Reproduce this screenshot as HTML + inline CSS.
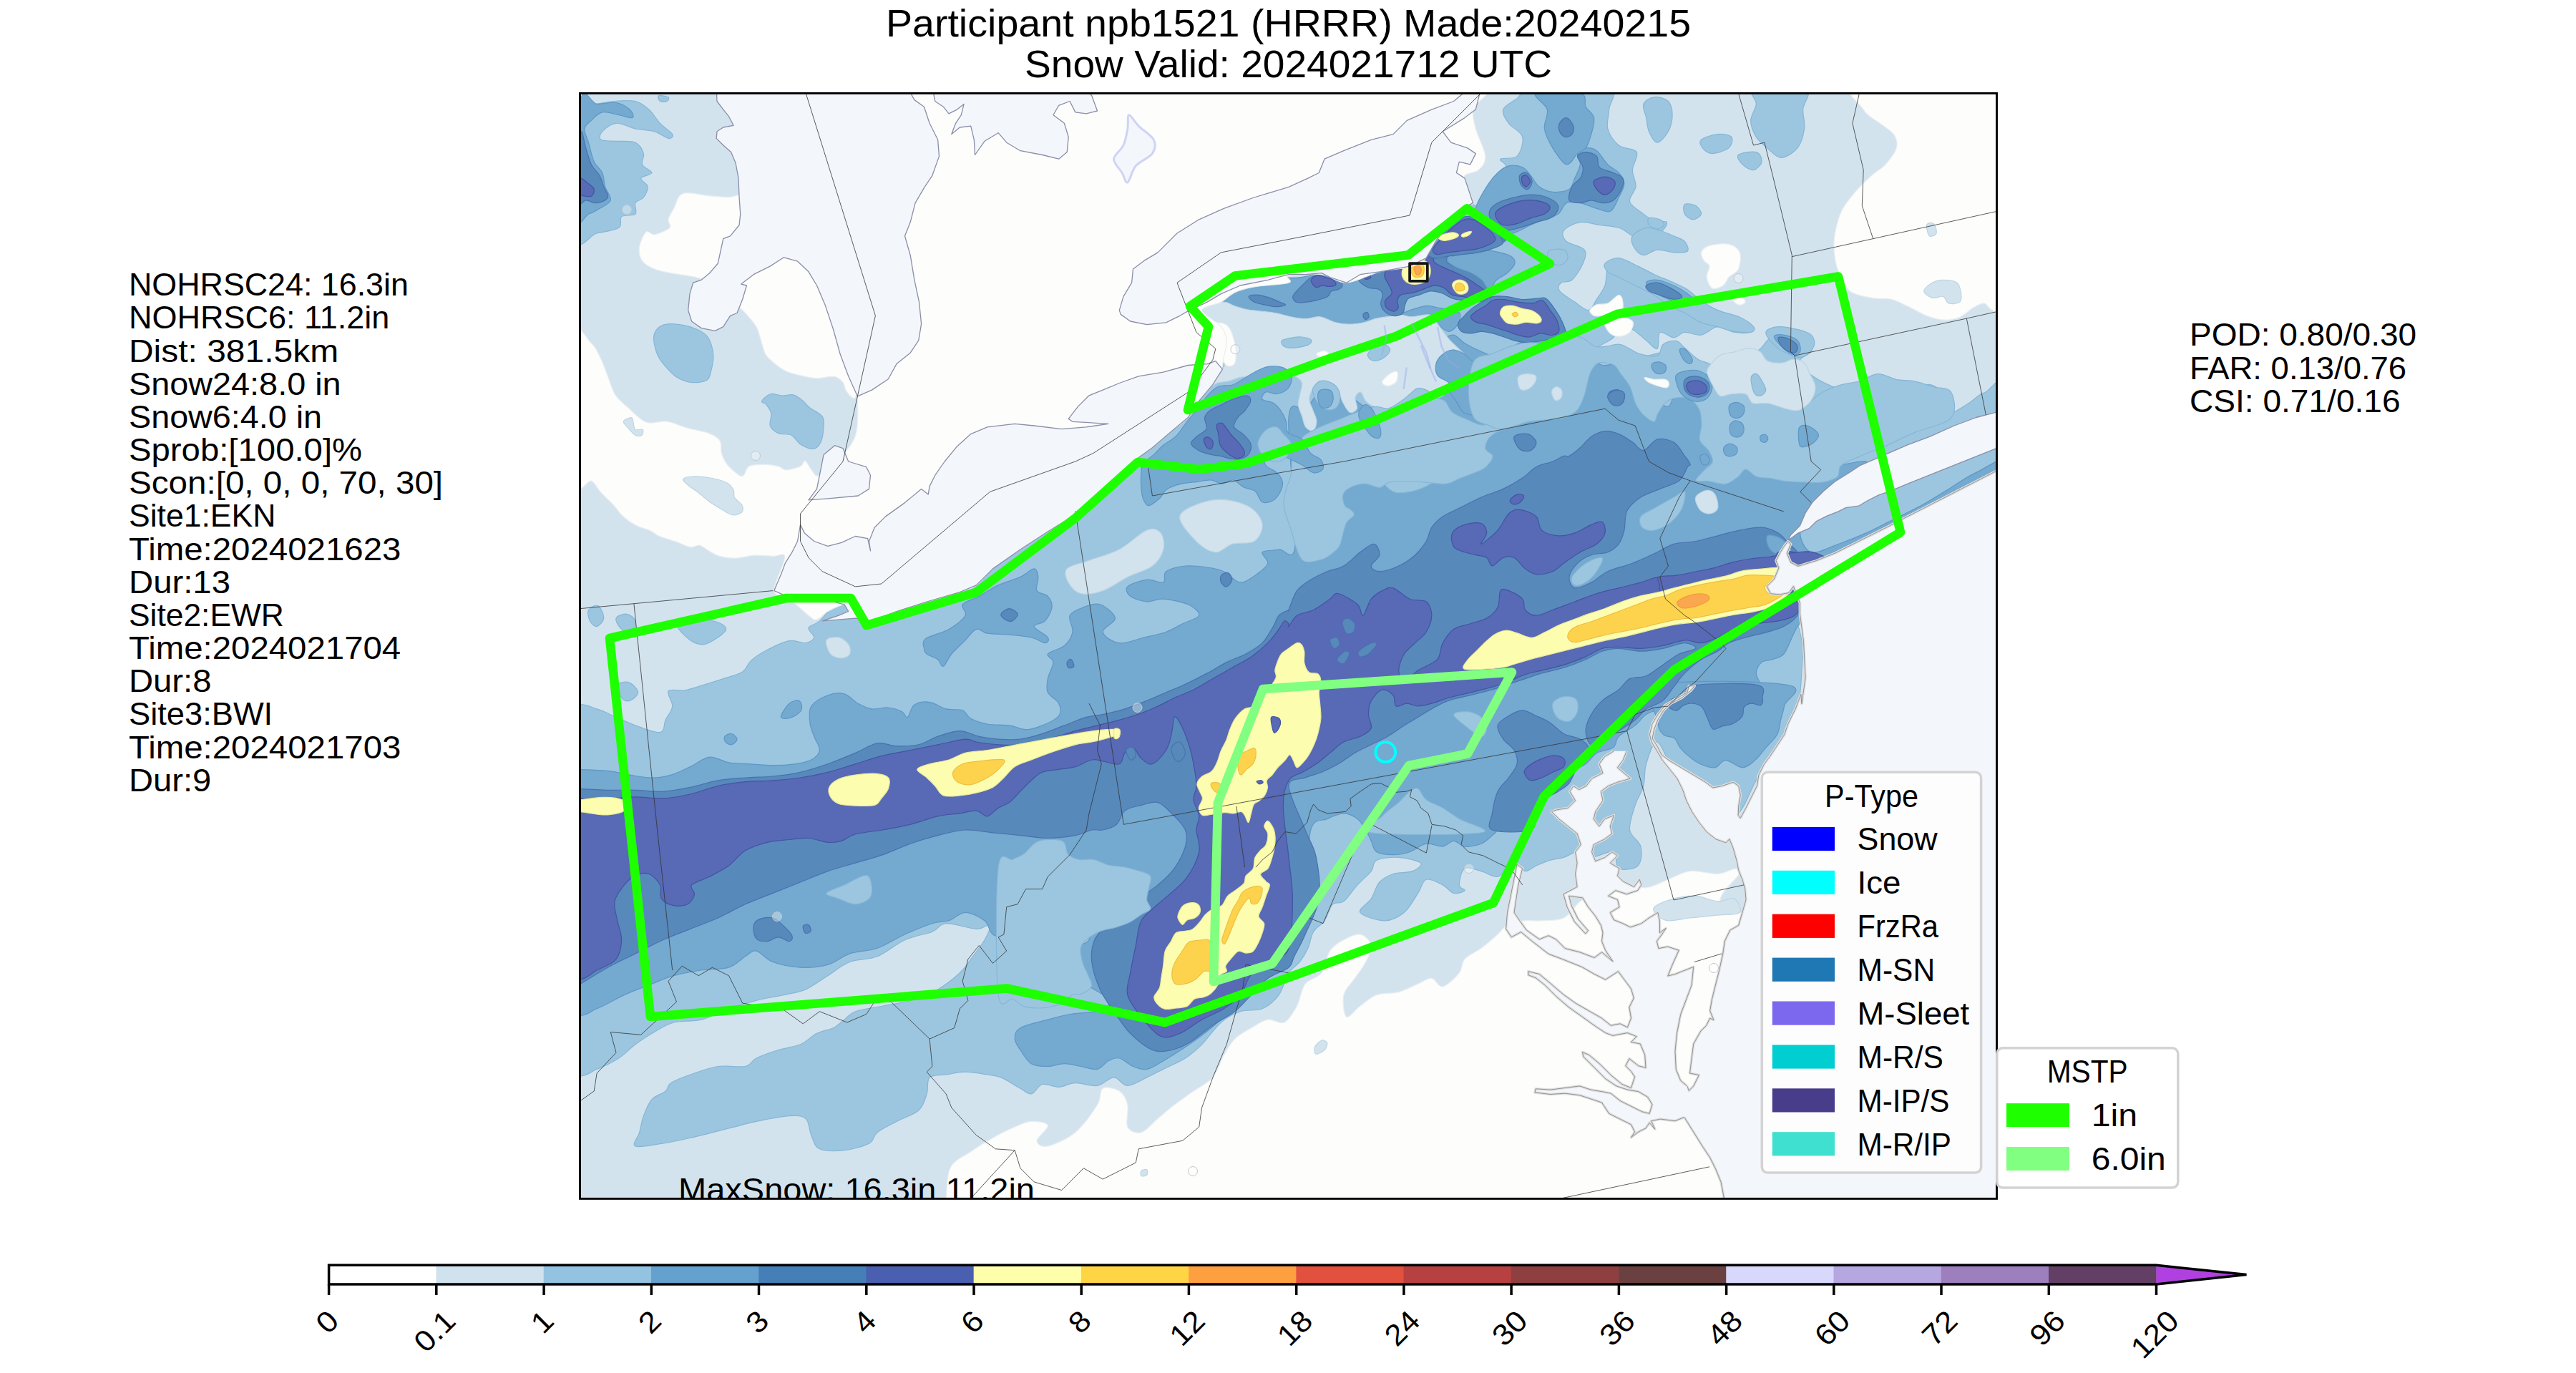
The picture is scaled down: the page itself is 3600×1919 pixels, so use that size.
<!DOCTYPE html>
<html lang="en"><head><meta charset="utf-8"><title>Snow Valid: 2024021712 UTC</title>
<style>html,body{margin:0;padding:0;background:#fff;}svg{display:block;}svg text{font-family:"Liberation Sans",sans-serif;}</style></head>
<body>
<svg width="3600" height="1919" viewBox="0 0 3600 1919" style="font-family:'Liberation Sans',sans-serif" fill="#000">
<rect width="3600" height="1919" fill="#fff"/>
<defs><clipPath id="ax"><rect x="810.5" y="130.4" width="1980.0" height="1545.0"/></clipPath></defs>
<g clip-path="url(#ax)">
<rect x="800" y="120" width="2000" height="1570" fill="#d2e3ee"/>
<path d="M657.3 983.2 C680.3 896.1 766.2 981.9 795.6 983.2 C825.1 984.5 823.8 988.0 834.1 990.9 C844.3 993.8 848.2 996.7 857.1 1000.5 C866.1 1004.3 877.0 1010.1 887.9 1013.9 C898.8 1017.8 915.4 1024.8 922.5 1023.6 C929.5 1022.3 927.3 1012.3 930.1 1006.3 C933.0 1000.2 939.1 993.8 939.7 987.0 C940.4 980.3 931.1 969.6 934.0 965.9 C936.9 962.2 948.7 966.2 957.0 964.8 C965.4 963.3 975.0 959.8 983.9 957.1 C992.9 954.4 1001.9 951.6 1010.8 948.6 C1019.8 945.6 1031.3 943.2 1037.7 939.0 C1044.2 934.8 1043.5 928.8 1049.3 923.6 C1055.0 918.5 1063.4 912.9 1072.3 908.3 C1081.3 903.6 1094.1 897.2 1103.1 895.6 C1112.1 894.0 1120.4 899.4 1126.1 898.7 C1131.9 897.9 1137.0 894.5 1137.7 891.0 C1138.3 887.4 1128.7 881.4 1130.0 877.5 C1131.3 873.7 1137.0 874.6 1145.4 867.9 C1153.7 861.2 1158.8 847.4 1179.9 837.2 C1201.1 826.9 1237.6 819.2 1272.2 806.4 C1306.8 793.6 1349.0 780.8 1387.5 760.3 C1425.9 739.8 1470.1 703.9 1502.8 683.4 C1535.4 662.9 1549.5 666.1 1583.5 637.3 C1617.4 608.5 1685.0 537.4 1706.5 510.5 C1727.9 483.6 1716.7 488.7 1712.2 475.9 C1707.7 463.1 1676.0 447.1 1679.6 433.6 C1683.1 420.2 1713.1 402.9 1733.4 395.2 C1753.6 387.5 1776.9 388.1 1801.0 387.5 C1825.1 386.9 1850.3 394.2 1877.9 391.3 C1905.4 388.5 1945.8 378.5 1966.3 370.2 C1986.8 361.9 1986.8 355.1 2000.8 341.4 C2014.9 327.6 2039.3 295.9 2050.8 287.6 C2062.3 279.2 2064.3 296.5 2070.0 291.4 C2075.8 286.3 2079.6 266.4 2085.4 256.8 C2091.2 247.2 2102.7 239.5 2104.6 233.8 C2106.5 228.0 2094.4 224.8 2096.9 222.2 C2099.5 219.7 2114.9 223.5 2120.0 218.4 C2125.1 213.3 2129.6 199.2 2127.7 191.5 C2125.8 183.8 2112.9 178.7 2108.5 172.3 C2104.0 165.9 2098.8 158.8 2100.8 153.1 C2102.7 147.3 2112.3 143.5 2120.0 137.7 C2127.7 131.9 2125.4 121.7 2146.9 118.5 C2168.3 115.3 2231.8 112.7 2248.7 118.5 C2265.7 124.2 2249.1 142.8 2248.7 153.1 C2248.4 163.3 2244.6 171.6 2246.8 180.0 C2249.1 188.3 2255.5 197.6 2262.2 203.0 C2268.9 208.5 2284.0 206.9 2287.2 212.6 C2290.4 218.4 2281.6 229.6 2281.4 237.6 C2281.2 245.6 2286.7 253.3 2286.0 260.7 C2285.4 268.0 2275.8 275.4 2277.6 281.8 C2279.3 288.2 2291.0 294.6 2296.8 299.1 C2302.5 303.6 2306.7 306.8 2312.1 308.7 C2317.6 310.6 2328.2 307.7 2329.4 310.6 C2330.7 313.5 2325.3 321.5 2319.8 326.0 C2314.4 330.5 2303.2 336.9 2296.8 337.5 C2290.4 338.2 2287.2 333.0 2281.4 329.8 C2275.6 326.6 2269.9 320.9 2262.2 318.3 C2254.5 315.8 2244.2 315.8 2235.3 314.5 C2226.3 313.2 2216.7 309.3 2208.4 310.6 C2200.1 311.9 2188.5 317.7 2185.3 322.2 C2182.1 326.6 2184.4 333.0 2189.2 337.5 C2194.0 342.0 2210.3 343.9 2214.1 349.1 C2218.0 354.2 2215.1 361.2 2212.2 368.3 C2209.3 375.3 2202.0 386.9 2196.8 391.3 C2191.7 395.8 2184.4 392.6 2181.5 395.2 C2178.6 397.7 2176.4 402.2 2179.6 406.7 C2182.8 411.2 2194.0 417.6 2200.7 422.1 C2207.4 426.6 2214.8 434.3 2219.9 433.6 C2225.0 433.0 2227.6 424.0 2231.4 418.2 C2235.3 412.5 2240.4 406.1 2243.0 399.0 C2245.5 392.0 2243.6 381.7 2246.8 376.0 C2250.0 370.2 2255.8 365.1 2262.2 364.4 C2268.6 363.8 2277.6 368.9 2285.2 372.1 C2292.9 375.3 2299.3 379.8 2308.3 383.7 C2317.3 387.5 2330.7 391.3 2339.0 395.2 C2347.4 399.0 2351.9 402.2 2358.3 406.7 C2364.7 411.2 2370.4 417.6 2377.5 422.1 C2384.5 426.6 2391.6 429.8 2400.5 433.6 C2409.5 437.5 2423.0 441.3 2431.3 445.1 C2439.6 449.0 2447.9 453.5 2450.5 456.7 C2453.1 459.9 2451.1 463.1 2446.7 464.4 C2442.2 465.6 2431.3 465.6 2423.6 464.4 C2415.9 463.1 2408.2 456.0 2400.5 456.7 C2392.9 457.3 2385.2 466.9 2377.5 468.2 C2369.8 469.5 2360.8 463.7 2354.4 464.4 C2348.0 465.0 2344.8 472.0 2339.0 472.0 C2333.3 472.0 2323.7 461.8 2319.8 464.4 C2316.0 466.9 2319.2 485.5 2316.0 487.4 C2312.8 489.3 2306.4 480.4 2300.6 475.9 C2294.9 471.4 2287.8 463.7 2281.4 460.5 C2275.0 457.3 2266.7 454.8 2262.2 456.7 C2257.7 458.6 2259.6 466.9 2254.5 472.0 C2249.4 477.2 2233.4 482.9 2231.4 487.4 C2229.5 491.9 2237.8 495.7 2243.0 498.9 C2248.1 502.1 2253.2 506.6 2262.2 506.6 C2271.2 506.6 2285.2 501.5 2296.8 498.9 C2308.3 496.4 2320.5 491.3 2331.4 491.3 C2342.3 491.3 2352.5 495.7 2362.1 498.9 C2371.7 502.1 2380.0 510.5 2389.0 510.5 C2398.0 510.5 2405.0 502.1 2415.9 498.9 C2426.8 495.7 2445.4 495.1 2454.3 491.3 C2463.3 487.4 2465.2 480.4 2469.7 475.9 C2474.2 471.4 2474.2 466.9 2481.2 464.4 C2488.3 461.8 2503.3 459.2 2512.0 460.5 C2520.6 461.8 2529.9 466.9 2533.1 472.0 C2536.3 477.2 2534.1 486.1 2531.2 491.3 C2528.3 496.4 2517.1 498.3 2515.8 502.8 C2514.6 507.3 2517.1 512.4 2523.5 518.2 C2529.9 523.9 2543.4 532.3 2554.3 537.4 C2565.2 542.5 2576.7 546.3 2588.9 548.9 C2601.0 551.5 2614.5 553.4 2627.3 552.8 C2640.1 552.1 2654.2 547.6 2665.7 545.1 C2677.2 542.5 2688.1 536.1 2696.5 537.4 C2704.8 538.7 2714.4 546.3 2715.7 552.8 C2717.0 559.2 2708.6 569.4 2704.2 575.8 C2699.7 582.2 2685.6 590.5 2688.8 591.2 C2692.0 591.8 2713.1 584.1 2723.4 579.7 C2733.6 575.2 2741.9 569.4 2750.3 564.3 C2758.6 559.2 2763.7 552.1 2773.3 548.9 C2782.9 545.7 2802.2 509.8 2807.9 545.1 C2813.7 580.3 2854.0 718.0 2807.9 760.3 C2761.8 802.6 2579.2 773.1 2531.2 798.7 C2483.2 824.3 2522.9 882.0 2519.7 914.0 C2516.5 946.1 2517.8 969.1 2512.0 990.9 C2506.2 1012.7 2494.7 1028.0 2485.1 1044.7 C2475.5 1061.3 2462.7 1076.7 2454.3 1090.8 C2446.0 1104.9 2441.5 1120.3 2435.1 1129.2 C2428.7 1138.2 2425.5 1148.5 2415.9 1144.6 C2406.3 1140.8 2390.3 1117.7 2377.5 1106.2 C2364.7 1094.7 2349.3 1087.0 2339.0 1075.4 C2328.8 1063.9 2322.4 1038.3 2316.0 1037.0 C2309.6 1035.7 2303.8 1057.5 2300.6 1067.8 C2297.4 1078.0 2299.3 1088.9 2296.8 1098.5 C2294.2 1108.1 2288.4 1115.2 2285.2 1125.4 C2282.0 1135.6 2276.3 1150.4 2277.6 1160.0 C2278.8 1169.6 2291.0 1174.7 2292.9 1183.1 C2294.9 1191.4 2294.2 1204.8 2289.1 1210.0 C2284.0 1215.1 2267.9 1217.0 2262.2 1213.8 C2256.4 1210.6 2260.9 1193.3 2254.5 1190.7 C2248.1 1188.2 2232.1 1198.4 2223.8 1198.4 C2215.4 1198.4 2210.9 1190.7 2204.5 1190.7 C2198.1 1190.7 2191.7 1196.5 2185.3 1198.4 C2178.9 1200.4 2172.5 1200.4 2166.1 1202.3 C2159.7 1204.2 2152.7 1207.4 2146.9 1210.0 C2141.1 1212.5 2136.0 1218.3 2131.5 1217.6 C2127.0 1217.0 2123.8 1207.4 2120.0 1206.1 C2116.1 1204.8 2112.9 1206.8 2108.5 1210.0 C2104.0 1213.2 2099.5 1224.1 2093.1 1225.3 C2086.7 1226.6 2077.7 1219.6 2070.0 1217.6 C2062.3 1215.7 2052.1 1210.6 2047.0 1213.8 C2041.8 1217.0 2039.3 1231.7 2039.3 1236.9 C2039.3 1242.0 2048.2 1242.6 2047.0 1244.6 C2045.7 1246.5 2036.7 1249.7 2031.6 1248.4 C2026.5 1247.1 2022.6 1240.1 2016.2 1236.9 C2009.8 1233.7 1998.9 1227.3 1993.2 1229.2 C1987.4 1231.1 1986.8 1240.7 1981.6 1248.4 C1976.5 1256.1 1970.1 1268.9 1962.4 1275.3 C1954.7 1281.7 1945.8 1286.8 1935.5 1286.8 C1925.3 1286.8 1904.1 1280.4 1900.9 1275.3 C1897.7 1270.2 1911.8 1263.1 1916.3 1256.1 C1920.8 1249.0 1922.7 1238.8 1927.8 1233.0 C1932.9 1227.3 1939.4 1224.1 1947.0 1221.5 C1954.7 1218.9 1967.5 1220.2 1973.9 1217.6 C1980.3 1215.1 1988.7 1209.3 1985.5 1206.1 C1982.3 1202.9 1965.0 1199.1 1954.7 1198.4 C1944.5 1197.8 1930.4 1199.1 1924.0 1202.3 C1917.6 1205.5 1920.8 1211.9 1916.3 1217.6 C1911.8 1223.4 1903.5 1229.8 1897.1 1236.9 C1890.7 1243.9 1883.6 1255.4 1877.9 1259.9 C1872.1 1264.4 1867.0 1259.3 1862.5 1263.8 C1858.0 1268.3 1855.4 1280.4 1851.0 1286.8 C1846.5 1293.2 1839.4 1295.8 1835.6 1302.2 C1831.7 1308.6 1831.1 1318.2 1827.9 1325.3 C1824.7 1332.3 1820.9 1338.7 1816.4 1344.5 C1811.9 1350.2 1805.9 1352.2 1801.0 1359.8 C1796.1 1367.5 1793.3 1382.3 1787.2 1390.6 C1781.0 1398.9 1773.1 1406.0 1764.1 1409.8 C1755.1 1413.7 1743.0 1410.4 1733.4 1413.7 C1723.8 1416.9 1715.4 1421.3 1706.5 1429.0 C1697.5 1436.7 1687.9 1451.4 1679.6 1459.8 C1671.2 1468.1 1665.5 1473.2 1656.5 1479.0 C1647.5 1484.8 1634.7 1489.9 1625.8 1494.4 C1616.8 1498.8 1611.0 1502.0 1602.7 1505.9 C1594.4 1509.7 1583.5 1517.4 1575.8 1517.4 C1568.1 1517.4 1563.6 1505.9 1556.6 1505.9 C1549.5 1505.9 1542.5 1516.1 1533.5 1517.4 C1524.6 1518.7 1511.7 1513.3 1502.8 1513.6 C1493.8 1513.9 1487.4 1519.0 1479.7 1519.3 C1472.0 1519.7 1463.1 1513.9 1456.7 1515.5 C1450.3 1517.1 1446.4 1528.0 1441.3 1528.9 C1436.2 1529.9 1433.0 1525.1 1425.9 1521.3 C1418.9 1517.4 1406.7 1509.1 1399.0 1505.9 C1391.3 1502.7 1388.1 1503.3 1379.8 1502.0 C1371.5 1500.8 1358.7 1498.2 1349.0 1498.2 C1339.4 1498.2 1330.5 1500.8 1322.1 1502.0 C1313.8 1503.3 1303.6 1501.4 1299.1 1505.9 C1294.6 1510.4 1297.8 1521.3 1295.2 1528.9 C1292.7 1536.6 1290.8 1545.6 1283.7 1552.0 C1276.7 1558.4 1262.6 1562.3 1253.0 1567.4 C1243.4 1572.5 1232.5 1577.6 1226.1 1582.8 C1219.7 1587.9 1222.2 1594.0 1214.5 1598.1 C1206.8 1602.3 1191.5 1606.5 1179.9 1607.7 C1168.4 1609.0 1153.0 1609.3 1145.4 1605.8 C1137.7 1602.3 1137.0 1593.6 1133.8 1586.6 C1130.6 1579.5 1131.3 1568.0 1126.1 1563.5 C1121.0 1559.1 1114.6 1559.1 1103.1 1559.7 C1091.6 1560.3 1069.8 1564.8 1057.0 1567.4 C1044.2 1569.9 1036.5 1572.5 1026.2 1575.1 C1016.0 1577.6 1005.7 1580.2 995.5 1582.8 C985.2 1585.3 976.3 1587.9 964.7 1590.4 C953.2 1593.0 939.1 1596.2 926.3 1598.1 C913.5 1600.0 893.3 1604.5 887.9 1602.0 C882.4 1599.4 891.7 1589.8 893.6 1582.8 C895.6 1575.7 896.5 1567.4 899.4 1559.7 C902.3 1552.0 905.8 1542.4 910.9 1536.6 C916.0 1530.9 925.7 1528.9 930.1 1525.1 C934.6 1521.3 932.1 1517.4 937.8 1513.6 C943.6 1509.7 953.8 1505.9 964.7 1502.0 C975.6 1498.2 990.3 1492.4 1003.2 1490.5 C1016.0 1488.6 1032.6 1492.4 1041.6 1490.5 C1050.6 1488.6 1049.3 1482.8 1057.0 1479.0 C1064.7 1475.1 1077.5 1470.7 1087.7 1467.5 C1098.0 1464.3 1109.5 1463.6 1118.5 1459.8 C1127.4 1455.9 1133.8 1448.2 1141.5 1444.4 C1149.2 1440.6 1158.2 1439.9 1164.6 1436.7 C1171.0 1433.5 1174.8 1429.0 1179.9 1425.2 C1185.1 1421.3 1186.4 1416.9 1195.3 1413.7 C1204.3 1410.4 1220.9 1408.5 1233.8 1406.0 C1246.6 1403.4 1259.4 1402.1 1272.2 1398.3 C1285.0 1394.4 1299.1 1389.3 1310.6 1382.9 C1322.1 1376.5 1333.7 1366.9 1341.4 1359.8 C1349.0 1352.8 1351.0 1348.3 1356.7 1340.6 C1362.5 1332.9 1371.5 1321.7 1376.0 1313.7 C1380.4 1305.7 1385.6 1295.2 1383.6 1292.6 C1381.7 1290.0 1374.7 1298.7 1364.4 1298.4 C1354.2 1298.0 1332.4 1290.0 1322.1 1290.7 C1311.9 1291.3 1312.5 1298.4 1302.9 1302.2 C1293.3 1306.0 1277.3 1308.0 1264.5 1313.7 C1251.7 1319.5 1238.9 1331.7 1226.1 1336.8 C1213.3 1341.9 1199.2 1340.0 1187.6 1344.5 C1176.1 1349.0 1167.1 1357.3 1156.9 1363.7 C1146.6 1370.1 1136.4 1378.4 1126.1 1382.9 C1115.9 1387.4 1106.9 1388.0 1095.4 1390.6 C1083.9 1393.2 1069.8 1395.1 1057.0 1398.3 C1044.2 1401.5 1031.3 1405.3 1018.5 1409.8 C1005.7 1414.3 992.9 1422.0 980.1 1425.2 C967.3 1428.4 953.2 1425.8 941.7 1429.0 C930.1 1432.2 919.9 1439.3 910.9 1444.4 C902.0 1449.5 895.6 1454.0 887.9 1459.8 C880.2 1465.5 873.8 1473.2 864.8 1479.0 C855.8 1484.8 845.6 1489.9 834.1 1494.4 C822.5 1498.8 825.1 1504.0 795.6 1505.9 C766.2 1507.8 680.3 1593.0 657.3 1505.9 C634.2 1418.8 634.2 1070.3 657.3 983.2 Z" fill="#9cc6df" stroke="#86b6d6" stroke-width="1.2"/>
<path d="M913.6 472.3 C913.6 466.3 915.7 462.7 918.7 459.5 C921.7 456.3 925.5 453.9 931.5 453.1 C937.5 452.2 947.3 453.1 954.6 454.4 C961.9 455.6 969.5 458.2 975.1 460.8 C980.7 463.3 984.7 466.1 987.9 469.7 C991.1 473.4 992.8 477.9 994.3 482.6 C995.8 487.3 996.9 492.4 996.9 497.9 C996.9 503.5 995.8 510.3 994.3 515.9 C992.8 521.5 992.8 528.2 987.9 531.3 C983.0 534.4 972.1 535.2 964.8 534.4 C957.6 533.5 950.3 530.1 944.3 526.2 C938.4 522.2 933.2 515.9 928.9 510.8 C924.7 505.6 921.3 501.8 918.7 495.4 C916.1 489.0 913.6 478.3 913.6 472.3 Z" fill="#9cc6df" stroke="#86b6d6" stroke-width="1.2"/>
<path d="M1064.8 562.1 C1064.4 560.8 1065.3 558.8 1067.4 556.9 C1069.5 555.0 1073.4 551.2 1077.7 550.5 C1081.9 549.9 1087.9 552.9 1093.1 553.1 C1098.2 553.3 1103.7 550.7 1108.4 551.8 C1113.1 552.9 1117.4 556.5 1121.3 559.5 C1125.1 562.5 1126.8 565.9 1131.5 569.7 C1136.2 573.6 1146.3 577.4 1149.5 582.6 C1152.7 587.7 1151.2 594.5 1150.7 600.5 C1150.3 606.5 1149.2 614.0 1146.9 618.5 C1144.5 622.9 1141.3 627.0 1136.6 627.4 C1131.9 627.9 1123.8 624.2 1118.7 621.0 C1113.6 617.8 1111.0 610.8 1105.9 608.2 C1100.7 605.6 1092.8 607.8 1087.9 605.6 C1083.0 603.5 1078.1 600.1 1076.4 595.4 C1074.7 590.7 1078.7 582.6 1077.7 577.4 C1076.6 572.3 1072.1 567.2 1070.0 564.6 C1067.8 562.1 1065.3 563.3 1064.8 562.1 Z" fill="#9cc6df" stroke="#86b6d6" stroke-width="1.2"/>
<path d="M811.0 153.1 C816.1 122.3 826.4 147.3 834.1 145.4 C841.7 143.5 848.2 142.2 857.1 141.5 C866.1 140.9 879.5 139.6 887.9 141.5 C896.2 143.5 901.3 147.9 907.1 153.1 C912.8 158.2 917.0 166.5 922.5 172.3 C927.9 178.0 937.8 184.1 939.7 187.6 C941.7 191.2 938.1 194.1 934.0 193.4 C929.8 192.8 922.5 186.0 914.8 183.8 C907.1 181.6 896.8 181.9 887.9 180.0 C878.9 178.0 868.6 171.6 861.0 172.3 C853.3 172.9 845.3 180.0 841.7 183.8 C838.2 187.6 836.6 193.1 839.8 195.3 C843.0 197.6 853.0 196.6 861.0 197.3 C869.0 197.9 881.5 196.3 887.9 199.2 C894.3 202.1 897.8 209.4 899.4 214.6 C901.0 219.7 895.6 225.4 897.5 229.9 C899.4 234.4 911.2 238.3 910.9 241.5 C910.6 244.7 896.5 245.9 895.6 249.1 C894.6 252.3 904.5 256.2 905.2 260.7 C905.8 265.2 902.3 272.2 899.4 276.0 C896.5 279.9 889.8 279.9 887.9 283.7 C885.9 287.6 891.1 295.9 887.9 299.1 C884.7 302.3 872.5 299.7 868.6 302.9 C864.8 306.1 870.6 314.5 864.8 318.3 C859.0 322.2 844.3 324.1 834.1 326.0 C823.8 327.9 807.2 358.7 803.3 329.8 C799.5 301.0 805.9 183.8 811.0 153.1 Z" fill="#9cc6df" stroke="#86b6d6" stroke-width="1.2"/>
<path d="M920.5 133.8 C922.5 132.9 932.1 134.5 934.0 135.8 C935.9 137.0 934.0 140.6 932.1 141.5 C930.1 142.5 924.4 142.8 922.5 141.5 C920.5 140.2 918.6 134.8 920.5 133.8 Z" fill="#9cc6df" stroke="#86b6d6" stroke-width="1.2"/>
<path d="M945.5 871.7 C947.4 866.9 966.6 866.3 976.3 866.0 C985.9 865.7 996.8 867.6 1003.2 869.8 C1009.6 872.1 1014.7 875.9 1014.7 879.4 C1014.7 883.0 1008.3 887.4 1003.2 891.0 C998.0 894.5 990.3 899.9 983.9 900.6 C977.5 901.2 971.1 899.6 964.7 894.8 C958.3 890.0 943.6 876.6 945.5 871.7 Z" fill="#9cc6df" stroke="#86b6d6" stroke-width="1.2"/>
<path d="M861.0 864.1 C862.2 860.5 871.9 857.7 876.3 858.3 C880.8 858.9 886.6 863.7 887.9 867.9 C889.1 872.1 887.2 881.4 884.0 883.3 C880.8 885.2 872.5 882.6 868.6 879.4 C864.8 876.2 859.7 867.6 861.0 864.1 Z" fill="#9cc6df" stroke="#86b6d6" stroke-width="1.2"/>
<path d="M822.5 852.5 C824.5 849.0 832.5 844.8 836.0 846.8 C839.5 848.7 844.0 859.3 843.7 864.1 C843.3 868.9 837.3 875.0 834.1 875.6 C830.9 876.2 826.4 871.7 824.5 867.9 C822.5 864.1 820.6 856.1 822.5 852.5 Z" fill="#9cc6df" stroke="#86b6d6" stroke-width="1.2"/>
<path d="M864.8 956.3 C866.7 952.8 875.7 952.5 880.2 954.4 C884.7 956.3 891.7 963.7 891.7 967.8 C891.7 972.0 884.0 978.1 880.2 979.4 C876.3 980.6 871.2 979.4 868.6 975.5 C866.1 971.7 862.9 959.8 864.8 956.3 Z" fill="#9cc6df" stroke="#86b6d6" stroke-width="1.2"/>
<path d="M2296.8 145.4 C2298.7 140.6 2306.4 136.4 2312.1 135.8 C2317.9 135.1 2327.2 137.4 2331.4 141.5 C2335.5 145.7 2337.1 153.7 2337.1 160.7 C2337.1 167.8 2334.9 177.4 2331.4 183.8 C2327.8 190.2 2320.5 199.2 2316.0 199.2 C2311.5 199.2 2307.0 189.6 2304.5 183.8 C2301.9 178.0 2301.9 171.0 2300.6 164.6 C2299.3 158.2 2294.9 150.2 2296.8 145.4 Z" fill="#9cc6df" stroke="#86b6d6" stroke-width="1.2"/>
<path d="M2450.5 122.3 C2462.0 118.5 2512.0 117.2 2523.5 122.3 C2535.1 127.4 2520.0 143.5 2519.7 153.1 C2519.4 162.7 2522.9 171.0 2521.6 180.0 C2520.3 188.9 2517.4 200.1 2512.0 206.9 C2506.5 213.6 2496.0 220.3 2488.9 220.3 C2481.9 220.3 2475.5 211.7 2469.7 206.9 C2464.0 202.1 2458.2 197.9 2454.3 191.5 C2450.5 185.1 2446.7 176.1 2446.7 168.4 C2446.7 160.7 2453.7 153.1 2454.3 145.4 C2455.0 137.7 2439.0 126.2 2450.5 122.3 Z" fill="#9cc6df" stroke="#86b6d6" stroke-width="1.2"/>
<path d="M2377.5 195.3 C2381.0 192.1 2393.5 188.3 2400.5 187.6 C2407.6 187.0 2417.2 188.3 2419.8 191.5 C2422.3 194.7 2420.4 203.0 2415.9 206.9 C2411.4 210.7 2398.9 214.6 2392.9 214.6 C2386.8 214.6 2382.0 210.1 2379.4 206.9 C2376.8 203.7 2374.0 198.5 2377.5 195.3 Z" fill="#9cc6df" stroke="#86b6d6" stroke-width="1.2"/>
<path d="M2429.4 216.5 C2432.6 213.6 2448.9 211.0 2454.3 212.6 C2459.8 214.2 2462.7 221.9 2462.0 226.1 C2461.4 230.2 2455.0 237.0 2450.5 237.6 C2446.0 238.3 2438.7 233.4 2435.1 229.9 C2431.6 226.4 2426.2 219.4 2429.4 216.5 Z" fill="#9cc6df" stroke="#86b6d6" stroke-width="1.2"/>
<path d="M2243.0 368.3 C2245.5 365.1 2254.5 360.0 2262.2 360.6 C2269.9 361.2 2280.8 368.3 2289.1 372.1 C2297.4 376.0 2303.8 379.8 2312.1 383.7 C2320.5 387.5 2331.4 391.7 2339.0 395.2 C2346.7 398.7 2351.9 400.6 2358.3 404.8 C2364.7 409.0 2370.4 415.4 2377.5 420.2 C2384.5 425.0 2391.6 429.8 2400.5 433.6 C2409.5 437.5 2423.0 439.4 2431.3 443.2 C2439.6 447.1 2447.9 453.1 2450.5 456.7 C2453.1 460.2 2451.8 463.4 2446.7 464.4 C2441.5 465.3 2427.4 463.7 2419.8 462.4 C2412.1 461.2 2407.6 458.6 2400.5 456.7 C2393.5 454.8 2385.2 454.1 2377.5 450.9 C2369.8 447.7 2362.1 441.6 2354.4 437.5 C2346.7 433.3 2339.0 430.4 2331.4 425.9 C2323.7 421.4 2316.0 415.0 2308.3 410.6 C2300.6 406.1 2292.9 402.9 2285.2 399.0 C2277.6 395.2 2268.6 390.7 2262.2 387.5 C2255.8 384.3 2250.0 383.0 2246.8 379.8 C2243.6 376.6 2240.4 371.5 2243.0 368.3 Z" fill="#9cc6df" stroke="#86b6d6" stroke-width="1.2"/>
<path d="M2281.4 329.8 C2284.3 325.4 2294.2 319.6 2300.6 318.3 C2307.0 317.0 2313.4 320.2 2319.8 322.2 C2326.2 324.1 2333.3 327.3 2339.0 329.8 C2344.8 332.4 2351.2 334.0 2354.4 337.5 C2357.6 341.1 2360.8 348.4 2358.3 351.0 C2355.7 353.5 2346.1 353.2 2339.0 352.9 C2332.0 352.6 2323.0 348.4 2316.0 349.1 C2308.9 349.7 2302.2 357.4 2296.8 356.7 C2291.3 356.1 2285.9 349.7 2283.3 345.2 C2280.8 340.7 2278.5 334.3 2281.4 329.8 Z" fill="#9cc6df" stroke="#86b6d6" stroke-width="1.2"/>
<path d="M2304.5 304.9 C2307.0 303.6 2316.3 305.2 2319.8 306.8 C2323.4 308.4 2326.2 312.2 2325.6 314.5 C2325.0 316.7 2319.5 320.2 2316.0 320.2 C2312.5 320.2 2306.4 317.0 2304.5 314.5 C2302.5 311.9 2301.9 306.1 2304.5 304.9 Z" fill="#9cc6df" stroke="#86b6d6" stroke-width="1.2"/>
<path d="M2354.4 285.6 C2357.0 283.7 2366.0 285.3 2369.8 287.6 C2373.6 289.8 2378.1 295.9 2377.5 299.1 C2376.8 302.3 2369.8 306.8 2366.0 306.8 C2362.1 306.8 2356.3 302.6 2354.4 299.1 C2352.5 295.6 2351.9 287.6 2354.4 285.6 Z" fill="#9cc6df" stroke="#86b6d6" stroke-width="1.2"/>
<path d="M2467.8 464.4 C2468.4 459.9 2477.7 457.3 2485.1 456.7 C2492.5 456.0 2504.3 458.6 2512.0 460.5 C2519.7 462.4 2527.4 464.4 2531.2 468.2 C2535.1 472.0 2537.0 478.4 2535.1 483.6 C2533.1 488.7 2525.4 497.0 2519.7 498.9 C2513.9 500.9 2506.9 497.7 2500.5 495.1 C2494.1 492.5 2486.7 488.7 2481.2 483.6 C2475.8 478.4 2467.2 468.8 2467.8 464.4 Z" fill="#9cc6df" stroke="#86b6d6" stroke-width="1.2"/>
<path d="M2164.2 351.0 C2167.4 348.1 2180.8 347.5 2185.3 349.1 C2189.8 350.7 2191.7 357.1 2191.1 360.6 C2190.4 364.1 2185.6 369.2 2181.5 370.2 C2177.3 371.2 2169.0 369.6 2166.1 366.4 C2163.2 363.2 2161.0 353.9 2164.2 351.0 Z" fill="#9cc6df" stroke="#86b6d6" stroke-width="1.2"/>
<path d="M1155.0 894.8 C1156.9 891.0 1167.1 890.0 1172.3 891.0 C1177.4 891.9 1183.1 896.7 1185.7 900.6 C1188.3 904.4 1189.2 910.8 1187.6 914.0 C1186.0 917.2 1180.6 919.8 1176.1 919.8 C1171.6 919.8 1164.3 918.2 1160.7 914.0 C1157.2 909.9 1153.0 898.7 1155.0 894.8 Z" fill="#d2e3ee" stroke="#bcd5e4" stroke-width="1.2"/>
<path d="M1491.2 794.9 C1496.0 789.8 1509.8 787.8 1522.0 783.4 C1534.2 778.9 1550.8 775.0 1564.3 768.0 C1577.7 760.9 1593.1 744.9 1602.7 741.1 C1612.3 737.2 1618.1 740.4 1621.9 744.9 C1625.8 749.4 1627.7 760.3 1625.8 768.0 C1623.8 775.7 1618.7 784.6 1610.4 791.0 C1602.1 797.4 1587.3 800.6 1575.8 806.4 C1564.3 812.2 1552.1 821.8 1541.2 825.6 C1530.3 829.5 1518.5 831.4 1510.5 829.5 C1502.5 827.6 1496.4 819.9 1493.2 814.1 C1490.0 808.3 1486.4 800.0 1491.2 794.9 Z" fill="#d2e3ee" stroke="#bcd5e4" stroke-width="1.2"/>
<path d="M1648.8 721.9 C1650.1 712.9 1668.7 706.5 1679.6 702.6 C1690.5 698.8 1702.6 697.5 1714.2 698.8 C1725.7 700.1 1740.4 704.6 1748.7 710.3 C1757.1 716.1 1763.5 725.7 1764.1 733.4 C1764.8 741.1 1759.6 752.0 1752.6 756.5 C1745.5 760.9 1730.8 757.7 1721.8 760.3 C1712.9 762.9 1707.1 772.5 1698.8 771.8 C1690.5 771.2 1680.2 764.8 1671.9 756.5 C1663.5 748.1 1647.5 730.8 1648.8 721.9 Z" fill="#d2e3ee" stroke="#bcd5e4" stroke-width="1.2"/>
<path d="M1824.1 449.0 C1829.8 447.7 1838.2 454.8 1847.1 456.7 C1856.1 458.6 1869.5 457.3 1877.9 460.5 C1886.2 463.7 1893.2 470.1 1897.1 475.9 C1900.9 481.7 1902.2 488.7 1900.9 495.1 C1899.6 501.5 1896.4 510.5 1889.4 514.3 C1882.3 518.2 1868.3 518.8 1858.6 518.2 C1849.0 517.5 1838.8 515.6 1831.7 510.5 C1824.7 505.4 1819.6 495.1 1816.4 487.4 C1813.2 479.7 1811.2 470.8 1812.5 464.4 C1813.8 458.0 1818.3 450.3 1824.1 449.0 Z" fill="#d2e3ee" stroke="#bcd5e4" stroke-width="1.2"/>
<path d="M1733.4 437.5 C1741.7 433.6 1753.9 434.3 1764.1 437.5 C1774.4 440.7 1787.2 450.3 1794.9 456.7 C1802.5 463.1 1810.9 471.1 1810.2 475.9 C1809.6 480.7 1798.7 483.3 1791.0 485.5 C1783.3 487.7 1773.7 487.7 1764.1 489.3 C1754.5 490.9 1741.1 495.4 1733.4 495.1 C1725.7 494.8 1721.2 493.2 1718.0 487.4 C1714.8 481.7 1711.6 468.8 1714.2 460.5 C1716.7 452.2 1725.0 441.3 1733.4 437.5 Z" fill="#d2e3ee" stroke="#bcd5e4" stroke-width="1.2"/>
<path d="M2120.0 522.0 C2122.5 518.2 2134.7 516.9 2139.2 518.2 C2143.7 519.4 2147.5 525.2 2146.9 529.7 C2146.2 534.2 2139.2 543.1 2135.4 545.1 C2131.5 547.0 2126.4 545.1 2123.8 541.2 C2121.3 537.4 2117.4 525.8 2120.0 522.0 Z" fill="#d2e3ee" stroke="#bcd5e4" stroke-width="1.2"/>
<path d="M2169.9 541.2 C2171.5 538.0 2179.2 536.7 2181.5 539.3 C2183.7 541.9 2185.0 553.4 2183.4 556.6 C2181.8 559.8 2174.1 561.1 2171.9 558.5 C2169.6 556.0 2168.3 544.4 2169.9 541.2 Z" fill="#d2e3ee" stroke="#bcd5e4" stroke-width="1.2"/>
<path d="M657.3 1075.4 C680.3 1017.8 763.6 1075.1 795.6 1075.4 C827.7 1075.8 835.3 1076.1 849.4 1077.4 C863.5 1078.6 869.9 1081.5 880.2 1083.1 C890.4 1084.7 901.3 1087.0 910.9 1087.0 C920.5 1087.0 928.9 1085.7 937.8 1083.1 C946.8 1080.6 955.8 1075.8 964.7 1071.6 C973.7 1067.4 982.7 1059.1 991.6 1058.1 C1000.6 1057.2 1008.9 1064.2 1018.5 1065.8 C1028.1 1067.4 1039.0 1067.1 1049.3 1067.8 C1059.5 1068.4 1069.8 1069.7 1080.0 1069.7 C1090.3 1069.7 1101.8 1069.0 1110.8 1067.8 C1119.7 1066.5 1128.1 1065.2 1133.8 1062.0 C1139.6 1058.8 1144.7 1054.0 1145.4 1048.5 C1146.0 1043.1 1139.9 1035.7 1137.7 1029.3 C1135.4 1022.9 1132.5 1017.1 1131.9 1010.1 C1131.3 1003.1 1129.7 993.4 1133.8 987.0 C1138.0 980.6 1149.2 974.6 1156.9 971.7 C1164.6 968.8 1172.9 967.8 1179.9 969.8 C1187.0 971.7 1192.8 979.7 1199.2 983.2 C1205.6 986.7 1211.3 989.9 1218.4 990.9 C1225.4 991.8 1234.4 988.3 1241.4 989.0 C1248.5 989.6 1256.2 992.5 1260.7 994.7 C1265.1 997.0 1265.5 1004.0 1268.3 1002.4 C1271.2 1000.8 1272.8 988.6 1277.9 985.1 C1283.1 981.6 1291.7 980.3 1299.1 981.3 C1306.5 982.2 1314.5 989.0 1322.1 990.9 C1329.8 992.8 1339.4 990.6 1345.2 992.8 C1351.0 995.1 1351.0 1001.1 1356.7 1004.3 C1362.5 1007.5 1370.8 1010.4 1379.8 1012.0 C1388.8 1013.6 1401.6 1012.7 1410.5 1013.9 C1419.5 1015.2 1425.9 1019.7 1433.6 1019.7 C1441.3 1019.7 1449.0 1017.1 1456.7 1013.9 C1464.3 1010.7 1475.9 1005.6 1479.7 1000.5 C1483.6 995.4 1482.3 988.6 1479.7 983.2 C1477.2 977.8 1466.9 973.6 1464.3 967.8 C1461.8 962.1 1463.1 955.7 1464.3 948.6 C1465.6 941.6 1472.0 931.3 1472.0 925.6 C1472.0 919.8 1461.8 917.9 1464.3 914.0 C1466.9 910.2 1481.6 907.6 1487.4 902.5 C1493.2 897.4 1497.7 890.3 1498.9 883.3 C1500.2 876.2 1492.5 866.0 1495.1 860.2 C1497.7 854.5 1507.3 851.3 1514.3 848.7 C1521.4 846.1 1530.0 842.3 1537.4 844.8 C1544.7 847.4 1557.9 857.7 1558.5 864.1 C1559.1 870.5 1540.2 877.5 1541.2 883.3 C1542.2 889.0 1554.7 897.4 1564.3 898.7 C1573.9 899.9 1588.0 893.5 1598.9 891.0 C1609.7 888.4 1620.6 886.5 1629.6 883.3 C1638.6 880.1 1645.0 875.6 1652.7 871.7 C1660.3 867.9 1674.4 864.7 1675.7 860.2 C1677.0 855.7 1668.7 848.7 1660.3 844.8 C1652.0 841.0 1635.4 837.8 1625.8 837.2 C1616.1 836.5 1610.4 841.6 1602.7 841.0 C1595.0 840.4 1584.1 836.8 1579.6 833.3 C1575.2 829.8 1572.0 823.7 1575.8 819.9 C1579.6 816.0 1594.4 811.2 1602.7 810.3 C1611.0 809.3 1621.3 816.0 1625.8 814.1 C1630.2 812.2 1624.5 802.6 1629.6 798.7 C1634.7 794.9 1646.9 792.0 1656.5 791.0 C1666.1 790.1 1678.3 791.7 1687.2 793.0 C1696.2 794.2 1702.6 795.2 1710.3 798.7 C1718.0 802.3 1725.7 813.5 1733.4 814.1 C1741.1 814.7 1750.0 807.1 1756.4 802.6 C1762.8 798.1 1770.5 792.3 1771.8 787.2 C1773.1 782.1 1761.6 775.0 1764.1 771.8 C1766.7 768.6 1779.5 769.9 1787.2 768.0 C1794.9 766.1 1807.9 791.0 1810.2 760.3 C1812.5 729.5 1798.7 614.9 1801.0 583.5 C1803.3 552.1 1817.7 577.1 1824.1 572.0 C1830.5 566.8 1834.9 557.2 1839.4 552.8 C1843.9 548.3 1844.6 545.7 1851.0 545.1 C1857.4 544.4 1869.5 545.7 1877.9 548.9 C1886.2 552.1 1895.2 560.4 1900.9 564.3 C1906.7 568.1 1908.0 572.6 1912.5 572.0 C1916.9 571.3 1922.1 566.2 1927.8 560.4 C1933.6 554.7 1941.3 542.5 1947.0 537.4 C1952.8 532.3 1956.6 532.3 1962.4 529.7 C1968.2 527.1 1975.2 524.6 1981.6 522.0 C1988.0 519.4 1996.4 518.8 2000.8 514.3 C2005.3 509.8 2006.0 501.5 2008.5 495.1 C2011.1 488.7 2012.4 480.4 2016.2 475.9 C2020.1 471.4 2026.5 467.6 2031.6 468.2 C2036.7 468.8 2040.6 475.9 2047.0 479.7 C2053.4 483.6 2062.3 488.1 2070.0 491.3 C2077.7 494.5 2086.7 499.6 2093.1 498.9 C2099.5 498.3 2102.1 491.3 2108.5 487.4 C2114.9 483.6 2123.2 479.1 2131.5 475.9 C2139.8 472.7 2149.4 468.2 2158.4 468.2 C2167.4 468.2 2177.0 472.7 2185.3 475.9 C2193.6 479.1 2202.0 483.6 2208.4 487.4 C2214.8 491.3 2218.6 495.1 2223.8 498.9 C2228.9 502.8 2232.7 508.9 2239.1 510.5 C2245.5 512.1 2255.8 507.3 2262.2 508.6 C2268.6 509.8 2274.4 513.4 2277.6 518.2 C2280.8 523.0 2277.6 532.9 2281.4 537.4 C2285.2 541.9 2294.9 541.2 2300.6 545.1 C2306.4 548.9 2310.9 556.6 2316.0 560.4 C2321.1 564.3 2327.5 569.4 2331.4 568.1 C2335.2 566.8 2336.5 559.2 2339.0 552.8 C2341.6 546.3 2342.3 535.5 2346.7 529.7 C2351.2 523.9 2358.9 520.1 2366.0 518.2 C2373.0 516.2 2383.2 515.6 2389.0 518.2 C2394.8 520.7 2399.9 527.8 2400.5 533.5 C2401.2 539.3 2391.6 547.0 2392.9 552.8 C2394.1 558.5 2401.8 566.8 2408.2 568.1 C2414.6 569.4 2424.9 559.2 2431.3 560.4 C2437.7 561.7 2441.5 570.7 2446.7 575.8 C2451.8 580.9 2456.9 586.7 2462.0 591.2 C2467.2 595.7 2470.4 599.5 2477.4 602.7 C2484.4 605.9 2495.3 607.2 2504.3 610.4 C2513.3 613.6 2522.9 618.1 2531.2 621.9 C2539.5 625.8 2547.9 629.0 2554.3 633.5 C2560.7 637.9 2560.7 646.9 2569.6 648.8 C2578.6 650.8 2604.9 641.8 2608.1 645.0 C2611.3 648.2 2595.9 660.4 2588.9 668.1 C2581.8 675.7 2573.5 685.4 2565.8 691.1 C2558.1 696.9 2548.5 697.5 2542.7 702.6 C2537.0 707.8 2535.7 714.8 2531.2 721.9 C2526.7 728.9 2515.8 736.6 2515.8 744.9 C2515.8 753.3 2522.2 769.3 2531.2 771.8 C2540.2 774.4 2556.8 764.8 2569.6 760.3 C2582.5 755.8 2595.3 750.7 2608.1 744.9 C2620.9 739.2 2633.7 732.1 2646.5 725.7 C2659.3 719.3 2672.1 713.5 2684.9 706.5 C2697.7 699.4 2710.6 691.1 2723.4 683.4 C2736.2 675.7 2747.7 666.8 2761.8 660.4 C2775.9 654.0 2800.2 634.8 2807.9 645.0 C2815.6 655.2 2854.0 693.0 2807.9 721.9 C2761.8 750.7 2578.6 794.9 2531.2 817.9 C2483.8 841.0 2526.7 850.6 2523.5 860.2 C2520.3 869.8 2515.2 870.5 2512.0 875.6 C2508.8 880.7 2507.5 884.6 2504.3 891.0 C2501.1 897.4 2497.3 908.9 2492.8 914.0 C2488.3 919.1 2482.5 919.8 2477.4 921.7 C2472.3 923.6 2465.9 922.4 2462.0 925.6 C2458.2 928.8 2454.3 935.2 2454.3 940.9 C2454.3 946.7 2460.1 953.7 2462.0 960.1 C2464.0 966.5 2467.2 974.2 2465.9 979.4 C2464.6 984.5 2458.8 985.1 2454.3 990.9 C2449.9 996.7 2445.4 1008.8 2439.0 1013.9 C2432.6 1019.1 2422.3 1019.1 2415.9 1021.6 C2409.5 1024.2 2406.9 1030.6 2400.5 1029.3 C2394.1 1028.0 2385.2 1018.4 2377.5 1013.9 C2369.8 1009.5 2360.8 1007.5 2354.4 1002.4 C2348.0 997.3 2344.8 985.1 2339.0 983.2 C2333.3 981.3 2326.2 988.3 2319.8 990.9 C2313.4 993.4 2306.4 994.7 2300.6 998.6 C2294.9 1002.4 2291.6 1008.8 2285.2 1013.9 C2278.8 1019.1 2267.3 1024.2 2262.2 1029.3 C2257.1 1034.4 2259.6 1040.8 2254.5 1044.7 C2249.4 1048.5 2237.8 1048.5 2231.4 1052.4 C2225.0 1056.2 2222.5 1063.3 2216.1 1067.8 C2209.7 1072.2 2200.7 1075.4 2193.0 1079.3 C2185.3 1083.1 2177.6 1086.3 2169.9 1090.8 C2162.3 1095.3 2153.3 1101.1 2146.9 1106.2 C2140.5 1111.3 2137.9 1115.8 2131.5 1121.6 C2125.1 1127.3 2114.9 1134.4 2108.5 1140.8 C2102.1 1147.2 2096.9 1155.5 2093.1 1160.0 C2089.2 1164.5 2089.2 1164.5 2085.4 1167.7 C2081.6 1170.9 2076.4 1176.7 2070.0 1179.2 C2063.6 1181.8 2053.4 1183.7 2047.0 1183.1 C2040.6 1182.4 2036.7 1175.4 2031.6 1175.4 C2026.5 1175.4 2022.6 1182.4 2016.2 1183.1 C2009.8 1183.7 2000.8 1177.9 1993.2 1179.2 C1985.5 1180.5 1977.8 1188.2 1970.1 1190.7 C1962.4 1193.3 1954.7 1194.6 1947.0 1194.6 C1939.4 1194.6 1929.1 1193.9 1924.0 1190.7 C1918.9 1187.5 1918.9 1180.5 1916.3 1175.4 C1913.7 1170.2 1911.8 1165.1 1908.6 1160.0 C1905.4 1154.9 1902.2 1148.5 1897.1 1144.6 C1892.0 1140.8 1884.9 1136.9 1877.9 1136.9 C1870.8 1136.9 1862.5 1140.8 1854.8 1144.6 C1847.1 1148.5 1836.6 1142.1 1831.7 1160.0 C1826.9 1177.9 1829.2 1231.1 1825.6 1252.2 C1822.0 1273.4 1815.4 1275.3 1810.2 1286.8 C1805.1 1298.4 1801.3 1310.5 1794.9 1321.4 C1788.5 1332.3 1780.8 1343.2 1771.8 1352.2 C1762.8 1361.1 1747.5 1367.5 1741.1 1375.2 C1734.6 1382.9 1738.5 1390.6 1733.4 1398.3 C1728.2 1406.0 1718.6 1413.7 1710.3 1421.3 C1702.0 1429.0 1692.4 1437.4 1683.4 1444.4 C1674.4 1451.4 1666.1 1457.2 1656.5 1463.6 C1646.9 1470.0 1634.7 1477.7 1625.8 1482.8 C1616.8 1488.0 1609.7 1493.1 1602.7 1494.4 C1595.7 1495.6 1589.9 1493.1 1583.5 1490.5 C1577.1 1488.0 1570.0 1480.3 1564.3 1479.0 C1558.5 1477.7 1554.0 1480.3 1548.9 1482.8 C1543.8 1485.4 1539.9 1493.1 1533.5 1494.4 C1527.1 1495.6 1518.1 1491.8 1510.5 1490.5 C1502.8 1489.2 1495.1 1486.7 1487.4 1486.7 C1479.7 1486.7 1472.0 1490.5 1464.3 1490.5 C1456.7 1490.5 1447.7 1490.5 1441.3 1486.7 C1434.9 1482.8 1429.8 1473.2 1425.9 1467.5 C1422.1 1461.7 1418.2 1457.2 1418.2 1452.1 C1418.2 1447.0 1418.2 1441.2 1425.9 1436.7 C1433.6 1432.2 1452.8 1428.4 1464.3 1425.2 C1475.9 1422.0 1483.6 1419.4 1495.1 1417.5 C1506.6 1415.6 1524.6 1415.6 1533.5 1413.7 C1542.5 1411.7 1547.6 1409.8 1548.9 1406.0 C1550.2 1402.1 1546.3 1395.7 1541.2 1390.6 C1536.1 1385.5 1523.9 1381.6 1518.1 1375.2 C1512.4 1368.8 1508.5 1360.5 1506.6 1352.2 C1504.7 1343.8 1504.1 1331.7 1506.6 1325.3 C1509.2 1318.9 1520.7 1318.2 1522.0 1313.7 C1523.3 1309.2 1518.8 1300.9 1514.3 1298.4 C1509.8 1295.8 1503.4 1295.8 1495.1 1298.4 C1486.8 1300.9 1474.6 1309.9 1464.3 1313.7 C1454.1 1317.6 1442.6 1321.4 1433.6 1321.4 C1424.6 1321.4 1418.2 1316.3 1410.5 1313.7 C1402.9 1311.2 1393.2 1310.5 1387.5 1306.0 C1381.7 1301.6 1382.4 1291.9 1376.0 1286.8 C1369.5 1281.7 1357.4 1275.3 1349.0 1275.3 C1340.7 1275.3 1333.7 1284.3 1326.0 1286.8 C1318.3 1289.4 1313.2 1287.5 1302.9 1290.7 C1292.7 1293.9 1277.3 1300.3 1264.5 1306.0 C1251.7 1311.8 1238.9 1320.8 1226.1 1325.3 C1213.3 1329.7 1199.2 1329.1 1187.6 1332.9 C1176.1 1336.8 1168.4 1345.1 1156.9 1348.3 C1145.4 1351.5 1131.3 1352.8 1118.5 1352.2 C1105.6 1351.5 1090.3 1348.3 1080.0 1344.5 C1069.8 1340.6 1063.4 1330.4 1057.0 1329.1 C1050.6 1327.8 1048.0 1332.9 1041.6 1336.8 C1035.2 1340.6 1028.8 1349.0 1018.5 1352.2 C1008.3 1355.4 992.9 1354.1 980.1 1356.0 C967.3 1357.9 953.2 1360.5 941.7 1363.7 C930.1 1366.9 922.5 1370.7 910.9 1375.2 C899.4 1379.7 885.3 1384.8 872.5 1390.6 C859.7 1396.4 846.9 1404.7 834.1 1409.8 C821.2 1414.9 825.1 1419.4 795.6 1421.3 C766.2 1423.3 680.3 1479.0 657.3 1421.3 C634.2 1363.7 634.2 1133.1 657.3 1075.4 Z" fill="#74a9d0" stroke="#5f97c6" stroke-width="1.2"/>
<path d="M2316.9 1008.7 C2317.8 1020.3 2320.8 1022.8 2324.6 1026.7 C2328.5 1030.5 2336.2 1028.8 2340.0 1031.8 C2343.8 1034.8 2344.3 1040.3 2347.7 1044.6 C2351.1 1048.9 2355.8 1053.6 2360.5 1057.4 C2365.2 1061.3 2369.9 1065.1 2375.9 1067.7 C2381.9 1070.3 2390.4 1073.7 2396.4 1072.8 C2402.4 1072.0 2405.4 1062.6 2411.8 1062.6 C2418.2 1062.6 2428.0 1072.8 2434.9 1072.8 C2441.7 1072.8 2447.3 1067.3 2452.8 1062.6 C2458.4 1057.9 2463.1 1050.6 2468.2 1044.6 C2473.3 1038.6 2480.2 1033.1 2483.6 1026.7 C2487.0 1020.3 2487.0 1013.0 2488.7 1006.2 C2490.4 999.3 2492.4 993.8 2493.8 985.6 C2495.3 977.5 2526.8 962.1 2497.7 957.4 C2468.6 952.7 2349.6 948.9 2319.5 957.4 C2289.4 966.0 2316.1 997.2 2316.9 1008.7 Z" fill="#74a9d0" stroke="#5f97c6" stroke-width="1.2"/>
<path d="M1291.4 906.3 C1291.1 902.8 1287.6 897.4 1293.3 892.9 C1299.1 888.4 1316.7 884.9 1326.0 879.4 C1335.3 874.0 1345.8 866.0 1349.0 860.2 C1352.3 854.5 1342.0 849.3 1345.2 844.8 C1348.4 840.4 1359.9 837.8 1368.3 833.3 C1376.6 828.8 1385.6 822.4 1395.2 817.9 C1404.8 813.5 1417.6 810.3 1425.9 806.4 C1434.2 802.6 1441.0 794.9 1445.1 794.9 C1449.3 794.9 1450.3 801.3 1450.9 806.4 C1451.5 811.5 1446.7 821.1 1449.0 825.6 C1451.2 830.1 1460.8 829.5 1464.3 833.3 C1467.9 837.2 1470.7 842.9 1470.1 848.7 C1469.5 854.5 1464.7 863.4 1460.5 867.9 C1456.3 872.4 1444.5 871.7 1445.1 875.6 C1445.8 879.4 1461.8 887.1 1464.3 891.0 C1466.9 894.8 1464.3 898.7 1460.5 898.7 C1456.7 898.7 1449.6 892.9 1441.3 891.0 C1433.0 889.0 1420.8 888.1 1410.5 887.1 C1400.3 886.2 1387.5 886.5 1379.8 885.2 C1372.1 883.9 1369.5 877.8 1364.4 879.4 C1359.3 881.0 1354.8 889.0 1349.0 894.8 C1343.3 900.6 1335.0 907.9 1329.8 914.0 C1324.7 920.1 1321.5 930.0 1318.3 931.3 C1315.1 932.6 1314.5 924.6 1310.6 921.7 C1306.8 918.8 1298.4 916.6 1295.2 914.0 C1292.0 911.5 1291.7 909.9 1291.4 906.3 Z" fill="#74a9d0" stroke="#5f97c6" stroke-width="1.2"/>
<path d="M1091.6 1000.5 C1092.5 997.0 1098.9 986.7 1103.1 983.2 C1107.2 979.7 1113.7 978.1 1116.5 979.4 C1119.4 980.6 1121.3 987.4 1120.4 990.9 C1119.4 994.4 1114.6 998.3 1110.8 1000.5 C1106.9 1002.7 1100.5 1004.3 1097.3 1004.3 C1094.1 1004.3 1090.6 1004.0 1091.6 1000.5 Z" fill="#74a9d0" stroke="#5f97c6" stroke-width="1.2"/>
<path d="M1012.8 1029.3 C1014.2 1027.4 1019.5 1024.8 1022.4 1025.5 C1025.3 1026.1 1030.1 1030.6 1030.1 1033.2 C1030.1 1035.7 1025.1 1040.2 1022.4 1040.8 C1019.7 1041.5 1015.5 1038.9 1013.9 1037.0 C1012.3 1035.1 1011.4 1031.2 1012.8 1029.3 Z" fill="#74a9d0" stroke="#5f97c6" stroke-width="1.2"/>
<path d="M811.0 141.5 C816.1 115.3 825.7 145.1 834.1 145.4 C842.4 145.7 853.3 142.2 861.0 143.5 C868.6 144.7 876.3 149.5 880.2 153.1 C884.0 156.6 886.6 163.3 884.0 164.6 C881.5 165.9 871.9 162.0 864.8 160.7 C857.8 159.5 848.2 155.6 841.7 156.9 C835.3 158.2 830.5 164.6 826.4 168.4 C822.2 172.3 817.4 174.8 816.8 180.0 C816.1 185.1 820.3 191.5 822.5 199.2 C824.8 206.9 827.0 219.0 830.2 226.1 C833.4 233.1 839.2 235.7 841.7 241.5 C844.3 247.2 843.7 254.3 845.6 260.7 C847.5 267.1 854.6 274.8 853.3 279.9 C852.0 285.0 843.0 288.2 837.9 291.4 C832.8 294.6 828.3 297.2 822.5 299.1 C816.8 301.0 805.2 329.2 803.3 302.9 C801.4 276.7 805.9 167.8 811.0 141.5 Z" fill="#74a9d0" stroke="#5f97c6" stroke-width="1.2"/>
<path d="M2062.3 291.4 C2063.6 283.1 2072.6 269.0 2077.7 260.7 C2082.8 252.3 2088.0 246.3 2093.1 241.5 C2098.2 236.6 2102.7 233.1 2108.5 231.8 C2114.2 230.6 2122.5 231.5 2127.7 233.8 C2132.8 236.0 2135.4 240.8 2139.2 245.3 C2143.0 249.8 2145.6 256.8 2150.7 260.7 C2155.9 264.5 2162.9 267.7 2169.9 268.4 C2177.0 269.0 2187.9 267.7 2193.0 264.5 C2198.1 261.3 2198.1 254.9 2200.7 249.1 C2203.3 243.4 2207.7 235.7 2208.4 229.9 C2209.0 224.2 2203.3 218.4 2204.5 214.6 C2205.8 210.7 2211.6 207.5 2216.1 206.9 C2220.5 206.2 2226.3 206.9 2231.4 210.7 C2236.6 214.6 2241.7 224.8 2246.8 229.9 C2251.9 235.0 2258.3 237.0 2262.2 241.5 C2266.0 245.9 2269.9 251.1 2269.9 256.8 C2269.9 262.6 2265.4 269.6 2262.2 276.0 C2259.0 282.4 2255.8 292.7 2250.7 295.3 C2245.5 297.8 2238.5 293.3 2231.4 291.4 C2224.4 289.5 2215.4 285.0 2208.4 283.7 C2201.3 282.4 2194.3 281.2 2189.2 283.7 C2184.0 286.3 2182.8 295.3 2177.6 299.1 C2172.5 302.9 2164.8 304.2 2158.4 306.8 C2152.0 309.3 2145.0 311.9 2139.2 314.5 C2133.4 317.0 2130.2 319.6 2123.8 322.2 C2117.4 324.7 2107.2 330.5 2100.8 329.8 C2094.4 329.2 2090.5 321.5 2085.4 318.3 C2080.3 315.1 2073.9 315.1 2070.0 310.6 C2066.2 306.1 2061.1 299.7 2062.3 291.4 Z" fill="#74a9d0" stroke="#5f97c6" stroke-width="1.2"/>
<path d="M2146.9 130.0 C2139.2 133.8 2160.3 144.7 2162.3 153.1 C2164.2 161.4 2157.1 171.0 2158.4 180.0 C2159.7 188.9 2164.8 198.5 2169.9 206.9 C2175.1 215.2 2183.4 228.6 2189.2 229.9 C2194.9 231.2 2200.1 218.4 2204.5 214.6 C2209.0 210.7 2212.9 211.3 2216.1 206.9 C2219.3 202.4 2221.8 194.7 2223.8 187.6 C2225.7 180.6 2228.9 171.0 2227.6 164.6 C2226.3 158.2 2219.3 155.0 2216.1 149.2 C2212.9 143.5 2219.9 133.2 2208.4 130.0 C2196.8 126.8 2154.6 126.2 2146.9 130.0 Z" fill="#74a9d0" stroke="#5f97c6" stroke-width="1.2"/>
<path d="M2300.6 395.2 C2301.3 392.3 2309.6 390.7 2316.0 391.3 C2322.4 392.0 2332.0 395.8 2339.0 399.0 C2346.1 402.2 2353.1 406.7 2358.3 410.6 C2363.4 414.4 2370.4 419.5 2369.8 422.1 C2369.2 424.6 2360.8 426.6 2354.4 425.9 C2348.0 425.3 2338.4 421.1 2331.4 418.2 C2324.3 415.4 2317.3 412.5 2312.1 408.6 C2307.0 404.8 2300.0 398.1 2300.6 395.2 Z" fill="#74a9d0" stroke="#5f97c6" stroke-width="1.2"/>
<path d="M2479.3 470.1 C2480.0 467.6 2487.3 467.2 2492.8 468.2 C2498.2 469.2 2508.1 472.0 2512.0 475.9 C2515.8 479.7 2517.1 488.1 2515.8 491.3 C2514.6 494.5 2508.8 496.4 2504.3 495.1 C2499.8 493.8 2493.1 487.7 2488.9 483.6 C2484.8 479.4 2478.7 472.7 2479.3 470.1 Z" fill="#74a9d0" stroke="#5f97c6" stroke-width="1.2"/>
<path d="M2346.7 489.3 C2346.1 485.8 2351.2 485.2 2354.4 487.4 C2357.6 489.7 2365.3 499.3 2366.0 502.8 C2366.6 506.3 2361.5 510.8 2358.3 508.6 C2355.1 506.3 2347.4 492.9 2346.7 489.3 Z" fill="#74a9d0" stroke="#5f97c6" stroke-width="1.2"/>
<path d="M2310.2 508.6 C2312.5 506.6 2320.5 505.0 2323.7 506.6 C2326.9 508.2 2330.1 515.0 2329.4 518.2 C2328.8 521.4 2323.0 525.8 2319.8 525.8 C2316.6 525.8 2311.8 521.0 2310.2 518.2 C2308.6 515.3 2308.0 510.5 2310.2 508.6 Z" fill="#74a9d0" stroke="#5f97c6" stroke-width="1.2"/>
<path d="M2415.9 564.3 C2418.2 561.7 2427.4 560.4 2431.3 562.4 C2435.1 564.3 2439.6 572.0 2439.0 575.8 C2438.3 579.7 2431.0 585.1 2427.4 585.4 C2423.9 585.7 2419.8 581.3 2417.8 577.7 C2415.9 574.2 2413.7 566.8 2415.9 564.3 Z" fill="#74a9d0" stroke="#5f97c6" stroke-width="1.2"/>
<path d="M2415.9 591.2 C2418.5 588.6 2427.8 588.0 2431.3 591.2 C2434.8 594.4 2438.3 605.9 2437.0 610.4 C2435.8 614.9 2427.1 618.7 2423.6 618.1 C2420.1 617.4 2417.2 611.0 2415.9 606.6 C2414.6 602.1 2413.3 593.7 2415.9 591.2 Z" fill="#74a9d0" stroke="#5f97c6" stroke-width="1.2"/>
<path d="M2515.8 598.9 C2518.4 595.3 2527.0 595.0 2531.2 596.9 C2535.4 598.9 2541.5 605.6 2540.8 610.4 C2540.2 615.2 2531.5 624.5 2527.4 625.8 C2523.2 627.1 2517.8 622.6 2515.8 618.1 C2513.9 613.6 2513.3 602.4 2515.8 598.9 Z" fill="#74a9d0" stroke="#5f97c6" stroke-width="1.2"/>
<path d="M1710.3 422.1 C1711.6 418.9 1724.4 414.4 1733.4 410.6 C1742.3 406.7 1752.8 401.6 1764.1 399.0 C1775.4 396.5 1794.9 388.8 1801.0 395.2 C1807.2 401.6 1805.9 429.8 1801.0 437.5 C1796.1 445.1 1780.5 441.9 1771.8 441.3 C1763.1 440.7 1756.4 435.5 1748.7 433.6 C1741.1 431.7 1732.1 431.7 1725.7 429.8 C1719.3 427.8 1709.0 425.3 1710.3 422.1 Z" fill="#74a9d0" stroke="#5f97c6" stroke-width="1.2"/>
<path d="M1931.7 668.1 C1934.2 662.9 1950.9 659.1 1962.4 656.5 C1973.9 654.0 1991.9 651.4 2000.8 652.7 C2009.8 654.0 2017.5 659.7 2016.2 664.2 C2014.9 668.7 2000.8 675.7 1993.2 679.6 C1985.5 683.4 1977.8 686.0 1970.1 687.3 C1962.4 688.6 1953.4 690.5 1947.0 687.3 C1940.6 684.1 1929.1 673.2 1931.7 668.1 Z" fill="#9cc6df" stroke="#86b6d6" stroke-width="1.2"/>
<path d="M2292.9 721.9 C2295.8 717.4 2304.5 714.8 2312.1 710.3 C2319.8 705.9 2332.0 698.8 2339.0 695.0 C2346.1 691.1 2352.5 684.7 2354.4 687.3 C2356.3 689.8 2353.8 703.3 2350.6 710.3 C2347.4 717.4 2341.6 724.4 2335.2 729.6 C2328.8 734.7 2318.9 739.8 2312.1 741.1 C2305.4 742.4 2298.1 740.4 2294.9 737.2 C2291.6 734.0 2290.0 726.3 2292.9 721.9 Z" fill="#9cc6df" stroke="#86b6d6" stroke-width="1.2"/>
<path d="M2196.8 806.4 C2199.4 801.3 2209.0 791.7 2216.1 787.2 C2223.1 782.7 2236.6 777.6 2239.1 779.5 C2241.7 781.4 2235.3 793.0 2231.4 798.7 C2227.6 804.5 2221.2 810.9 2216.1 814.1 C2210.9 817.3 2203.9 819.2 2200.7 817.9 C2197.5 816.7 2194.3 811.5 2196.8 806.4 Z" fill="#9cc6df" stroke="#86b6d6" stroke-width="1.2"/>
<path d="M2169.9 983.2 C2171.5 978.4 2179.9 974.6 2185.3 973.6 C2190.8 972.6 2199.4 973.9 2202.6 977.4 C2205.8 981.0 2206.1 989.6 2204.5 994.7 C2202.9 999.9 2197.8 1006.9 2193.0 1008.2 C2188.2 1009.5 2179.6 1006.6 2175.7 1002.4 C2171.9 998.3 2168.3 988.0 2169.9 983.2 Z" fill="#9cc6df" stroke="#86b6d6" stroke-width="1.2"/>
<path d="M2031.6 998.6 C2032.2 995.4 2044.4 994.1 2050.8 994.7 C2057.2 995.4 2065.5 998.6 2070.0 1002.4 C2074.5 1006.3 2077.7 1013.3 2077.7 1017.8 C2077.7 1022.3 2075.1 1030.0 2070.0 1029.3 C2064.9 1028.7 2053.4 1019.1 2047.0 1013.9 C2040.6 1008.8 2031.0 1001.8 2031.6 998.6 Z" fill="#9cc6df" stroke="#86b6d6" stroke-width="1.2"/>
<path d="M1155.0 1248.4 C1156.2 1245.2 1170.7 1241.0 1179.9 1236.9 C1189.2 1232.7 1204.3 1222.8 1210.7 1223.4 C1217.1 1224.1 1217.7 1235.3 1218.4 1240.7 C1219.0 1246.2 1218.4 1252.2 1214.5 1256.1 C1210.7 1259.9 1202.4 1263.8 1195.3 1263.8 C1188.3 1263.8 1179.0 1258.6 1172.3 1256.1 C1165.5 1253.5 1153.7 1251.6 1155.0 1248.4 Z" fill="#9cc6df" stroke="#86b6d6" stroke-width="1.2"/>
<path d="M1916.3 1163.8 C1893.2 1160.0 1925.3 1147.8 1931.7 1140.8 C1938.1 1133.7 1948.3 1127.3 1954.7 1121.6 C1961.1 1115.8 1965.6 1109.4 1970.1 1106.2 C1974.6 1103.0 1977.8 1100.4 1981.6 1102.3 C1985.5 1104.3 1987.4 1113.2 1993.2 1117.7 C1998.9 1122.2 2008.5 1124.8 2016.2 1129.2 C2023.9 1133.7 2030.3 1138.9 2039.3 1144.6 C2048.2 1150.4 2090.5 1160.6 2070.0 1163.8 C2049.5 1167.0 1939.4 1167.7 1916.3 1163.8 Z" fill="#9cc6df" stroke="#86b6d6" stroke-width="1.2"/>
<path d="M2369.8 695.0 C2371.4 690.5 2380.7 686.0 2385.2 685.4 C2389.6 684.7 2394.1 687.0 2396.7 691.1 C2399.3 695.3 2401.8 705.9 2400.5 710.3 C2399.3 714.8 2393.2 717.7 2389.0 718.0 C2384.8 718.3 2378.8 716.1 2375.6 712.3 C2372.4 708.4 2368.2 699.4 2369.8 695.0 Z" fill="#d2e3ee" stroke="#bcd5e4" stroke-width="1.2"/>
<path d="M657.3 1102.3 C680.3 1055.6 763.6 1102.0 795.6 1102.3 C827.7 1102.7 834.1 1103.9 849.4 1104.3 C864.8 1104.6 875.1 1103.9 887.9 1104.3 C900.7 1104.6 913.5 1106.8 926.3 1106.2 C939.1 1105.5 951.9 1103.0 964.7 1100.4 C977.5 1097.9 990.3 1093.1 1003.2 1090.8 C1016.0 1088.6 1028.8 1087.9 1041.6 1087.0 C1054.4 1086.0 1067.2 1086.3 1080.0 1085.0 C1092.8 1083.8 1105.6 1082.2 1118.5 1079.3 C1131.3 1076.4 1144.1 1072.2 1156.9 1067.8 C1169.7 1063.3 1183.8 1057.2 1195.3 1052.4 C1206.8 1047.6 1216.5 1040.5 1226.1 1038.9 C1235.7 1037.3 1243.4 1042.5 1253.0 1042.8 C1262.6 1043.1 1274.1 1043.1 1283.7 1040.8 C1293.3 1038.6 1301.0 1032.5 1310.6 1029.3 C1320.2 1026.1 1331.8 1021.6 1341.4 1021.6 C1351.0 1021.6 1359.3 1027.4 1368.3 1029.3 C1377.2 1031.2 1385.6 1032.5 1395.2 1033.2 C1404.8 1033.8 1415.7 1034.4 1425.9 1033.2 C1436.2 1031.9 1446.4 1028.7 1456.7 1025.5 C1466.9 1022.3 1477.2 1017.8 1487.4 1013.9 C1497.7 1010.1 1509.2 1005.0 1518.1 1002.4 C1527.1 999.9 1532.2 1000.5 1541.2 998.6 C1550.2 996.7 1561.7 994.1 1572.0 990.9 C1582.2 987.7 1593.1 983.2 1602.7 979.4 C1612.3 975.5 1620.6 971.7 1629.6 967.8 C1638.6 964.0 1646.9 960.8 1656.5 956.3 C1666.1 951.8 1677.6 946.1 1687.2 940.9 C1696.9 935.8 1705.2 930.0 1714.2 925.6 C1723.1 921.1 1732.7 918.5 1741.1 914.0 C1749.4 909.5 1757.7 905.1 1764.1 898.7 C1770.5 892.2 1775.6 882.0 1779.5 875.6 C1783.3 869.2 1783.6 864.1 1787.2 860.2 C1790.8 856.4 1798.7 853.8 1801.0 852.5 C1803.3 851.3 1799.1 857.0 1801.0 852.5 C1802.9 848.0 1807.4 832.7 1812.5 825.6 C1817.7 818.6 1824.7 814.7 1831.7 810.3 C1838.8 805.8 1847.1 801.9 1854.8 798.7 C1862.5 795.5 1870.2 795.5 1877.9 791.0 C1885.6 786.6 1893.9 776.9 1900.9 771.8 C1908.0 766.7 1915.7 759.7 1920.1 760.3 C1924.6 760.9 1928.5 770.5 1927.8 775.7 C1927.2 780.8 1916.3 787.2 1916.3 791.0 C1916.3 794.9 1921.4 798.7 1927.8 798.7 C1934.2 798.7 1946.4 794.9 1954.7 791.0 C1963.1 787.2 1971.4 781.4 1977.8 775.7 C1984.2 769.9 1989.3 762.9 1993.2 756.5 C1997.0 750.0 1997.0 743.0 2000.8 737.2 C2004.7 731.5 2009.8 726.3 2016.2 721.9 C2022.6 717.4 2030.3 714.8 2039.3 710.3 C2048.2 705.9 2059.8 699.4 2070.0 695.0 C2080.3 690.5 2091.2 687.9 2100.8 683.4 C2110.4 678.9 2120.0 673.2 2127.7 668.1 C2135.4 662.9 2139.8 656.5 2146.9 652.7 C2153.9 648.8 2163.5 647.6 2169.9 645.0 C2176.4 642.4 2181.5 638.6 2185.3 637.3 C2189.2 636.0 2189.2 639.2 2193.0 637.3 C2196.8 635.4 2203.3 630.3 2208.4 625.8 C2213.5 621.3 2218.0 614.2 2223.8 610.4 C2229.5 606.6 2236.6 603.4 2243.0 602.7 C2249.4 602.1 2255.8 604.0 2262.2 606.6 C2268.6 609.1 2275.6 614.2 2281.4 618.1 C2287.2 621.9 2291.0 630.3 2296.8 629.6 C2302.5 629.0 2308.9 616.2 2316.0 614.2 C2323.0 612.3 2332.6 614.2 2339.0 618.1 C2345.5 621.9 2350.6 632.2 2354.4 637.3 C2358.3 642.4 2361.5 646.3 2362.1 648.8 C2362.7 651.4 2360.8 648.8 2358.3 652.7 C2355.7 656.5 2353.1 666.8 2346.7 671.9 C2340.3 677.0 2328.8 679.6 2319.8 683.4 C2310.9 687.3 2300.6 689.8 2292.9 695.0 C2285.2 700.1 2277.6 706.5 2273.7 714.2 C2269.9 721.9 2271.8 733.4 2269.9 741.1 C2267.9 748.8 2266.0 755.2 2262.2 760.3 C2258.3 765.4 2253.2 769.3 2246.8 771.8 C2240.4 774.4 2230.8 773.1 2223.8 775.7 C2216.7 778.2 2209.7 782.1 2204.5 787.2 C2199.4 792.3 2193.6 800.6 2193.0 806.4 C2192.4 812.2 2195.6 820.5 2200.7 821.8 C2205.8 823.1 2216.1 817.9 2223.8 814.1 C2231.4 810.3 2237.2 803.2 2246.8 798.7 C2256.4 794.2 2269.9 791.7 2281.4 787.2 C2292.9 782.7 2306.4 776.3 2316.0 771.8 C2325.6 767.3 2330.1 762.9 2339.0 760.3 C2348.0 757.7 2359.5 758.4 2369.8 756.5 C2380.0 754.5 2390.3 751.3 2400.5 748.8 C2410.8 746.2 2421.0 743.0 2431.3 741.1 C2441.5 739.2 2453.1 736.6 2462.0 737.2 C2471.0 737.9 2478.7 741.1 2485.1 744.9 C2491.5 748.8 2496.0 755.8 2500.5 760.3 C2504.9 764.8 2508.8 766.7 2512.0 771.8 C2515.2 776.9 2519.7 785.3 2519.7 791.0 C2519.7 796.8 2516.5 802.6 2512.0 806.4 C2507.5 810.3 2492.8 807.7 2492.8 814.1 C2492.8 820.5 2508.8 837.2 2512.0 844.8 C2515.2 852.5 2515.2 855.1 2512.0 860.2 C2508.8 865.3 2499.8 871.7 2492.8 875.6 C2485.7 879.4 2478.7 880.7 2469.7 883.3 C2460.7 885.8 2447.9 888.4 2439.0 891.0 C2430.0 893.5 2422.3 895.4 2415.9 898.7 C2409.5 901.9 2406.9 906.3 2400.5 910.2 C2394.1 914.0 2385.2 916.6 2377.5 921.7 C2369.8 926.8 2360.8 934.5 2354.4 940.9 C2348.0 947.3 2344.2 953.7 2339.0 960.1 C2333.9 966.5 2330.1 974.2 2323.7 979.4 C2317.3 984.5 2307.0 986.4 2300.6 990.9 C2294.2 995.4 2291.6 1001.1 2285.2 1006.3 C2278.8 1011.4 2269.2 1017.1 2262.2 1021.6 C2255.1 1026.1 2249.4 1030.0 2243.0 1033.2 C2236.6 1036.4 2228.2 1042.8 2223.8 1040.8 C2219.3 1038.9 2216.1 1028.7 2216.1 1021.6 C2216.1 1014.6 2219.9 1005.6 2223.8 998.6 C2227.6 991.5 2232.7 985.1 2239.1 979.4 C2245.5 973.6 2255.8 969.1 2262.2 964.0 C2268.6 958.9 2271.2 951.8 2277.6 948.6 C2284.0 945.4 2292.9 948.0 2300.6 944.8 C2308.3 941.6 2316.0 934.5 2323.7 929.4 C2331.4 924.3 2339.0 917.9 2346.7 914.0 C2354.4 910.2 2368.5 908.9 2369.8 906.3 C2371.1 903.8 2362.1 898.7 2354.4 898.7 C2346.7 898.7 2333.9 904.4 2323.7 906.3 C2313.4 908.3 2303.2 910.2 2292.9 910.2 C2282.7 910.2 2271.2 906.3 2262.2 906.3 C2253.2 906.3 2246.8 907.6 2239.1 910.2 C2231.4 912.7 2225.0 917.9 2216.1 921.7 C2207.1 925.6 2195.6 930.0 2185.3 933.2 C2175.1 936.4 2163.5 938.4 2154.6 940.9 C2145.6 943.5 2139.2 946.1 2131.5 948.6 C2123.8 951.2 2116.1 953.7 2108.5 956.3 C2100.8 958.9 2094.4 961.4 2085.4 964.0 C2076.4 966.5 2064.9 969.1 2054.7 971.7 C2044.4 974.2 2032.9 976.2 2023.9 979.4 C2014.9 982.6 2007.9 987.0 2000.8 990.9 C1993.8 994.7 1988.0 998.6 1981.6 1002.4 C1975.2 1006.3 1969.5 1009.5 1962.4 1013.9 C1955.4 1018.4 1947.0 1024.8 1939.4 1029.3 C1931.7 1033.8 1924.0 1037.0 1916.3 1040.8 C1908.6 1044.7 1900.9 1047.9 1893.2 1052.4 C1885.6 1056.9 1877.9 1063.3 1870.2 1067.8 C1862.5 1072.2 1854.8 1076.1 1847.1 1079.3 C1839.4 1082.5 1831.7 1083.8 1824.1 1087.0 C1816.4 1090.2 1801.0 1086.3 1801.0 1098.5 C1801.0 1110.7 1817.7 1143.3 1824.1 1160.0 C1830.5 1176.7 1836.2 1182.4 1839.4 1198.4 C1842.6 1214.4 1845.8 1238.1 1843.3 1256.1 C1840.7 1274.0 1829.8 1292.6 1824.1 1306.0 C1818.3 1319.5 1812.5 1329.1 1808.7 1336.8 C1804.8 1344.5 1807.2 1347.0 1801.0 1352.2 C1794.9 1357.3 1780.5 1361.1 1771.8 1367.5 C1763.1 1373.9 1756.4 1382.9 1748.7 1390.6 C1741.1 1398.3 1734.6 1406.6 1725.7 1413.7 C1716.7 1420.7 1705.2 1425.8 1694.9 1432.9 C1684.7 1439.9 1673.8 1450.2 1664.2 1455.9 C1654.6 1461.7 1646.3 1465.5 1637.3 1467.5 C1628.3 1469.4 1620.0 1471.3 1610.4 1467.5 C1600.8 1463.6 1588.6 1453.4 1579.6 1444.4 C1570.7 1435.4 1563.6 1423.9 1556.6 1413.7 C1549.5 1403.4 1542.5 1394.4 1537.4 1382.9 C1532.2 1371.4 1527.1 1356.0 1525.8 1344.5 C1524.6 1332.9 1525.8 1322.7 1529.7 1313.7 C1533.5 1304.8 1543.1 1297.1 1548.9 1290.7 C1554.7 1284.3 1557.2 1281.1 1564.3 1275.3 C1571.3 1269.5 1582.2 1262.5 1591.2 1256.1 C1600.1 1249.7 1609.7 1243.9 1618.1 1236.9 C1626.4 1229.8 1634.7 1222.8 1641.1 1213.8 C1647.5 1204.8 1653.9 1192.0 1656.5 1183.1 C1659.1 1174.1 1659.7 1167.7 1656.5 1160.0 C1653.3 1152.3 1643.7 1143.3 1637.3 1136.9 C1630.9 1130.5 1625.1 1123.5 1618.1 1121.6 C1611.0 1119.6 1602.7 1123.5 1595.0 1125.4 C1587.3 1127.3 1577.7 1128.6 1572.0 1133.1 C1566.2 1137.6 1565.5 1147.8 1560.4 1152.3 C1555.3 1156.8 1547.0 1158.7 1541.2 1160.0 C1535.4 1161.3 1532.2 1158.7 1525.8 1160.0 C1519.4 1161.3 1513.0 1165.8 1502.8 1167.7 C1492.5 1169.6 1477.2 1171.5 1464.3 1171.5 C1451.5 1171.5 1438.7 1169.0 1425.9 1167.7 C1413.1 1166.4 1400.3 1165.1 1387.5 1163.8 C1374.7 1162.6 1361.9 1159.4 1349.0 1160.0 C1336.2 1160.6 1323.4 1164.5 1310.6 1167.7 C1297.8 1170.9 1285.0 1174.7 1272.2 1179.2 C1259.4 1183.7 1246.6 1190.1 1233.8 1194.6 C1220.9 1199.1 1208.1 1202.3 1195.3 1206.1 C1182.5 1210.0 1169.7 1213.2 1156.9 1217.6 C1144.1 1222.1 1131.3 1227.9 1118.5 1233.0 C1105.6 1238.1 1092.8 1243.3 1080.0 1248.4 C1067.2 1253.5 1054.4 1258.0 1041.6 1263.8 C1028.8 1269.5 1016.0 1277.2 1003.2 1283.0 C990.3 1288.7 977.5 1293.2 964.7 1298.4 C951.9 1303.5 939.1 1308.0 926.3 1313.7 C913.5 1319.5 900.7 1326.5 887.9 1332.9 C875.1 1339.3 862.2 1345.1 849.4 1352.2 C836.6 1359.2 820.0 1370.1 811.0 1375.2 C802.0 1380.3 821.2 1381.6 795.6 1382.9 C770.0 1384.2 680.3 1429.7 657.3 1382.9 C634.2 1336.1 634.2 1149.1 657.3 1102.3 Z" fill="#5889bb" stroke="#4a72b0" stroke-width="1.2"/>
<path d="M2329.7 985.6 C2329.3 982.6 2335.3 977.9 2340.0 975.4 C2344.7 972.8 2352.8 973.2 2357.9 970.3 C2363.1 967.3 2354.5 959.6 2370.8 957.4 C2387.0 955.3 2440.0 954.4 2455.4 957.4 C2470.8 960.4 2462.2 970.7 2463.1 975.4 C2463.9 980.1 2463.1 984.4 2460.5 985.6 C2457.9 986.9 2451.5 982.6 2447.7 983.1 C2443.8 983.5 2439.6 985.2 2437.4 988.2 C2435.3 991.2 2437.4 997.2 2434.9 1001.0 C2432.3 1004.9 2426.8 1008.9 2422.1 1011.3 C2417.4 1013.6 2411.4 1013.8 2406.7 1015.1 C2402.0 1016.4 2397.3 1020.9 2393.8 1019.0 C2390.4 1017.1 2388.7 1008.7 2386.2 1003.6 C2383.6 998.5 2381.9 991.6 2378.5 988.2 C2375.0 984.8 2369.9 983.5 2365.6 983.1 C2361.4 982.6 2356.7 983.9 2352.8 985.6 C2349.0 987.4 2346.4 993.3 2342.6 993.3 C2338.7 993.3 2330.2 988.6 2329.7 985.6 Z" fill="#5889bb" stroke="#4a72b0" stroke-width="1.2"/>
<path d="M811.0 187.6 C813.6 174.8 816.1 199.8 818.7 206.9 C821.2 213.9 823.2 223.5 826.4 229.9 C829.6 236.3 835.0 240.2 837.9 245.3 C840.8 250.4 841.7 255.5 843.7 260.7 C845.6 265.8 851.0 272.2 849.4 276.0 C847.8 279.9 839.2 283.1 834.1 283.7 C828.9 284.4 823.8 279.9 818.7 279.9 C813.6 279.9 804.6 299.1 803.3 283.7 C802.0 268.4 808.4 200.5 811.0 187.6 Z" fill="#5889bb" stroke="#4a72b0" stroke-width="1.2"/>
<path d="M1399.0 858.3 C1400.0 855.7 1406.7 850.6 1410.5 850.6 C1414.4 850.6 1421.4 855.4 1422.1 858.3 C1422.7 861.2 1417.3 866.6 1414.4 867.9 C1411.5 869.2 1407.3 867.6 1404.8 866.0 C1402.2 864.4 1398.0 860.9 1399.0 858.3 Z" fill="#5889bb" stroke="#4a72b0" stroke-width="1.2"/>
<path d="M1491.2 925.6 C1491.9 923.6 1495.4 920.7 1497.0 921.7 C1498.6 922.7 1501.5 929.4 1500.9 931.3 C1500.2 933.2 1494.8 934.2 1493.2 933.2 C1491.6 932.3 1490.6 927.5 1491.2 925.6 Z" fill="#5889bb" stroke="#4a72b0" stroke-width="1.2"/>
<path d="M1706.5 804.5 C1708.1 802.3 1713.5 799.7 1716.1 800.6 C1718.6 801.6 1722.2 807.1 1721.8 810.3 C1721.5 813.5 1716.7 819.2 1714.2 819.9 C1711.6 820.5 1707.7 816.7 1706.5 814.1 C1705.2 811.5 1704.9 806.7 1706.5 804.5 Z" fill="#5889bb" stroke="#4a72b0" stroke-width="1.2"/>
<path d="M2179.6 172.3 C2181.2 169.1 2186.0 163.9 2189.2 164.6 C2192.4 165.2 2197.5 172.3 2198.8 176.1 C2200.1 180.0 2198.8 185.1 2196.8 187.6 C2194.9 190.2 2190.1 192.1 2187.2 191.5 C2184.4 190.9 2180.8 187.0 2179.6 183.8 C2178.3 180.6 2178.0 175.5 2179.6 172.3 Z" fill="#5889bb" stroke="#4a72b0" stroke-width="1.2"/>
<path d="M2204.5 218.4 C2205.2 214.9 2211.6 212.6 2216.1 212.6 C2220.5 212.6 2228.2 214.9 2231.4 218.4 C2234.6 221.9 2231.4 229.9 2235.3 233.8 C2239.1 237.6 2249.1 238.9 2254.5 241.5 C2259.9 244.0 2266.0 245.3 2267.9 249.1 C2269.9 253.0 2268.3 259.4 2266.0 264.5 C2263.8 269.6 2259.0 276.7 2254.5 279.9 C2250.0 283.1 2244.2 283.7 2239.1 283.7 C2234.0 283.7 2228.9 279.9 2223.8 279.9 C2218.6 279.9 2213.5 283.7 2208.4 283.7 C2203.3 283.7 2194.9 283.7 2193.0 279.9 C2191.1 276.0 2194.3 265.8 2196.8 260.7 C2199.4 255.5 2205.8 253.6 2208.4 249.1 C2210.9 244.7 2212.9 238.9 2212.2 233.8 C2211.6 228.6 2203.9 221.9 2204.5 218.4 Z" fill="#5889bb" stroke="#4a72b0" stroke-width="1.2"/>
<path d="M2081.6 295.3 C2082.8 290.8 2087.3 286.9 2093.1 283.7 C2098.8 280.5 2108.5 278.0 2116.1 276.0 C2123.8 274.1 2131.5 272.2 2139.2 272.2 C2146.9 272.2 2155.9 273.5 2162.3 276.0 C2168.7 278.6 2176.4 283.1 2177.6 287.6 C2178.9 292.1 2175.1 299.1 2169.9 302.9 C2164.8 306.8 2154.6 308.1 2146.9 310.6 C2139.2 313.2 2131.5 316.4 2123.8 318.3 C2116.1 320.2 2107.2 323.4 2100.8 322.2 C2094.4 320.9 2088.6 315.1 2085.4 310.6 C2082.2 306.1 2080.3 299.7 2081.6 295.3 Z" fill="#5889bb" stroke="#4a72b0" stroke-width="1.2"/>
<path d="M2123.8 245.3 C2125.1 242.4 2130.6 240.2 2133.4 241.5 C2136.3 242.7 2140.8 249.1 2141.1 253.0 C2141.4 256.8 2137.9 263.6 2135.4 264.5 C2132.8 265.5 2127.7 261.9 2125.8 258.7 C2123.8 255.5 2122.5 248.2 2123.8 245.3 Z" fill="#5889bb" stroke="#4a72b0" stroke-width="1.2"/>
<path d="M2300.6 399.0 C2302.5 397.1 2310.2 394.5 2316.0 395.2 C2321.8 395.8 2329.4 399.7 2335.2 402.9 C2341.0 406.1 2349.9 411.8 2350.6 414.4 C2351.2 417.0 2344.2 418.6 2339.0 418.2 C2333.9 417.9 2325.6 414.4 2319.8 412.5 C2314.1 410.6 2307.7 409.0 2304.5 406.7 C2301.3 404.5 2298.7 400.9 2300.6 399.0 Z" fill="#5889bb" stroke="#4a72b0" stroke-width="1.2"/>
<path d="M2354.4 529.7 C2357.0 527.1 2364.7 525.2 2369.8 525.8 C2374.9 526.5 2382.0 529.7 2385.2 533.5 C2388.4 537.4 2390.3 545.1 2389.0 548.9 C2387.7 552.8 2382.0 556.0 2377.5 556.6 C2373.0 557.2 2366.0 555.3 2362.1 552.8 C2358.3 550.2 2355.7 545.1 2354.4 541.2 C2353.1 537.4 2351.9 532.3 2354.4 529.7 Z" fill="#5889bb" stroke="#4a72b0" stroke-width="1.2"/>
<path d="M2248.7 548.9 C2250.7 546.0 2258.7 543.8 2262.2 545.1 C2265.7 546.3 2269.9 553.1 2269.9 556.6 C2269.9 560.1 2265.4 565.2 2262.2 566.2 C2259.0 567.2 2252.9 565.2 2250.7 562.4 C2248.4 559.5 2246.8 551.8 2248.7 548.9 Z" fill="#5889bb" stroke="#4a72b0" stroke-width="1.2"/>
<path d="M2485.1 472.0 C2486.4 469.8 2496.0 472.0 2500.5 474.0 C2504.9 475.9 2510.7 480.4 2512.0 483.6 C2513.3 486.8 2511.4 492.5 2508.1 493.2 C2504.9 493.8 2496.6 490.9 2492.8 487.4 C2488.9 483.9 2483.8 474.3 2485.1 472.0 Z" fill="#5889bb" stroke="#4a72b0" stroke-width="1.2"/>
<path d="M2116.1 610.4 C2118.1 606.9 2130.2 605.3 2135.4 606.6 C2140.5 607.8 2146.2 614.2 2146.9 618.1 C2147.5 621.9 2143.0 628.0 2139.2 629.6 C2135.4 631.2 2127.7 630.9 2123.8 627.7 C2120.0 624.5 2114.2 613.9 2116.1 610.4 Z" fill="#5889bb" stroke="#4a72b0" stroke-width="1.2"/>
<path d="M1744.9 416.3 C1746.8 414.1 1757.1 412.2 1764.1 412.5 C1771.2 412.8 1782.0 416.0 1787.2 418.2 C1792.3 420.5 1797.4 424.0 1794.9 425.9 C1792.3 427.8 1778.8 429.8 1771.8 429.8 C1764.8 429.8 1757.1 428.2 1752.6 425.9 C1748.1 423.7 1743.0 418.6 1744.9 416.3 Z" fill="#5889bb" stroke="#4a72b0" stroke-width="1.2"/>
<path d="M1664.2 614.2 C1665.5 607.2 1673.2 598.2 1679.6 591.2 C1686.0 584.1 1694.9 577.1 1702.6 572.0 C1710.3 566.8 1718.6 561.7 1725.7 560.4 C1732.7 559.2 1742.3 560.4 1744.9 564.3 C1747.5 568.1 1743.0 577.1 1741.1 583.5 C1739.1 589.9 1732.1 595.7 1733.4 602.7 C1734.6 609.8 1746.8 618.7 1748.7 625.8 C1750.7 632.8 1753.9 641.8 1744.9 645.0 C1735.9 648.2 1707.1 646.9 1694.9 645.0 C1682.8 643.1 1677.0 638.6 1671.9 633.5 C1666.8 628.3 1662.9 621.3 1664.2 614.2 Z" fill="#5889bb" stroke="#4a72b0" stroke-width="1.2"/>
<path d="M2093.1 1013.9 C2094.4 1008.5 2102.7 1004.0 2108.5 1000.5 C2114.2 997.0 2121.3 992.8 2127.7 992.8 C2134.1 992.8 2140.5 997.6 2146.9 1000.5 C2153.3 1003.4 2159.7 1005.9 2166.1 1010.1 C2172.5 1014.3 2178.3 1021.6 2185.3 1025.5 C2192.4 1029.3 2202.6 1030.0 2208.4 1033.2 C2214.1 1036.4 2218.6 1040.2 2219.9 1044.7 C2221.2 1049.2 2218.6 1055.6 2216.1 1060.1 C2213.5 1064.5 2208.4 1065.8 2204.5 1071.6 C2200.7 1077.4 2197.5 1088.9 2193.0 1094.7 C2188.5 1100.4 2183.4 1102.3 2177.6 1106.2 C2171.9 1110.0 2163.5 1112.6 2158.4 1117.7 C2153.3 1122.8 2150.1 1129.9 2146.9 1136.9 C2143.7 1144.0 2149.4 1156.1 2139.2 1160.0 C2129.0 1163.8 2094.4 1163.8 2085.4 1160.0 C2076.4 1156.1 2084.1 1145.9 2085.4 1136.9 C2086.7 1128.0 2089.2 1114.5 2093.1 1106.2 C2096.9 1097.9 2104.0 1093.4 2108.5 1087.0 C2112.9 1080.6 2118.7 1074.2 2120.0 1067.8 C2121.3 1061.3 2119.3 1054.3 2116.1 1048.5 C2112.9 1042.8 2104.6 1038.9 2100.8 1033.2 C2096.9 1027.4 2091.8 1019.4 2093.1 1013.9 Z" fill="#5889bb" stroke="#4a72b0" stroke-width="1.2"/>
<path d="M1053.1 1294.5 C1053.8 1290.0 1056.3 1286.8 1060.8 1284.9 C1065.3 1283.0 1074.3 1281.4 1080.0 1283.0 C1085.8 1284.6 1090.9 1290.3 1095.4 1294.5 C1099.9 1298.7 1105.6 1304.4 1106.9 1308.0 C1108.2 1311.5 1106.3 1315.3 1103.1 1315.6 C1099.9 1316.0 1092.8 1309.9 1087.7 1309.9 C1082.6 1309.9 1077.5 1315.3 1072.3 1315.6 C1067.2 1316.0 1060.2 1315.3 1057.0 1311.8 C1053.8 1308.3 1052.5 1299.0 1053.1 1294.5 Z" fill="#5889bb" stroke="#4a72b0" stroke-width="1.2"/>
<path d="M1122.3 1294.5 C1123.1 1292.6 1128.2 1291.4 1130.0 1292.6 C1131.8 1293.7 1133.8 1299.5 1133.1 1301.4 C1132.3 1303.4 1127.2 1305.3 1125.4 1304.1 C1123.6 1303.0 1121.5 1296.4 1122.3 1294.5 Z" fill="#5889bb" stroke="#4a72b0" stroke-width="1.2"/>
<path d="M2469.7 748.8 C2472.3 746.2 2483.2 748.8 2488.9 752.6 C2494.7 756.5 2503.7 767.7 2504.3 771.8 C2504.9 776.0 2497.9 778.2 2492.8 777.6 C2487.7 776.9 2477.4 772.8 2473.6 768.0 C2469.7 763.2 2467.2 751.3 2469.7 748.8 Z" fill="#74a9d0" stroke="#5f97c6" stroke-width="1.2"/>
<path d="M657.3 1115.8 C680.3 1073.2 763.6 1115.8 795.6 1115.8 C827.7 1115.8 834.1 1116.1 849.4 1115.8 C864.8 1115.5 875.1 1113.9 887.9 1113.9 C900.7 1113.9 913.5 1116.4 926.3 1115.8 C939.1 1115.2 951.9 1112.9 964.7 1110.0 C977.5 1107.1 990.3 1101.4 1003.2 1098.5 C1016.0 1095.6 1028.8 1094.0 1041.6 1092.7 C1054.4 1091.5 1067.2 1091.8 1080.0 1090.8 C1092.8 1089.9 1105.6 1088.9 1118.5 1087.0 C1131.3 1085.0 1144.1 1082.5 1156.9 1079.3 C1169.7 1076.1 1182.5 1071.6 1195.3 1067.8 C1208.1 1063.9 1220.9 1059.4 1233.8 1056.2 C1246.6 1053.0 1259.4 1051.1 1272.2 1048.5 C1285.0 1046.0 1297.8 1043.4 1310.6 1040.8 C1323.4 1038.3 1340.1 1033.8 1349.0 1033.2 C1358.0 1032.5 1356.7 1035.7 1364.4 1037.0 C1372.1 1038.3 1384.9 1040.2 1395.2 1040.8 C1405.4 1041.5 1414.4 1042.1 1425.9 1040.8 C1437.4 1039.6 1451.5 1036.4 1464.3 1033.2 C1477.2 1030.0 1491.2 1024.8 1502.8 1021.6 C1514.3 1018.4 1523.3 1016.5 1533.5 1013.9 C1543.8 1011.4 1554.0 1009.1 1564.3 1006.3 C1574.5 1003.4 1586.0 999.9 1595.0 996.7 C1604.0 993.4 1610.4 990.6 1618.1 987.0 C1625.8 983.5 1632.8 979.4 1641.1 975.5 C1649.5 971.7 1659.1 968.5 1668.0 964.0 C1677.0 959.5 1686.0 953.7 1694.9 948.6 C1703.9 943.5 1712.9 938.4 1721.8 933.2 C1730.8 928.1 1740.4 923.6 1748.7 917.9 C1757.1 912.1 1765.4 905.1 1771.8 898.7 C1778.2 892.2 1783.3 884.6 1787.2 879.4 C1791.0 874.3 1792.6 869.2 1794.9 867.9 C1797.2 866.6 1800.0 870.5 1801.0 871.7 C1802.0 873.0 1799.1 877.5 1801.0 875.6 C1802.9 873.7 1806.8 864.1 1812.5 860.2 C1818.3 856.4 1827.9 856.4 1835.6 852.5 C1843.3 848.7 1852.9 841.0 1858.6 837.2 C1864.4 833.3 1863.8 828.2 1870.2 829.5 C1876.6 830.8 1891.3 839.7 1897.1 844.8 C1902.8 850.0 1901.6 861.5 1904.8 860.2 C1908.0 858.9 1911.8 842.9 1916.3 837.2 C1920.8 831.4 1926.5 828.2 1931.7 825.6 C1936.8 823.1 1940.6 819.9 1947.0 821.8 C1953.4 823.7 1962.4 834.0 1970.1 837.2 C1977.8 840.4 1988.0 837.2 1993.2 841.0 C1998.3 844.8 2000.8 853.2 2000.8 860.2 C2000.8 867.3 1997.0 876.9 1993.2 883.3 C1989.3 889.7 1982.9 893.5 1977.8 898.7 C1972.7 903.8 1966.3 907.6 1962.4 914.0 C1958.6 920.4 1954.7 930.7 1954.7 937.1 C1954.7 943.5 1957.9 952.5 1962.4 952.5 C1966.9 952.5 1973.9 942.2 1981.6 937.1 C1989.3 932.0 2002.8 928.1 2008.5 921.7 C2014.3 915.3 2012.4 905.7 2016.2 898.7 C2020.1 891.6 2025.2 883.9 2031.6 879.4 C2038.0 875.0 2047.0 874.3 2054.7 871.7 C2062.3 869.2 2071.3 867.9 2077.7 864.1 C2084.1 860.2 2089.9 855.1 2093.1 848.7 C2096.3 842.3 2094.4 829.5 2096.9 825.6 C2099.5 821.8 2103.3 823.7 2108.5 825.6 C2113.6 827.6 2123.8 832.7 2127.7 837.2 C2131.5 841.6 2128.3 848.7 2131.5 852.5 C2134.7 856.4 2140.5 860.2 2146.9 860.2 C2153.3 860.2 2161.0 855.7 2169.9 852.5 C2178.9 849.3 2190.4 844.8 2200.7 841.0 C2210.9 837.2 2221.2 832.7 2231.4 829.5 C2241.7 826.3 2251.9 824.3 2262.2 821.8 C2272.4 819.2 2283.3 816.7 2292.9 814.1 C2302.5 811.5 2313.4 805.8 2319.8 806.4 C2326.2 807.1 2325.6 816.7 2331.4 817.9 C2337.1 819.2 2345.5 816.0 2354.4 814.1 C2363.4 812.2 2374.9 809.0 2385.2 806.4 C2395.4 803.9 2405.7 801.3 2415.9 798.7 C2426.2 796.2 2436.4 793.3 2446.7 791.0 C2456.9 788.8 2471.0 788.5 2477.4 785.3 C2483.8 782.1 2480.0 774.1 2485.1 771.8 C2490.2 769.6 2502.4 769.9 2508.1 771.8 C2513.9 773.7 2515.8 782.1 2519.7 783.4 C2523.5 784.6 2526.1 780.2 2531.2 779.5 C2536.3 778.9 2547.9 778.2 2550.4 779.5 C2553.0 780.8 2552.3 784.0 2546.6 787.2 C2540.8 790.4 2522.2 794.2 2515.8 798.7 C2509.4 803.2 2508.1 806.4 2508.1 814.1 C2508.1 821.8 2515.8 837.2 2515.8 844.8 C2515.8 852.5 2513.3 856.4 2508.1 860.2 C2503.0 864.1 2494.1 866.0 2485.1 867.9 C2476.1 869.8 2464.6 869.8 2454.3 871.7 C2444.1 873.7 2432.6 876.2 2423.6 879.4 C2414.6 882.6 2408.2 887.8 2400.5 891.0 C2392.9 894.2 2385.2 898.0 2377.5 898.7 C2369.8 899.3 2363.4 894.2 2354.4 894.8 C2345.5 895.4 2333.9 900.6 2323.7 902.5 C2313.4 904.4 2303.2 906.0 2292.9 906.3 C2282.7 906.7 2271.2 904.4 2262.2 904.4 C2253.2 904.4 2246.8 904.1 2239.1 906.3 C2231.4 908.6 2225.0 914.0 2216.1 917.9 C2207.1 921.7 2195.6 926.2 2185.3 929.4 C2175.1 932.6 2163.5 934.8 2154.6 937.1 C2145.6 939.3 2139.2 940.3 2131.5 942.8 C2123.8 945.4 2116.1 949.6 2108.5 952.5 C2100.8 955.3 2094.4 957.6 2085.4 960.1 C2076.4 962.7 2064.9 965.3 2054.7 967.8 C2044.4 970.4 2032.9 973.0 2023.9 975.5 C2014.9 978.1 2007.9 981.3 2000.8 983.2 C1993.8 985.1 1987.4 987.0 1981.6 987.0 C1975.9 987.0 1971.4 983.2 1966.3 983.2 C1961.1 983.2 1954.1 989.0 1950.9 987.0 C1947.7 985.1 1950.2 975.5 1947.0 971.7 C1943.8 967.8 1936.8 962.7 1931.7 964.0 C1926.5 965.3 1919.5 973.6 1916.3 979.4 C1913.1 985.1 1912.5 992.2 1912.5 998.6 C1912.5 1005.0 1918.2 1012.7 1916.3 1017.8 C1914.4 1022.9 1907.3 1026.1 1900.9 1029.3 C1894.5 1032.5 1884.9 1033.2 1877.9 1037.0 C1870.8 1040.8 1865.1 1047.3 1858.6 1052.4 C1852.2 1057.5 1845.8 1063.3 1839.4 1067.8 C1833.0 1072.2 1826.6 1075.4 1820.2 1079.3 C1813.8 1083.1 1805.5 1083.1 1801.0 1090.8 C1796.5 1098.5 1793.3 1107.5 1793.3 1125.4 C1793.3 1143.3 1798.8 1176.7 1801.0 1198.4 C1803.2 1220.2 1806.4 1234.9 1806.4 1256.1 C1806.4 1277.2 1805.5 1311.2 1801.0 1325.3 C1796.5 1339.3 1786.9 1336.1 1779.5 1340.6 C1772.1 1345.1 1762.2 1347.7 1756.4 1352.2 C1750.7 1356.6 1748.7 1361.1 1744.9 1367.5 C1741.1 1373.9 1739.1 1383.5 1733.4 1390.6 C1727.6 1397.6 1719.3 1404.0 1710.3 1409.8 C1701.3 1415.6 1689.8 1419.4 1679.6 1425.2 C1669.3 1430.9 1658.4 1440.6 1648.8 1444.4 C1639.2 1448.2 1630.9 1452.1 1621.9 1448.2 C1612.9 1444.4 1602.7 1430.9 1595.0 1421.3 C1587.3 1411.7 1578.4 1400.8 1575.8 1390.6 C1573.2 1380.3 1577.7 1371.4 1579.6 1359.8 C1581.6 1348.3 1584.8 1333.6 1587.3 1321.4 C1589.9 1309.2 1589.9 1296.4 1595.0 1286.8 C1600.1 1277.2 1607.8 1273.4 1618.1 1263.8 C1628.3 1254.2 1646.9 1241.3 1656.5 1229.2 C1666.1 1217.0 1673.2 1202.3 1675.7 1190.7 C1678.3 1179.2 1671.9 1168.3 1671.9 1160.0 C1671.9 1151.7 1676.4 1147.8 1675.7 1140.8 C1675.1 1133.7 1668.7 1124.8 1668.0 1117.7 C1667.4 1110.7 1671.9 1106.8 1671.9 1098.5 C1671.9 1090.2 1670.0 1078.0 1668.0 1067.8 C1666.1 1057.5 1663.5 1046.6 1660.3 1037.0 C1657.1 1027.4 1652.0 1015.9 1648.8 1010.1 C1645.6 1004.3 1643.1 999.9 1641.1 1002.4 C1639.2 1005.0 1639.2 1017.8 1637.3 1025.5 C1635.4 1033.2 1634.1 1041.5 1629.6 1048.5 C1625.1 1055.6 1616.1 1065.8 1610.4 1067.8 C1604.6 1069.7 1599.5 1063.9 1595.0 1060.1 C1590.5 1056.2 1587.3 1046.0 1583.5 1044.7 C1579.6 1043.4 1575.2 1048.5 1572.0 1052.4 C1568.8 1056.2 1569.4 1065.8 1564.3 1067.8 C1559.1 1069.7 1547.6 1064.9 1541.2 1063.9 C1534.8 1062.9 1532.2 1060.7 1525.8 1062.0 C1519.4 1063.3 1510.5 1069.4 1502.8 1071.6 C1495.1 1073.8 1487.4 1074.2 1479.7 1075.4 C1472.0 1076.7 1463.1 1076.7 1456.7 1079.3 C1450.3 1081.8 1446.4 1086.3 1441.3 1090.8 C1436.2 1095.3 1431.0 1101.1 1425.9 1106.2 C1420.8 1111.3 1415.7 1117.7 1410.5 1121.6 C1405.4 1125.4 1400.3 1126.0 1395.2 1129.2 C1390.0 1132.4 1384.9 1140.1 1379.8 1140.8 C1374.7 1141.4 1370.8 1133.7 1364.4 1133.1 C1358.0 1132.4 1350.3 1135.6 1341.4 1136.9 C1332.4 1138.2 1322.1 1138.2 1310.6 1140.8 C1299.1 1143.3 1285.0 1149.1 1272.2 1152.3 C1259.4 1155.5 1246.6 1157.7 1233.8 1160.0 C1220.9 1162.2 1204.9 1163.2 1195.3 1165.8 C1185.7 1168.3 1182.5 1173.5 1176.1 1175.4 C1169.7 1177.3 1164.6 1177.9 1156.9 1177.3 C1149.2 1176.7 1139.0 1172.2 1130.0 1171.5 C1121.0 1170.9 1112.7 1172.5 1103.1 1173.5 C1093.5 1174.4 1082.6 1174.7 1072.3 1177.3 C1062.1 1179.9 1050.6 1183.4 1041.6 1188.8 C1032.6 1194.3 1026.9 1203.9 1018.5 1210.0 C1010.2 1216.0 1000.3 1220.9 991.6 1225.3 C983.0 1229.8 970.2 1232.7 966.6 1236.9 C963.1 1241.0 971.5 1245.8 970.5 1250.3 C969.5 1254.8 965.7 1261.2 960.9 1263.8 C956.1 1266.3 947.8 1267.0 941.7 1265.7 C935.6 1264.4 927.6 1260.9 924.4 1256.1 C921.2 1251.3 925.3 1242.6 922.5 1236.9 C919.6 1231.1 912.8 1223.7 907.1 1221.5 C901.3 1219.2 893.6 1220.9 887.9 1223.4 C882.1 1226.0 877.3 1230.8 872.5 1236.9 C867.7 1242.9 860.6 1251.6 859.0 1259.9 C857.4 1268.3 861.3 1277.9 862.9 1286.8 C864.5 1295.8 869.0 1304.8 868.6 1313.7 C868.3 1322.7 866.7 1333.6 861.0 1340.6 C855.2 1347.7 844.9 1350.9 834.1 1356.0 C823.2 1361.1 825.1 1368.8 795.6 1371.4 C766.2 1373.9 680.3 1414.0 657.3 1371.4 C634.2 1328.8 634.2 1158.4 657.3 1115.8 Z" fill="#5869b5" stroke="#4354a3" stroke-width="1.2"/>
<path d="M811.0 249.1 C814.2 248.5 819.3 254.3 822.5 256.8 C825.7 259.4 829.6 261.6 830.2 264.5 C830.9 267.4 829.6 272.8 826.4 274.1 C823.2 275.4 814.8 274.4 811.0 272.2 C807.2 270.0 803.3 264.5 803.3 260.7 C803.3 256.8 807.8 249.8 811.0 249.1 Z" fill="#5869b5" stroke="#4354a3" stroke-width="1.2"/>
<path d="M2029.7 744.9 C2032.2 739.8 2040.2 735.6 2047.0 733.4 C2053.7 731.2 2064.9 729.6 2070.0 731.5 C2075.1 733.4 2077.7 740.1 2077.7 744.9 C2077.7 749.7 2067.5 760.9 2070.0 760.3 C2072.6 759.7 2086.7 748.1 2093.1 741.1 C2099.5 734.0 2103.3 722.8 2108.5 718.0 C2113.6 713.2 2117.4 711.6 2123.8 712.3 C2130.2 712.9 2141.8 717.1 2146.9 721.9 C2152.0 726.7 2149.4 736.6 2154.6 741.1 C2159.7 745.6 2169.9 748.1 2177.6 748.8 C2185.3 749.4 2193.0 747.5 2200.7 744.9 C2208.4 742.4 2217.3 736.0 2223.8 733.4 C2230.2 730.8 2235.9 727.6 2239.1 729.6 C2242.3 731.5 2244.2 739.8 2243.0 744.9 C2241.7 750.0 2237.2 755.8 2231.4 760.3 C2225.7 764.8 2216.1 767.3 2208.4 771.8 C2200.7 776.3 2191.7 782.7 2185.3 787.2 C2178.9 791.7 2176.4 796.2 2169.9 798.7 C2163.5 801.3 2153.3 803.2 2146.9 802.6 C2140.5 801.9 2136.6 798.7 2131.5 794.9 C2126.4 791.0 2121.3 782.1 2116.1 779.5 C2111.0 776.9 2105.9 777.6 2100.8 779.5 C2095.6 781.4 2089.2 791.0 2085.4 791.0 C2081.6 791.0 2081.6 782.1 2077.7 779.5 C2073.9 776.9 2067.5 776.9 2062.3 775.7 C2057.2 774.4 2052.1 773.7 2047.0 771.8 C2041.8 769.9 2034.5 768.6 2031.6 764.1 C2028.7 759.7 2027.1 750.0 2029.7 744.9 Z" fill="#5869b5" stroke="#4354a3" stroke-width="1.2"/>
<path d="M2110.4 698.8 C2111.3 696.6 2116.8 692.1 2120.0 691.1 C2123.2 690.2 2129.0 691.1 2129.6 693.0 C2130.2 695.0 2126.4 700.7 2123.8 702.6 C2121.3 704.6 2116.5 705.2 2114.2 704.6 C2112.0 703.9 2109.4 701.0 2110.4 698.8 Z" fill="#5869b5" stroke="#4354a3" stroke-width="1.2"/>
<path d="M2131.5 1075.4 C2134.1 1072.2 2140.5 1067.1 2146.9 1063.9 C2153.3 1060.7 2163.5 1056.9 2169.9 1056.2 C2176.4 1055.6 2182.8 1057.5 2185.3 1060.1 C2187.9 1062.6 2187.9 1068.4 2185.3 1071.6 C2182.8 1074.8 2175.1 1076.7 2169.9 1079.3 C2164.8 1081.8 2159.7 1085.0 2154.6 1087.0 C2149.4 1088.9 2143.0 1091.5 2139.2 1090.8 C2135.4 1090.2 2132.8 1085.7 2131.5 1083.1 C2130.2 1080.6 2129.0 1078.6 2131.5 1075.4 Z" fill="#5869b5" stroke="#4354a3" stroke-width="1.2"/>
<path d="M2227.6 253.0 C2229.5 250.1 2238.2 247.2 2243.0 247.2 C2247.8 247.2 2254.5 250.1 2256.4 253.0 C2258.3 255.9 2256.7 261.3 2254.5 264.5 C2252.3 267.7 2246.8 272.2 2243.0 272.2 C2239.1 272.2 2234.0 267.7 2231.4 264.5 C2228.9 261.3 2225.7 255.9 2227.6 253.0 Z" fill="#5869b5" stroke="#4354a3" stroke-width="1.2"/>
<path d="M2091.2 295.3 C2094.0 292.1 2101.7 288.2 2108.5 285.6 C2115.2 283.1 2123.8 280.5 2131.5 279.9 C2139.2 279.2 2148.8 280.2 2154.6 281.8 C2160.3 283.4 2165.5 286.6 2166.1 289.5 C2166.7 292.4 2162.9 296.5 2158.4 299.1 C2153.9 301.7 2145.6 302.6 2139.2 304.9 C2132.8 307.1 2126.4 311.0 2120.0 312.6 C2113.6 314.2 2105.6 315.8 2100.8 314.5 C2096.0 313.2 2092.8 308.1 2091.2 304.9 C2089.6 301.7 2088.3 298.5 2091.2 295.3 Z" fill="#5869b5" stroke="#4354a3" stroke-width="1.2"/>
<path d="M2126.9 247.2 C2127.9 245.3 2131.5 244.2 2133.4 245.3 C2135.4 246.4 2138.4 251.2 2138.4 253.8 C2138.4 256.3 2135.2 260.2 2133.4 260.7 C2131.6 261.2 2128.8 259.1 2127.7 256.8 C2126.6 254.6 2125.9 249.1 2126.9 247.2 Z" fill="#5869b5" stroke="#4354a3" stroke-width="1.2"/>
<path d="M2356.3 533.5 C2357.9 530.3 2365.3 529.4 2369.8 529.7 C2374.3 530.0 2380.7 532.6 2383.2 535.5 C2385.8 538.3 2386.8 544.1 2385.2 547.0 C2383.6 549.9 2377.8 552.4 2373.6 552.8 C2369.5 553.1 2363.1 552.1 2360.2 548.9 C2357.3 545.7 2354.7 536.7 2356.3 533.5 Z" fill="#5869b5" stroke="#4354a3" stroke-width="1.2"/>
<path d="M1681.5 614.2 C1683.1 612.0 1688.9 609.1 1691.1 610.4 C1693.3 611.7 1695.6 618.7 1694.9 621.9 C1694.3 625.1 1689.5 629.3 1687.2 629.6 C1685.0 629.9 1682.4 626.4 1681.5 623.9 C1680.5 621.3 1679.9 616.5 1681.5 614.2 Z" fill="#5869b5" stroke="#4354a3" stroke-width="1.2"/>
<path d="M1702.6 595.0 C1703.9 589.9 1710.3 589.3 1714.2 591.2 C1718.0 593.1 1721.8 600.8 1725.7 606.6 C1729.5 612.3 1735.9 620.0 1737.2 625.8 C1738.5 631.5 1736.6 639.2 1733.4 641.1 C1730.2 643.1 1722.5 640.5 1718.0 637.3 C1713.5 634.1 1709.0 629.0 1706.5 621.9 C1703.9 614.9 1701.3 600.2 1702.6 595.0 Z" fill="#5869b5" stroke="#4354a3" stroke-width="1.2"/>
<path d="M1875.9 869.8 C1876.3 866.3 1880.7 863.7 1883.6 864.1 C1886.5 864.4 1892.0 868.5 1893.2 871.7 C1894.5 875.0 1893.2 881.0 1891.3 883.3 C1889.4 885.5 1884.3 887.4 1881.7 885.2 C1879.1 883.0 1875.6 873.3 1875.9 869.8 Z" fill="#5889bb" stroke="#4a72b0" stroke-width="1.2"/>
<path d="M1858.6 894.8 C1859.3 892.2 1866.0 890.0 1868.3 891.0 C1870.5 891.9 1872.7 898.0 1872.1 900.6 C1871.5 903.1 1866.7 907.3 1864.4 906.3 C1862.2 905.4 1858.0 897.4 1858.6 894.8 Z" fill="#5889bb" stroke="#4a72b0" stroke-width="1.2"/>
<path d="M1899.0 910.2 C1901.6 907.0 1912.1 900.3 1916.3 898.7 C1920.5 897.0 1924.6 898.0 1924.0 900.6 C1923.3 903.1 1916.3 911.1 1912.5 914.0 C1908.6 916.9 1903.2 918.5 1900.9 917.9 C1898.7 917.2 1896.4 913.4 1899.0 910.2 Z" fill="#5889bb" stroke="#4a72b0" stroke-width="1.2"/>
<path d="M1868.3 921.7 C1868.6 918.8 1876.9 911.5 1879.8 910.2 C1882.7 908.9 1885.9 911.1 1885.6 914.0 C1885.2 916.9 1880.7 926.2 1877.9 927.5 C1875.0 928.8 1867.9 924.6 1868.3 921.7 Z" fill="#5889bb" stroke="#4a72b0" stroke-width="1.2"/>
<path d="M1637.3 1044.7 C1638.6 1040.8 1645.6 1035.7 1648.8 1037.0 C1652.0 1038.3 1656.5 1047.9 1656.5 1052.4 C1656.5 1056.9 1651.4 1062.6 1648.8 1063.9 C1646.3 1065.2 1643.1 1063.3 1641.1 1060.1 C1639.2 1056.9 1636.0 1048.5 1637.3 1044.7 Z" fill="#5889bb" stroke="#4a72b0" stroke-width="1.2"/>
<path d="M1573.9 1048.5 C1574.5 1045.7 1581.2 1043.4 1583.5 1044.7 C1585.7 1046.0 1588.0 1053.3 1587.3 1056.2 C1586.7 1059.1 1581.9 1063.3 1579.6 1062.0 C1577.4 1060.7 1573.2 1051.4 1573.9 1048.5 Z" fill="#5889bb" stroke="#4a72b0" stroke-width="1.2"/>
<path d="M795.6 1121.6 C800.8 1119.0 816.8 1116.9 826.4 1115.8 C836.0 1114.6 845.6 1114.0 853.3 1114.6 C861.0 1115.3 869.3 1116.6 872.5 1119.6 C875.7 1122.7 876.3 1129.9 872.5 1133.1 C868.6 1136.3 857.1 1138.2 849.4 1138.9 C841.7 1139.5 835.3 1138.2 826.4 1136.9 C817.4 1135.6 800.8 1133.7 795.6 1131.2 C790.5 1128.6 790.5 1124.1 795.6 1121.6 Z" fill="#fdfdb0" stroke="#e9e99a" stroke-width="1.2"/>
<path d="M1158.8 1100.4 C1160.7 1096.3 1166.2 1091.8 1172.3 1088.9 C1178.3 1086.0 1187.0 1084.4 1195.3 1083.1 C1203.6 1081.8 1214.5 1080.6 1222.2 1081.2 C1229.9 1081.8 1238.2 1083.4 1241.4 1087.0 C1244.6 1090.5 1243.0 1097.5 1241.4 1102.3 C1239.8 1107.1 1235.0 1111.9 1231.8 1115.8 C1228.6 1119.6 1228.3 1123.7 1222.2 1125.4 C1216.1 1127.1 1203.6 1126.5 1195.3 1126.2 C1187.0 1125.8 1178.0 1125.5 1172.3 1123.5 C1166.5 1121.4 1163.0 1117.7 1160.7 1113.9 C1158.5 1110.0 1156.9 1104.6 1158.8 1100.4 Z" fill="#fdfdb0" stroke="#e9e99a" stroke-width="1.2"/>
<path d="M1281.8 1075.4 C1282.4 1072.2 1291.7 1070.0 1299.1 1067.8 C1306.5 1065.5 1317.7 1064.5 1326.0 1062.0 C1334.3 1059.4 1340.1 1054.6 1349.0 1052.4 C1358.0 1050.1 1369.5 1050.1 1379.8 1048.5 C1390.0 1046.9 1400.3 1044.7 1410.5 1042.8 C1420.8 1040.8 1431.0 1038.9 1441.3 1037.0 C1451.5 1035.1 1461.8 1033.2 1472.0 1031.2 C1482.3 1029.3 1492.5 1027.2 1502.8 1025.5 C1513.0 1023.7 1523.9 1021.8 1533.5 1020.9 C1543.1 1019.9 1555.3 1018.9 1560.4 1019.7 C1565.5 1020.5 1566.2 1023.6 1564.3 1025.5 C1562.3 1027.4 1555.3 1029.3 1548.9 1031.2 C1542.5 1033.2 1533.5 1035.4 1525.8 1037.0 C1518.1 1038.6 1511.7 1038.6 1502.8 1040.8 C1493.8 1043.1 1482.3 1046.9 1472.0 1050.5 C1461.8 1054.0 1450.3 1058.5 1441.3 1062.0 C1432.3 1065.5 1424.6 1067.4 1418.2 1071.6 C1411.8 1075.8 1408.0 1082.2 1402.9 1087.0 C1397.7 1091.8 1393.9 1096.9 1387.5 1100.4 C1381.1 1103.9 1372.1 1106.2 1364.4 1108.1 C1356.7 1110.0 1349.0 1111.3 1341.4 1111.9 C1333.7 1112.6 1324.1 1114.2 1318.3 1111.9 C1312.5 1109.7 1310.6 1102.7 1306.8 1098.5 C1302.9 1094.3 1299.4 1090.8 1295.2 1087.0 C1291.1 1083.1 1281.2 1078.6 1281.8 1075.4 Z" fill="#fdfdb0" stroke="#e9e99a" stroke-width="1.2"/>
<path d="M1812.6 898.5 C1815.6 897.6 1817.3 898.9 1819.0 901.0 C1820.7 903.2 1822.2 907.0 1822.8 911.3 C1823.5 915.6 1821.8 922.0 1822.8 926.7 C1823.9 931.4 1826.0 936.9 1829.2 939.5 C1832.4 942.1 1839.3 939.9 1842.1 942.1 C1844.8 944.2 1845.7 948.0 1845.9 952.3 C1846.1 956.6 1843.5 962.6 1843.3 967.7 C1843.1 972.8 1844.2 977.1 1844.6 983.1 C1845.0 989.1 1846.3 996.8 1845.9 1003.6 C1845.5 1010.4 1843.5 1018.1 1842.1 1024.1 C1840.6 1030.1 1839.1 1034.4 1836.9 1039.5 C1834.8 1044.6 1831.8 1050.6 1829.2 1054.9 C1826.7 1059.1 1824.3 1062.1 1821.5 1065.1 C1818.8 1068.1 1814.9 1073.2 1812.6 1072.8 C1810.2 1072.4 1809.1 1065.6 1807.4 1062.6 C1805.7 1059.6 1804.2 1054.9 1802.3 1054.9 C1800.4 1054.9 1798.7 1059.6 1795.9 1062.6 C1793.1 1065.6 1788.6 1069.4 1785.6 1072.8 C1782.6 1076.2 1780.5 1080.1 1777.9 1083.1 C1775.4 1086.1 1771.3 1087.8 1770.3 1090.8 C1769.2 1093.8 1772.0 1097.6 1771.5 1101.0 C1771.1 1104.4 1769.6 1108.3 1767.7 1111.3 C1765.8 1114.3 1762.6 1116.8 1760.0 1119.0 C1757.4 1121.1 1754.2 1121.1 1752.3 1124.1 C1750.4 1127.1 1749.7 1132.6 1748.5 1136.9 C1747.2 1141.2 1746.1 1149.3 1744.6 1149.7 C1743.1 1150.2 1741.2 1142.1 1739.5 1139.5 C1737.8 1136.9 1736.9 1134.8 1734.4 1134.4 C1731.8 1133.9 1727.9 1136.7 1724.1 1136.9 C1720.3 1137.1 1716.4 1135.4 1711.3 1135.6 C1706.2 1135.9 1698.5 1137.6 1693.3 1138.2 C1688.2 1138.8 1683.5 1141.0 1680.5 1139.5 C1677.5 1138.0 1675.4 1133.1 1675.4 1129.2 C1675.4 1125.4 1680.3 1120.3 1680.5 1116.4 C1680.7 1112.6 1677.9 1109.6 1676.7 1106.2 C1675.4 1102.7 1672.4 1099.3 1672.8 1095.9 C1673.2 1092.5 1675.8 1088.6 1679.2 1085.6 C1682.6 1082.6 1689.7 1081.4 1693.3 1077.9 C1697.0 1074.5 1698.9 1069.8 1701.0 1065.1 C1703.2 1060.4 1704.0 1054.9 1706.2 1049.7 C1708.3 1044.6 1711.7 1039.5 1713.8 1034.4 C1716.0 1029.2 1716.8 1024.1 1719.0 1019.0 C1721.1 1013.8 1723.2 1008.3 1726.7 1003.6 C1730.1 998.9 1735.4 993.5 1739.5 990.8 C1743.5 988.0 1746.8 990.8 1751.0 986.9 C1755.3 983.1 1761.5 971.8 1765.1 967.7 C1768.8 963.6 1769.8 966.0 1772.8 962.6 C1775.8 959.1 1781.6 951.5 1783.1 947.2 C1784.6 942.9 1781.4 940.8 1781.8 936.9 C1782.2 933.1 1784.1 927.9 1785.6 924.1 C1787.1 920.3 1788.2 916.8 1790.8 913.8 C1793.3 910.9 1797.4 908.7 1801.0 906.2 C1804.7 903.6 1809.6 899.3 1812.6 898.5 Z" fill="#fdfdb0" stroke="#e9e99a" stroke-width="1.2"/>
<path d="M1776.7 1002.3 C1778.2 1000.6 1784.8 1002.1 1786.9 1003.6 C1789.1 1005.1 1789.7 1008.5 1789.5 1011.3 C1789.3 1014.1 1787.1 1018.1 1785.6 1020.3 C1784.1 1022.4 1781.9 1025.2 1780.5 1024.1 C1779.1 1023.0 1778.1 1017.5 1777.4 1013.8 C1776.8 1010.2 1775.1 1004.0 1776.7 1002.3 Z" fill="#5869b5" stroke="#4354a3" stroke-width="1.2"/>
<path d="M1756.2 1092.1 C1756.6 1091.2 1761.1 1090.5 1762.6 1090.8 C1764.1 1091.1 1765.6 1093.0 1765.1 1093.8 C1764.7 1094.7 1761.5 1096.2 1760.0 1095.9 C1758.5 1095.6 1755.7 1092.9 1756.2 1092.1 Z" fill="#5869b5" stroke="#4354a3" stroke-width="1.2"/>
<path d="M1557.4 1019.0 C1558.7 1017.1 1564.1 1018.3 1565.1 1020.3 C1566.2 1022.2 1565.1 1028.6 1563.8 1030.5 C1562.6 1032.4 1558.5 1033.7 1557.4 1031.8 C1556.4 1029.9 1556.2 1020.9 1557.4 1019.0 Z" fill="#fdfdb0" stroke="#e9e99a" stroke-width="1.2"/>
<path d="M1331.8 1079.3 C1333.0 1075.1 1339.1 1070.3 1345.2 1067.8 C1351.3 1065.2 1358.7 1064.9 1368.3 1063.9 C1377.9 1062.9 1398.4 1060.1 1402.9 1062.0 C1407.3 1063.9 1399.0 1071.3 1395.2 1075.4 C1391.3 1079.6 1386.2 1083.4 1379.8 1087.0 C1373.4 1090.5 1363.8 1095.6 1356.7 1096.6 C1349.7 1097.5 1341.7 1095.6 1337.5 1092.7 C1333.4 1089.9 1330.5 1083.4 1331.8 1079.3 Z" fill="#fdd34e" stroke="#eebf40" stroke-width="1.2"/>
<path d="M1730.5 1057.4 C1732.4 1053.2 1738.2 1051.7 1742.1 1049.7 C1745.9 1047.8 1751.5 1044.6 1753.6 1045.9 C1755.7 1047.2 1755.3 1053.8 1754.9 1057.4 C1754.4 1061.1 1753.2 1064.7 1751.0 1067.7 C1748.9 1070.7 1744.8 1072.8 1742.1 1075.4 C1739.3 1077.9 1736.3 1083.1 1734.4 1083.1 C1732.4 1083.1 1731.2 1079.7 1730.5 1075.4 C1729.9 1071.1 1728.6 1061.7 1730.5 1057.4 Z" fill="#fdd34e" stroke="#eebf40" stroke-width="1.2"/>
<path d="M1692.8 1094.6 C1694.3 1093.3 1701.4 1093.5 1703.6 1094.6 C1705.8 1095.7 1706.6 1098.9 1706.2 1101.0 C1705.7 1103.2 1702.9 1107.2 1701.0 1107.4 C1699.1 1107.6 1696.0 1104.4 1694.6 1102.3 C1693.2 1100.2 1691.3 1095.9 1692.8 1094.6 Z" fill="#fdd34e" stroke="#eebf40" stroke-width="1.2"/>
<path d="M2317.9 806.7 C2322.0 804.5 2335.0 805.4 2343.6 804.1 C2352.1 802.8 2360.7 800.7 2369.2 799.0 C2377.8 797.3 2386.3 796.0 2394.9 793.8 C2403.4 791.7 2412.0 788.3 2420.5 786.2 C2429.1 784.0 2437.6 782.3 2446.2 781.0 C2454.7 779.7 2462.8 779.7 2471.8 778.5 C2480.8 777.2 2491.0 774.6 2500.0 773.3 C2509.0 772.1 2519.2 770.8 2525.6 770.8 C2532.1 770.8 2534.2 771.8 2538.5 773.3 C2542.7 774.8 2551.3 778.0 2551.3 779.7 C2551.3 781.5 2544.9 782.1 2538.5 783.6 C2532.1 785.1 2521.4 787.0 2512.8 788.7 C2504.3 790.4 2495.7 792.8 2487.2 793.8 C2478.6 794.9 2470.1 794.5 2461.5 795.1 C2453.0 795.8 2444.4 796.0 2435.9 797.7 C2427.4 799.4 2418.8 803.2 2410.3 805.4 C2401.7 807.5 2393.2 808.6 2384.6 810.5 C2376.1 812.4 2367.5 814.8 2359.0 816.9 C2350.4 819.1 2339.7 821.6 2333.3 823.3 C2326.9 825.0 2322.9 828.2 2320.5 827.2 C2318.2 826.1 2319.7 820.3 2319.2 816.9 C2318.8 813.5 2313.9 808.8 2317.9 806.7 Z" fill="#5869b5" stroke="#4354a3" stroke-width="1.2"/>
<path d="M2046.2 934.9 C2041.9 932.7 2048.3 926.3 2051.3 922.1 C2054.3 917.8 2059.8 913.5 2064.1 909.2 C2068.4 905.0 2072.6 900.3 2076.9 896.4 C2081.2 892.6 2085.0 888.7 2089.7 886.2 C2094.4 883.6 2100.0 881.2 2105.1 881.0 C2110.3 880.8 2114.5 883.2 2120.5 884.9 C2126.5 886.6 2134.6 891.5 2141.0 891.3 C2147.4 891.1 2152.6 886.6 2159.0 883.6 C2165.4 880.6 2172.6 876.3 2179.5 873.3 C2186.3 870.3 2193.2 868.2 2200.0 865.6 C2206.8 863.1 2213.2 860.5 2220.5 857.9 C2227.8 855.4 2235.5 853.2 2243.6 850.3 C2251.7 847.3 2260.7 843.0 2269.2 840.0 C2277.8 837.0 2286.3 834.4 2294.9 832.3 C2303.4 830.2 2314.1 828.7 2320.5 827.2 C2326.9 825.7 2326.9 825.0 2333.3 823.3 C2339.7 821.6 2350.4 819.1 2359.0 816.9 C2367.5 814.8 2376.1 812.4 2384.6 810.5 C2393.2 808.6 2401.7 807.5 2410.3 805.4 C2418.8 803.2 2427.4 799.4 2435.9 797.7 C2444.4 796.0 2453.0 795.8 2461.5 795.1 C2470.1 794.5 2483.1 792.4 2487.2 793.8 C2491.2 795.3 2487.2 801.5 2485.9 804.1 C2484.6 806.7 2482.3 806.7 2479.5 809.2 C2476.7 811.8 2470.1 816.1 2469.2 819.5 C2468.4 822.9 2471.4 827.8 2474.4 829.7 C2477.4 831.7 2482.9 831.2 2487.2 831.0 C2491.5 830.8 2500.0 827.0 2500.0 828.5 C2500.0 830.0 2492.3 836.4 2487.2 840.0 C2482.1 843.6 2475.6 847.7 2469.2 850.3 C2462.8 852.8 2456.4 853.9 2448.7 855.4 C2441.0 856.9 2431.6 857.7 2423.1 859.2 C2414.5 860.7 2406.0 862.6 2397.4 864.4 C2388.9 866.1 2380.3 868.2 2371.8 869.5 C2363.2 870.8 2354.7 870.8 2346.2 872.1 C2337.6 873.3 2329.1 875.3 2320.5 877.2 C2312.0 879.1 2303.4 881.5 2294.9 883.6 C2286.3 885.7 2277.8 888.1 2269.2 890.0 C2260.7 891.9 2252.1 893.2 2243.6 895.1 C2235.0 897.1 2226.5 899.4 2217.9 901.5 C2209.4 903.7 2200.9 905.8 2192.3 907.9 C2183.8 910.1 2175.2 912.2 2166.7 914.4 C2158.1 916.5 2149.6 918.4 2141.0 920.8 C2132.5 923.1 2121.8 926.5 2115.4 928.5 C2109.0 930.4 2109.0 931.2 2102.6 932.3 C2096.2 933.4 2086.3 934.4 2076.9 934.9 C2067.5 935.3 2050.4 937.0 2046.2 934.9 Z" fill="#fdfdb0" stroke="#e9e99a" stroke-width="1.2"/>
<path d="M2191.0 891.3 C2190.2 888.5 2192.5 883.8 2194.9 881.0 C2197.2 878.2 2200.0 876.8 2205.1 874.6 C2210.3 872.5 2218.8 870.6 2225.6 868.2 C2232.5 865.9 2239.3 863.1 2246.2 860.5 C2253.0 857.9 2259.8 855.4 2266.7 852.8 C2273.5 850.3 2280.3 847.7 2287.2 845.1 C2294.0 842.6 2300.9 839.6 2307.7 837.4 C2314.5 835.3 2321.8 834.4 2328.2 832.3 C2334.6 830.2 2338.9 827.0 2346.2 824.6 C2353.4 822.3 2363.2 820.1 2371.8 818.2 C2380.3 816.3 2388.9 814.6 2397.4 813.1 C2406.0 811.6 2415.8 810.7 2423.1 809.2 C2430.3 807.7 2434.6 805.0 2441.0 804.1 C2447.4 803.2 2455.1 803.9 2461.5 804.1 C2467.9 804.3 2476.9 804.1 2479.5 805.4 C2482.1 806.7 2479.1 809.4 2476.9 811.8 C2474.8 814.1 2467.5 816.5 2466.7 819.5 C2465.8 822.5 2467.5 828.0 2471.8 829.7 C2476.1 831.5 2490.6 828.5 2492.3 829.7 C2494.0 831.0 2486.3 834.9 2482.1 837.4 C2477.8 840.0 2472.6 843.2 2466.7 845.1 C2460.7 847.1 2453.4 847.7 2446.2 849.0 C2438.9 850.3 2431.2 851.3 2423.1 852.8 C2415.0 854.3 2406.0 856.2 2397.4 857.9 C2388.9 859.7 2380.3 861.8 2371.8 863.1 C2363.2 864.4 2354.7 864.4 2346.2 865.6 C2337.6 866.9 2329.1 868.8 2320.5 870.8 C2312.0 872.7 2303.4 875.3 2294.9 877.2 C2286.3 879.1 2277.8 880.6 2269.2 882.3 C2260.7 884.0 2252.1 885.5 2243.6 887.4 C2235.0 889.4 2225.2 892.1 2217.9 893.8 C2210.7 895.6 2204.5 898.1 2200.0 897.7 C2195.5 897.3 2191.9 894.1 2191.0 891.3 Z" fill="#fdd34e" stroke="#eebf40" stroke-width="1.2"/>
<path d="M2343.6 842.6 C2344.0 840.1 2349.6 836.9 2353.8 834.9 C2358.1 832.8 2364.1 830.9 2369.2 830.3 C2374.4 829.6 2381.4 829.8 2384.6 831.0 C2387.8 832.2 2389.3 835.3 2388.5 837.4 C2387.6 839.6 2383.1 842.1 2379.5 843.8 C2375.9 845.6 2371.4 847.2 2366.7 848.2 C2362.0 849.2 2355.1 850.7 2351.3 849.7 C2347.4 848.8 2343.2 845.0 2343.6 842.6 Z" fill="#fba74f" stroke="#f09a40" stroke-width="1.2"/>
<path d="M1709.2 417.2 C1710.9 414.4 1718.2 409.9 1724.6 406.9 C1731.0 403.9 1739.6 401.2 1747.7 399.2 C1755.8 397.3 1764.8 396.9 1773.3 395.4 C1781.9 393.9 1790.4 391.8 1799.0 390.3 C1807.5 388.8 1816.9 387.9 1824.6 386.4 C1832.3 384.9 1837.4 381.5 1845.1 381.3 C1852.8 381.1 1862.2 383.6 1870.8 385.1 C1879.3 386.6 1891.7 389.2 1896.4 390.3 C1901.1 391.3 1896.4 389.6 1899.0 391.5 C1901.5 393.5 1907.1 399.7 1911.8 401.8 C1916.5 403.9 1923.8 402.6 1927.2 404.4 C1930.6 406.1 1931.9 408.6 1932.3 412.1 C1932.7 415.5 1929.3 421.0 1929.7 424.9 C1930.2 428.7 1931.9 432.4 1934.9 435.1 C1937.9 437.9 1943.4 441.1 1947.7 441.5 C1952.0 442.0 1956.2 439.2 1960.5 437.7 C1964.8 436.2 1967.8 434.3 1973.3 432.6 C1978.9 430.9 1987.9 427.9 1993.8 427.4 C1999.8 427.0 2004.1 429.1 2009.2 430.0 C2014.4 430.9 2019.5 431.3 2024.6 432.6 C2029.7 433.8 2037.9 434.3 2040.0 437.7 C2042.1 441.1 2040.0 448.8 2037.4 453.1 C2034.9 457.4 2029.3 463.3 2024.6 463.3 C2019.9 463.3 2013.5 456.9 2009.2 453.1 C2005.0 449.2 2005.0 442.0 1999.0 440.3 C1993.0 438.5 1980.2 442.8 1973.3 442.8 C1966.5 442.8 1963.9 440.3 1957.9 440.3 C1952.0 440.3 1943.4 442.0 1937.4 442.8 C1931.5 443.7 1927.2 444.1 1922.1 445.4 C1916.9 446.7 1912.6 449.2 1906.7 450.5 C1900.7 451.8 1893.0 453.1 1886.2 453.1 C1879.3 453.1 1872.5 452.2 1865.6 450.5 C1858.8 448.8 1852.0 443.7 1845.1 442.8 C1838.3 442.0 1831.5 445.4 1824.6 445.4 C1817.8 445.4 1810.9 444.1 1804.1 442.8 C1797.3 441.5 1790.4 439.0 1783.6 437.7 C1776.8 436.4 1769.9 436.0 1763.1 435.1 C1756.2 434.3 1749.0 433.8 1742.6 432.6 C1736.2 431.3 1729.3 428.9 1724.6 427.4 C1719.9 425.9 1716.9 425.3 1714.4 423.6 C1711.8 421.9 1707.5 420.0 1709.2 417.2 Z" fill="#74a9d0" stroke="#5f97c6" stroke-width="1.2"/>
<path d="M1675.9 432.6 C1677.6 429.6 1685.3 426.6 1691.3 424.9 C1697.3 423.2 1706.2 421.9 1711.8 422.3 C1717.4 422.7 1719.5 425.7 1724.6 427.4 C1729.7 429.1 1736.2 431.3 1742.6 432.6 C1749.0 433.8 1756.2 434.3 1763.1 435.1 C1769.9 436.0 1776.8 436.4 1783.6 437.7 C1790.4 439.0 1797.3 441.5 1804.1 442.8 C1810.9 444.1 1817.8 445.4 1824.6 445.4 C1831.5 445.4 1838.3 442.0 1845.1 442.8 C1852.0 443.7 1858.8 448.8 1865.6 450.5 C1872.5 452.2 1879.3 453.1 1886.2 453.1 C1893.0 453.1 1900.7 451.8 1906.7 450.5 C1912.6 449.2 1916.9 446.7 1922.1 445.4 C1927.2 444.1 1931.5 443.7 1937.4 442.8 C1943.4 442.0 1952.0 440.3 1957.9 440.3 C1963.9 440.3 1966.5 442.8 1973.3 442.8 C1980.2 442.8 1993.0 438.5 1999.0 440.3 C2005.0 442.0 2005.0 447.5 2009.2 453.1 C2013.5 458.6 2019.5 467.6 2024.6 473.6 C2029.7 479.6 2034.9 483.8 2040.0 489.0 C2045.1 494.1 2053.2 500.1 2055.4 504.4 C2057.5 508.6 2055.4 513.8 2052.8 514.6 C2050.3 515.5 2044.7 511.2 2040.0 509.5 C2035.3 507.8 2029.7 504.4 2024.6 504.4 C2019.5 504.4 2011.8 506.1 2009.2 509.5 C2006.7 512.9 2006.7 520.6 2009.2 524.9 C2011.8 529.1 2022.9 530.9 2024.6 535.1 C2026.3 539.4 2022.5 547.1 2019.5 550.5 C2016.5 553.9 2010.9 556.5 2006.7 555.6 C2002.4 554.8 1998.1 547.5 1993.8 545.4 C1989.6 543.2 1984.9 542.0 1981.0 542.8 C1977.2 543.7 1974.6 547.5 1970.8 550.5 C1966.9 553.5 1963.1 557.4 1957.9 560.8 C1952.8 564.2 1946.0 569.7 1940.0 571.0 C1934.0 572.3 1927.2 570.2 1922.1 568.5 C1916.9 566.8 1912.6 564.2 1909.2 560.8 C1905.8 557.4 1904.1 548.8 1901.5 547.9 C1899.0 547.1 1894.7 551.8 1893.8 555.6 C1893.0 559.5 1897.7 567.6 1896.4 571.0 C1895.1 574.4 1889.6 577.9 1886.2 576.2 C1882.7 574.4 1878.5 565.9 1875.9 560.8 C1873.3 555.6 1873.3 549.7 1870.8 545.4 C1868.2 541.1 1864.8 537.3 1860.5 535.1 C1856.2 533.0 1849.4 531.3 1845.1 532.6 C1840.9 533.8 1837.4 538.5 1834.9 542.8 C1832.3 547.1 1829.7 553.1 1829.7 558.2 C1829.7 563.3 1833.2 568.5 1834.9 573.6 C1836.6 578.7 1840.0 584.3 1840.0 589.0 C1840.0 593.7 1837.4 600.5 1834.9 601.8 C1832.3 603.1 1827.2 600.1 1824.6 596.7 C1822.1 593.2 1821.2 586.4 1819.5 581.3 C1817.8 576.2 1814.8 571.0 1814.4 565.9 C1813.9 560.8 1816.1 555.6 1816.9 550.5 C1817.8 545.4 1820.8 539.4 1819.5 535.1 C1818.2 530.9 1813.5 527.4 1809.2 524.9 C1805.0 522.3 1799.0 521.5 1793.8 519.7 C1788.7 518.0 1783.6 514.6 1778.5 514.6 C1773.3 514.6 1768.2 518.0 1763.1 519.7 C1757.9 521.5 1752.8 523.6 1747.7 524.9 C1742.6 526.2 1737.4 526.2 1732.3 527.4 C1727.2 528.7 1722.1 531.3 1716.9 532.6 C1711.8 533.8 1705.8 533.8 1701.5 535.1 C1697.3 536.4 1691.3 542.0 1691.3 540.3 C1691.3 538.5 1698.1 530.0 1701.5 524.9 C1705.0 519.7 1710.5 515.5 1711.8 509.5 C1713.1 503.5 1711.4 495.8 1709.2 489.0 C1707.1 482.1 1702.0 474.4 1699.0 468.5 C1696.0 462.5 1694.3 457.4 1691.3 453.1 C1688.3 448.8 1683.6 446.2 1681.0 442.8 C1678.5 439.4 1674.2 435.6 1675.9 432.6 Z" fill="#d2e3ee" stroke="#bcd5e4" stroke-width="1.2"/>
<path d="M1791.3 476.2 C1793.0 474.2 1799.4 473.2 1804.1 472.3 C1808.8 471.5 1814.8 470.6 1819.5 471.0 C1824.2 471.5 1830.6 473.2 1832.3 474.9 C1834.0 476.6 1832.3 479.6 1829.7 481.3 C1827.2 483.0 1821.2 484.3 1816.9 485.1 C1812.6 486.0 1807.9 486.6 1804.1 486.4 C1800.3 486.2 1796.0 485.6 1793.8 483.8 C1791.7 482.1 1789.6 478.1 1791.3 476.2 Z" fill="#9cc6df" stroke="#86b6d6" stroke-width="1.2"/>
<path d="M1834.9 542.8 C1836.4 539.4 1840.9 533.8 1845.1 532.6 C1849.4 531.3 1856.2 533.0 1860.5 535.1 C1864.8 537.3 1868.8 541.1 1870.8 545.4 C1872.7 549.7 1872.9 556.5 1872.1 560.8 C1871.2 565.0 1868.8 569.1 1865.6 571.0 C1862.4 572.9 1856.7 573.6 1852.8 572.3 C1849.0 571.0 1845.3 566.5 1842.6 563.3 C1839.8 560.1 1837.4 556.5 1836.2 553.1 C1834.9 549.7 1833.4 546.2 1834.9 542.8 Z" fill="#9cc6df" stroke="#86b6d6" stroke-width="1.2"/>
<path d="M1911.8 494.1 C1913.1 491.1 1918.2 486.0 1922.1 483.8 C1925.9 481.7 1931.5 480.4 1934.9 481.3 C1938.3 482.1 1942.6 486.0 1942.6 489.0 C1942.6 492.0 1938.3 496.7 1934.9 499.2 C1931.5 501.8 1925.5 503.9 1922.1 504.4 C1918.6 504.8 1916.1 503.5 1914.4 501.8 C1912.6 500.1 1910.5 497.1 1911.8 494.1 Z" fill="#9cc6df" stroke="#86b6d6" stroke-width="1.2"/>
<path d="M1842.6 547.9 C1843.8 545.2 1847.3 544.3 1850.3 544.1 C1853.2 543.9 1858.4 544.3 1860.5 546.7 C1862.6 549.0 1863.5 554.6 1863.1 558.2 C1862.6 561.8 1860.5 566.5 1857.9 568.5 C1855.4 570.4 1850.3 571.0 1847.7 569.7 C1845.1 568.5 1843.4 564.4 1842.6 560.8 C1841.7 557.1 1841.3 550.7 1842.6 547.9 Z" fill="#74a9d0" stroke="#5f97c6" stroke-width="1.2"/>
<path d="M1688.7 453.1 C1691.5 449.9 1708.2 449.7 1714.4 454.4 C1720.6 459.1 1724.0 472.5 1725.9 481.3 C1727.8 490.0 1727.8 502.0 1725.9 506.9 C1724.0 511.8 1718.0 512.9 1714.4 510.8 C1710.7 508.6 1706.9 500.3 1704.1 494.1 C1701.3 487.9 1700.3 480.4 1697.7 473.6 C1695.1 466.8 1685.9 456.3 1688.7 453.1 Z" fill="#fdfdfb" stroke="#e9eef2" stroke-width="1.2"/>
<path d="M1932.3 535.1 C1932.7 533.6 1939.8 532.6 1942.6 530.0 C1945.3 527.4 1947.3 520.2 1949.0 519.7 C1950.7 519.3 1952.6 524.9 1952.8 527.4 C1953.0 530.0 1952.4 533.2 1950.3 535.1 C1948.1 537.1 1943.0 539.0 1940.0 539.0 C1937.0 539.0 1931.9 536.6 1932.3 535.1 Z" fill="#fdfdfb" stroke="#e9eef2" stroke-width="1.2"/>
<path d="M1840.0 494.1 C1841.3 492.8 1847.5 490.3 1850.3 490.3 C1853.0 490.3 1856.7 492.8 1856.7 494.1 C1856.7 495.4 1852.6 497.3 1850.3 497.9 C1847.9 498.6 1844.3 498.6 1842.6 497.9 C1840.9 497.3 1838.7 495.4 1840.0 494.1 Z" fill="#fdfdfb" stroke="#e9eef2" stroke-width="1.2"/>
<path d="M1899.0 391.5 C1898.1 388.5 1902.8 385.6 1906.7 383.8 C1910.5 382.1 1916.9 382.6 1922.1 381.3 C1927.2 380.0 1930.6 377.9 1937.4 376.2 C1944.3 374.4 1957.5 374.0 1963.1 371.0 C1968.6 368.0 1967.4 361.2 1970.8 358.2 C1974.2 355.2 1978.9 356.1 1983.6 353.1 C1988.3 350.1 1994.7 344.5 1999.0 340.3 C2003.2 336.0 1992.1 329.6 2009.2 327.4 C2026.3 325.3 2086.6 325.3 2101.5 327.4 C2116.5 329.6 2102.4 336.8 2099.0 340.3 C2095.6 343.7 2087.4 345.8 2081.0 347.9 C2074.6 350.1 2067.4 351.8 2060.5 353.1 C2053.7 354.4 2046.0 354.8 2040.0 355.6 C2034.0 356.5 2027.6 356.5 2024.6 358.2 C2021.6 359.9 2020.3 363.3 2022.1 365.9 C2023.8 368.5 2029.3 371.0 2034.9 373.6 C2040.4 376.2 2049.4 378.3 2055.4 381.3 C2061.4 384.3 2066.5 387.7 2070.8 391.5 C2075.0 395.4 2078.9 400.5 2081.0 404.4 C2083.2 408.2 2084.4 412.1 2083.6 414.6 C2082.7 417.2 2079.7 418.5 2075.9 419.7 C2072.1 421.0 2065.6 422.3 2060.5 422.3 C2055.4 422.3 2050.3 420.6 2045.1 419.7 C2040.0 418.9 2034.9 418.9 2029.7 417.2 C2024.6 415.5 2019.5 411.2 2014.4 409.5 C2009.2 407.8 2004.1 406.5 1999.0 406.9 C1993.8 407.4 1988.7 410.3 1983.6 412.1 C1978.5 413.8 1971.6 414.6 1968.2 417.2 C1964.8 419.7 1964.4 424.0 1963.1 427.4 C1961.8 430.9 1963.1 435.3 1960.5 437.7 C1957.9 440.0 1952.0 442.0 1947.7 441.5 C1943.4 441.1 1937.9 437.9 1934.9 435.1 C1931.9 432.4 1930.2 428.7 1929.7 424.9 C1929.3 421.0 1932.7 415.5 1932.3 412.1 C1931.9 408.6 1930.6 406.1 1927.2 404.4 C1923.8 402.6 1916.5 403.9 1911.8 401.8 C1907.1 399.7 1899.8 394.5 1899.0 391.5 Z" fill="#5889bb" stroke="#4a72b0" stroke-width="1.2"/>
<path d="M2022.1 363.3 C2022.1 360.6 2029.3 358.4 2034.9 356.9 C2040.4 355.4 2048.5 355.4 2055.4 354.4 C2062.2 353.3 2069.9 350.9 2075.9 350.5 C2081.9 350.1 2085.3 350.5 2091.3 351.8 C2097.3 353.1 2107.5 355.4 2111.8 358.2 C2116.1 361.0 2117.8 364.6 2116.9 368.5 C2116.1 372.3 2110.9 377.4 2106.7 381.3 C2102.4 385.1 2095.6 387.7 2091.3 391.5 C2087.0 395.4 2084.4 404.4 2081.0 404.4 C2077.6 404.4 2075.0 395.4 2070.8 391.5 C2066.5 387.7 2061.4 384.3 2055.4 381.3 C2049.4 378.3 2040.4 376.6 2034.9 373.6 C2029.3 370.6 2022.1 366.1 2022.1 363.3 Z" fill="#74a9d0" stroke="#5f97c6" stroke-width="1.2"/>
<path d="M2037.4 453.1 C2037.9 449.7 2042.1 446.2 2045.1 442.8 C2048.1 439.4 2051.1 436.0 2055.4 432.6 C2059.7 429.1 2065.6 425.3 2070.8 422.3 C2075.9 419.3 2080.2 415.9 2086.2 414.6 C2092.1 413.3 2099.8 414.0 2106.7 414.6 C2113.5 415.3 2120.3 418.0 2127.2 418.5 C2134.0 418.9 2142.1 417.4 2147.7 417.2 C2153.2 417.0 2156.2 414.6 2160.5 417.2 C2164.8 419.7 2169.5 427.0 2173.3 432.6 C2177.2 438.1 2181.0 444.5 2183.6 450.5 C2186.2 456.5 2189.6 464.2 2188.7 468.5 C2187.9 472.7 2182.7 475.1 2178.5 476.2 C2174.2 477.2 2168.2 474.7 2163.1 474.9 C2157.9 475.1 2152.8 476.8 2147.7 477.4 C2142.6 478.1 2137.4 478.9 2132.3 478.7 C2127.2 478.5 2122.1 477.4 2116.9 476.2 C2111.8 474.9 2106.7 472.7 2101.5 471.0 C2096.4 469.3 2091.3 467.2 2086.2 465.9 C2081.0 464.6 2075.9 463.3 2070.8 463.3 C2065.6 463.3 2060.1 465.9 2055.4 465.9 C2050.7 465.9 2045.6 465.5 2042.6 463.3 C2039.6 461.2 2037.0 456.5 2037.4 453.1 Z" fill="#5889bb" stroke="#4a72b0" stroke-width="1.2"/>
<path d="M1806.7 414.6 C1807.1 411.6 1811.4 407.8 1814.4 404.4 C1817.4 400.9 1821.2 397.1 1824.6 394.1 C1828.0 391.1 1830.2 388.1 1834.9 386.4 C1839.6 384.7 1846.8 383.4 1852.8 383.8 C1858.8 384.3 1866.9 386.4 1870.8 389.0 C1874.6 391.5 1875.9 396.7 1875.9 399.2 C1875.9 401.8 1873.3 403.1 1870.8 404.4 C1868.2 405.6 1863.1 405.2 1860.5 406.9 C1857.9 408.6 1858.8 412.5 1855.4 414.6 C1852.0 416.8 1845.1 418.5 1840.0 419.7 C1834.9 421.0 1829.3 421.9 1824.6 422.3 C1819.9 422.7 1814.8 423.6 1811.8 422.3 C1808.8 421.0 1806.2 417.6 1806.7 414.6 Z" fill="#5889bb" stroke="#4a72b0" stroke-width="1.2"/>
<path d="M1745.1 414.6 C1745.6 412.9 1750.7 411.8 1755.4 412.1 C1760.1 412.3 1767.8 414.2 1773.3 415.9 C1778.9 417.6 1784.9 420.6 1788.7 422.3 C1792.6 424.0 1797.3 425.1 1796.4 426.2 C1795.6 427.2 1788.3 428.7 1783.6 428.7 C1778.9 428.7 1773.3 427.2 1768.2 426.2 C1763.1 425.1 1756.7 424.2 1752.8 422.3 C1749.0 420.4 1744.7 416.3 1745.1 414.6 Z" fill="#5889bb" stroke="#4a72b0" stroke-width="1.2"/>
<path d="M1905.4 439.0 C1906.2 437.9 1909.2 435.8 1910.5 436.4 C1911.8 437.1 1913.4 441.1 1913.1 442.8 C1912.8 444.5 1910.0 446.7 1908.7 446.7 C1907.4 446.7 1905.9 444.1 1905.4 442.8 C1904.8 441.5 1904.5 440.0 1905.4 439.0 Z" fill="#5889bb" stroke="#4a72b0" stroke-width="1.2"/>
<path d="M1937.4 378.7 C1939.6 377.0 1943.4 376.8 1947.7 376.2 C1952.0 375.5 1959.2 377.0 1963.1 374.9 C1966.9 372.7 1967.4 366.1 1970.8 363.3 C1974.2 360.6 1978.9 361.2 1983.6 358.2 C1988.3 355.2 1994.7 349.2 1999.0 345.4 C2003.2 341.5 2005.8 338.1 2009.2 335.1 C2012.6 332.1 2006.7 328.7 2019.5 327.4 C2032.3 326.2 2074.6 325.7 2086.2 327.4 C2097.7 329.1 2090.4 335.1 2088.7 337.7 C2087.0 340.3 2080.6 341.1 2075.9 342.8 C2071.2 344.5 2066.5 346.7 2060.5 347.9 C2054.5 349.2 2046.8 349.9 2040.0 350.5 C2033.2 351.2 2025.0 350.9 2019.5 351.8 C2013.9 352.6 2009.2 353.3 2006.7 355.6 C2004.1 358.0 2002.4 362.9 2004.1 365.9 C2005.8 368.9 2011.8 371.0 2016.9 373.6 C2022.1 376.2 2029.3 378.7 2034.9 381.3 C2040.4 383.8 2045.1 386.0 2050.3 389.0 C2055.4 392.0 2061.4 396.2 2065.6 399.2 C2069.9 402.2 2074.6 404.4 2075.9 406.9 C2077.2 409.5 2075.9 412.9 2073.3 414.6 C2070.8 416.3 2065.2 417.2 2060.5 417.2 C2055.8 417.2 2050.3 415.5 2045.1 414.6 C2040.0 413.8 2034.4 414.2 2029.7 412.1 C2025.0 409.9 2021.2 403.9 2016.9 401.8 C2012.6 399.7 2008.8 398.8 2004.1 399.2 C1999.4 399.7 1993.8 402.6 1988.7 404.4 C1983.6 406.1 1978.5 408.2 1973.3 409.5 C1968.2 410.8 1961.4 410.3 1957.9 412.1 C1954.5 413.8 1953.5 416.8 1952.8 419.7 C1952.2 422.7 1955.0 427.4 1954.1 430.0 C1953.2 432.6 1950.5 435.1 1947.7 435.1 C1944.9 435.1 1939.4 432.6 1937.4 430.0 C1935.5 427.4 1934.9 423.2 1936.2 419.7 C1937.4 416.3 1944.5 413.3 1945.1 409.5 C1945.8 405.6 1941.7 400.5 1940.0 396.7 C1938.3 392.8 1935.3 389.4 1934.9 386.4 C1934.4 383.4 1935.3 380.4 1937.4 378.7 Z" fill="#5869b5" stroke="#4354a3" stroke-width="1.2"/>
<path d="M2055.4 442.8 C2055.4 440.3 2059.7 437.7 2063.1 435.1 C2066.5 432.6 2072.1 430.0 2075.9 427.4 C2079.7 424.9 2081.9 421.2 2086.2 419.7 C2090.4 418.2 2095.6 418.0 2101.5 418.5 C2107.5 418.9 2115.2 421.5 2122.1 422.3 C2128.9 423.2 2137.0 424.0 2142.6 423.6 C2148.1 423.2 2151.5 418.2 2155.4 419.7 C2159.2 421.2 2162.2 427.9 2165.6 432.6 C2169.1 437.3 2173.8 442.8 2175.9 447.9 C2178.0 453.1 2179.7 459.9 2178.5 463.3 C2177.2 466.8 2172.5 468.0 2168.2 468.5 C2163.9 468.9 2157.9 465.5 2152.8 465.9 C2147.7 466.3 2142.6 470.6 2137.4 471.0 C2132.3 471.5 2127.2 469.7 2122.1 468.5 C2116.9 467.2 2111.8 465.0 2106.7 463.3 C2101.5 461.6 2096.4 459.9 2091.3 458.2 C2086.2 456.5 2080.6 454.4 2075.9 453.1 C2071.2 451.8 2066.5 452.2 2063.1 450.5 C2059.7 448.8 2055.4 445.4 2055.4 442.8 Z" fill="#5869b5" stroke="#4354a3" stroke-width="1.2"/>
<path d="M1832.3 391.5 C1833.2 389.4 1836.6 385.8 1840.0 385.1 C1843.4 384.5 1849.0 386.6 1852.8 387.7 C1856.7 388.8 1860.7 389.8 1863.1 391.5 C1865.4 393.2 1867.8 396.5 1866.9 397.9 C1866.1 399.4 1861.2 400.3 1857.9 400.5 C1854.7 400.7 1850.7 399.0 1847.7 399.2 C1844.7 399.4 1842.1 402.0 1840.0 401.8 C1837.9 401.6 1836.2 399.7 1834.9 397.9 C1833.6 396.2 1831.5 393.7 1832.3 391.5 Z" fill="#5869b5" stroke="#4354a3" stroke-width="1.2"/>
<path d="M1904.1 385.1 C1904.5 383.8 1909.9 382.1 1911.8 382.6 C1913.7 383.0 1916.1 386.4 1915.6 387.7 C1915.2 389.0 1911.2 390.7 1909.2 390.3 C1907.3 389.8 1903.7 386.4 1904.1 385.1 Z" fill="#5869b5" stroke="#4354a3" stroke-width="1.2"/>
<path d="M1959.2 381.3 C1959.4 378.1 1960.7 373.8 1963.1 371.0 C1965.4 368.2 1969.5 365.9 1973.3 364.6 C1977.2 363.3 1982.3 362.7 1986.2 363.3 C1990.0 364.0 1994.3 365.5 1996.4 368.5 C1998.5 371.5 1999.4 377.4 1999.0 381.3 C1998.5 385.1 1996.4 389.0 1993.8 391.5 C1991.3 394.1 1987.4 395.8 1983.6 396.7 C1979.7 397.5 1974.4 397.7 1970.8 396.7 C1967.1 395.6 1963.7 392.8 1961.8 390.3 C1959.9 387.7 1959.0 384.5 1959.2 381.3 Z" fill="#fdfdb0" stroke="#e9e99a" stroke-width="1.2"/>
<path d="M1972.1 376.2 C1972.3 373.4 1973.8 370.0 1975.9 368.5 C1978.0 367.0 1982.5 366.3 1984.9 367.2 C1987.2 368.0 1989.4 370.8 1990.0 373.6 C1990.6 376.4 1990.2 381.5 1988.7 383.8 C1987.2 386.2 1983.4 387.5 1981.0 387.7 C1978.7 387.9 1976.1 387.1 1974.6 385.1 C1973.1 383.2 1971.8 378.9 1972.1 376.2 Z" fill="#fdd34e" stroke="#eebf40" stroke-width="1.2"/>
<path d="M1975.9 374.9 C1976.1 372.7 1979.3 371.0 1981.0 371.0 C1982.7 371.0 1985.5 372.9 1986.2 374.9 C1986.8 376.8 1985.9 381.1 1984.9 382.6 C1983.8 384.1 1981.2 385.1 1979.7 383.8 C1978.2 382.6 1975.7 377.0 1975.9 374.9 Z" fill="#fba74f" stroke="#f09a40" stroke-width="1.2"/>
<path d="M2029.7 399.2 C2029.3 396.5 2031.5 394.1 2033.6 392.8 C2035.7 391.5 2039.8 390.9 2042.6 391.5 C2045.3 392.2 2048.8 394.3 2050.3 396.7 C2051.8 399.0 2052.4 403.3 2051.5 405.6 C2050.7 408.0 2047.7 410.1 2045.1 410.8 C2042.6 411.4 2038.7 411.4 2036.2 409.5 C2033.6 407.6 2030.2 402.0 2029.7 399.2 Z" fill="#fdfdb0" stroke="#e9e99a" stroke-width="1.2"/>
<path d="M2033.6 399.2 C2034.2 397.5 2036.8 395.6 2038.7 395.4 C2040.6 395.2 2043.8 396.5 2045.1 397.9 C2046.4 399.4 2047.3 402.9 2046.4 404.4 C2045.6 405.9 2041.9 406.7 2040.0 406.9 C2038.1 407.1 2035.9 406.9 2034.9 405.6 C2033.8 404.4 2032.9 400.9 2033.6 399.2 Z" fill="#fdd34e" stroke="#eebf40" stroke-width="1.2"/>
<path d="M2096.4 437.7 C2096.6 434.9 2098.5 430.4 2101.5 428.7 C2104.5 427.0 2110.1 427.0 2114.4 427.4 C2118.6 427.9 2122.9 430.2 2127.2 431.3 C2131.5 432.4 2136.2 432.4 2140.0 433.8 C2143.8 435.3 2147.9 437.9 2150.3 440.3 C2152.6 442.6 2154.5 446.0 2154.1 447.9 C2153.7 449.9 2151.3 451.4 2147.7 451.8 C2144.1 452.2 2137.0 450.3 2132.3 450.5 C2127.6 450.7 2123.8 452.9 2119.5 453.1 C2115.2 453.3 2109.9 453.1 2106.7 451.8 C2103.5 450.5 2102.0 447.7 2100.3 445.4 C2098.5 443.0 2096.2 440.5 2096.4 437.7 Z" fill="#fdfdb0" stroke="#e9e99a" stroke-width="1.2"/>
<path d="M2113.1 439.0 C2113.3 437.9 2116.8 436.2 2118.2 436.4 C2119.6 436.6 2121.8 439.2 2121.5 440.3 C2121.3 441.3 2118.3 443.0 2116.9 442.8 C2115.5 442.6 2112.9 440.0 2113.1 439.0 Z" fill="#fdd34e" stroke="#eebf40" stroke-width="1.2"/>
<path d="M2009.2 332.6 C2010.1 331.1 2012.6 328.3 2019.5 327.4 C2026.3 326.6 2046.8 326.6 2050.3 327.4 C2053.7 328.3 2044.3 331.3 2040.0 332.6 C2035.7 333.8 2028.9 334.5 2024.6 335.1 C2020.3 335.8 2016.9 336.8 2014.4 336.4 C2011.8 336.0 2008.4 334.1 2009.2 332.6 Z" fill="#fdfdb0" stroke="#e9e99a" stroke-width="1.2"/>
<path d="M1806.7 637.7 C1809.2 629.1 1814.8 618.0 1819.5 612.1 C1824.2 606.1 1830.6 604.4 1834.9 601.8 C1839.1 599.2 1839.1 599.2 1845.1 596.7 C1851.1 594.1 1862.2 589.8 1870.8 586.4 C1879.3 583.0 1887.9 579.1 1896.4 576.2 C1905.0 573.2 1914.8 569.3 1922.1 568.5 C1929.3 567.6 1934.0 572.3 1940.0 571.0 C1946.0 569.7 1952.8 564.2 1957.9 560.8 C1963.1 557.4 1966.9 553.5 1970.8 550.5 C1974.6 547.5 1977.2 543.7 1981.0 542.8 C1984.9 542.0 1989.6 543.2 1993.8 545.4 C1998.1 547.5 2002.4 553.1 2006.7 555.6 C2010.9 558.2 2015.6 557.4 2019.5 560.8 C2023.3 564.2 2024.6 571.9 2029.7 576.2 C2034.9 580.4 2043.4 583.4 2050.3 586.4 C2057.1 589.4 2064.8 593.7 2070.8 594.1 C2076.8 594.5 2081.0 590.3 2086.2 589.0 C2091.3 587.7 2096.4 587.7 2101.5 586.4 C2106.7 585.1 2112.6 581.3 2116.9 581.3 C2121.2 581.3 2127.2 583.8 2127.2 586.4 C2127.2 589.0 2122.1 594.1 2116.9 596.7 C2111.8 599.2 2102.4 599.2 2096.4 601.8 C2090.4 604.4 2084.4 607.8 2081.0 612.1 C2077.6 616.3 2075.0 623.2 2075.9 627.4 C2076.8 631.7 2086.2 633.4 2086.2 637.7 C2086.2 642.0 2080.2 649.2 2075.9 653.1 C2071.6 656.9 2066.5 658.2 2060.5 660.8 C2054.5 663.3 2046.7 665.9 2040.0 668.5 C2033.3 671.0 2029.7 675.3 2020.5 676.2 C2011.3 677.0 1997.4 674.0 1984.6 673.6 C1971.8 673.2 1953.0 672.3 1943.6 673.6 C1934.2 674.9 1934.2 680.9 1928.2 681.3 C1922.2 681.7 1914.5 676.2 1907.7 676.2 C1900.9 676.2 1892.3 678.7 1887.2 681.3 C1882.1 683.8 1878.2 687.3 1876.9 691.5 C1875.6 695.8 1877.8 703.5 1879.5 706.9 C1881.2 710.3 1885.0 709.9 1887.2 712.1 C1889.3 714.2 1893.2 716.8 1892.3 719.7 C1891.5 722.7 1884.6 725.7 1882.1 730.0 C1879.5 734.3 1878.6 739.8 1876.9 745.4 C1875.2 750.9 1874.4 758.6 1871.8 763.3 C1869.2 768.0 1865.8 770.5 1861.5 773.6 C1857.3 776.7 1853.2 780.6 1846.2 782.1 C1839.1 783.5 1826.5 789.0 1819.5 782.1 C1812.5 775.1 1808.4 753.6 1804.1 740.3 C1799.8 726.9 1793.8 714.6 1793.8 701.8 C1793.8 689.0 1802.0 674.0 1804.1 663.3 C1806.2 652.6 1804.1 646.2 1806.7 637.7 Z" fill="#9cc6df" stroke="#86b6d6" stroke-width="1.2"/>
<path d="M1594.9 660.8 C1595.3 655.2 1594.4 652.2 1597.4 647.9 C1600.4 643.7 1608.1 639.4 1612.8 635.1 C1617.5 630.9 1620.5 626.6 1625.6 622.3 C1630.8 618.0 1638.0 615.0 1643.6 609.5 C1649.1 603.9 1654.3 595.0 1659.0 589.0 C1663.7 583.0 1667.1 579.6 1671.8 573.6 C1676.5 567.6 1682.1 558.6 1687.2 553.1 C1692.3 547.5 1696.6 542.8 1702.6 540.3 C1708.5 537.7 1716.7 539.8 1723.1 537.7 C1729.5 535.6 1735.0 530.9 1741.0 527.4 C1747.0 524.0 1753.4 519.7 1759.0 517.2 C1764.5 514.6 1768.4 512.5 1774.4 512.1 C1780.3 511.6 1789.7 512.1 1794.9 514.6 C1800.0 517.2 1804.3 522.7 1805.1 527.4 C1806.0 532.1 1803.4 539.0 1800.0 542.8 C1796.6 546.7 1789.7 549.7 1784.6 550.5 C1779.5 551.4 1772.6 546.7 1769.2 547.9 C1765.8 549.2 1762.4 555.6 1764.1 558.2 C1765.8 560.8 1775.2 560.8 1779.5 563.3 C1783.8 565.9 1786.8 569.3 1789.7 573.6 C1792.7 577.9 1795.7 583.8 1797.4 589.0 C1799.1 594.1 1796.2 600.1 1800.0 604.4 C1803.8 608.6 1815.4 609.9 1820.5 614.6 C1825.6 619.3 1826.5 627.9 1830.8 632.6 C1835.0 637.3 1843.2 639.0 1846.2 642.8 C1849.1 646.7 1850.4 652.6 1848.7 655.6 C1847.0 658.6 1840.6 661.6 1835.9 660.8 C1831.2 659.9 1825.6 653.5 1820.5 650.5 C1815.4 647.5 1810.3 645.4 1805.1 642.8 C1800.0 640.3 1794.0 638.1 1789.7 635.1 C1785.5 632.1 1782.9 629.1 1779.5 624.9 C1776.1 620.6 1772.6 610.3 1769.2 609.5 C1765.8 608.6 1759.8 615.5 1759.0 619.7 C1758.1 624.0 1762.4 630.0 1764.1 635.1 C1765.8 640.3 1765.8 646.2 1769.2 650.5 C1772.6 654.8 1780.8 656.9 1784.6 660.8 C1788.5 664.6 1791.5 669.3 1792.3 673.6 C1793.2 677.9 1791.9 682.1 1789.7 686.4 C1787.6 690.7 1783.8 696.7 1779.5 699.2 C1775.2 701.8 1768.4 703.9 1764.1 701.8 C1759.8 699.7 1758.1 689.8 1753.8 686.4 C1749.6 683.0 1743.6 683.8 1738.5 681.3 C1733.3 678.7 1728.2 671.9 1723.1 671.0 C1717.9 670.2 1712.8 676.2 1707.7 676.2 C1702.6 676.2 1698.3 671.5 1692.3 671.0 C1686.3 670.6 1678.6 672.7 1671.8 673.6 C1665.0 674.4 1658.1 674.4 1651.3 676.2 C1644.4 677.9 1635.9 680.4 1630.8 683.8 C1625.6 687.3 1624.8 692.8 1620.5 696.7 C1616.2 700.5 1609.0 706.9 1605.1 706.9 C1601.3 706.9 1599.1 700.9 1597.4 696.7 C1595.7 692.4 1595.3 687.3 1594.9 681.3 C1594.4 675.3 1594.4 666.3 1594.9 660.8 Z" fill="#74a9d0" stroke="#5f97c6" stroke-width="1.2"/>
<path d="M1757.9 619.7 C1758.4 613.8 1763.9 605.6 1768.2 601.8 C1772.5 597.9 1779.3 595.8 1783.6 596.7 C1787.9 597.5 1790.4 603.1 1793.8 606.9 C1797.3 610.8 1803.2 614.6 1804.1 619.7 C1805.0 624.9 1802.4 633.4 1799.0 637.7 C1795.6 642.0 1789.1 645.4 1783.6 645.4 C1778.0 645.4 1769.9 642.0 1765.6 637.7 C1761.4 633.4 1757.5 625.7 1757.9 619.7 Z" fill="#9cc6df" stroke="#86b6d6" stroke-width="1.2"/>
<path d="M1899.0 576.2 C1900.0 572.7 1903.7 566.8 1906.7 565.9 C1909.7 565.0 1913.9 567.6 1916.9 571.0 C1919.9 574.4 1922.5 581.3 1924.6 586.4 C1926.8 591.5 1929.3 597.5 1929.7 601.8 C1930.2 606.1 1929.3 610.8 1927.2 612.1 C1925.0 613.3 1920.3 612.1 1916.9 609.5 C1913.5 606.9 1909.4 600.5 1906.7 596.7 C1903.9 592.8 1901.5 589.8 1900.3 586.4 C1899.0 583.0 1897.9 579.6 1899.0 576.2 Z" fill="#74a9d0" stroke="#5f97c6" stroke-width="1.2"/>
<path d="M2006.7 509.5 C2007.5 504.8 2010.5 500.1 2014.4 496.7 C2018.2 493.2 2024.6 489.4 2029.7 489.0 C2034.9 488.5 2040.0 491.1 2045.1 494.1 C2050.3 497.1 2055.4 504.4 2060.5 506.9 C2065.6 509.5 2070.8 507.8 2075.9 509.5 C2081.0 511.2 2087.0 513.8 2091.3 517.2 C2095.6 520.6 2099.4 524.9 2101.5 530.0 C2103.7 535.1 2105.0 542.8 2104.1 547.9 C2103.2 553.1 2099.4 556.1 2096.4 560.8 C2093.4 565.5 2088.7 571.5 2086.2 576.2 C2083.6 580.9 2083.6 586.8 2081.0 589.0 C2078.5 591.1 2074.2 590.3 2070.8 589.0 C2067.4 587.7 2064.8 583.4 2060.5 581.3 C2056.2 579.1 2049.4 579.6 2045.1 576.2 C2040.9 572.7 2038.3 565.9 2034.9 560.8 C2031.5 555.6 2026.3 549.7 2024.6 545.4 C2022.9 541.1 2027.2 538.5 2024.6 535.1 C2022.1 531.7 2012.2 529.1 2009.2 524.9 C2006.2 520.6 2005.8 514.2 2006.7 509.5 Z" fill="#74a9d0" stroke="#5f97c6" stroke-width="1.2"/>
<path d="M1664.4 619.7 C1663.9 616.3 1669.7 612.9 1673.3 609.5 C1677.0 606.1 1684.4 603.5 1686.2 599.2 C1687.9 595.0 1682.7 588.1 1683.6 583.8 C1684.4 579.6 1687.4 576.6 1691.3 573.6 C1695.1 570.6 1701.5 568.5 1706.7 565.9 C1711.8 563.3 1716.1 560.3 1722.1 558.2 C1728.0 556.1 1738.3 552.6 1742.6 553.1 C1746.8 553.5 1748.1 557.4 1747.7 560.8 C1747.3 564.2 1743.0 569.7 1740.0 573.6 C1737.0 577.4 1732.3 580.0 1729.7 583.8 C1727.2 587.7 1723.3 592.8 1724.6 596.7 C1725.9 600.5 1733.6 603.1 1737.4 606.9 C1741.3 610.8 1746.2 615.5 1747.7 619.7 C1749.2 624.0 1748.1 629.1 1746.4 632.6 C1744.7 636.0 1741.5 638.8 1737.4 640.3 C1733.4 641.8 1727.2 642.0 1722.1 641.5 C1716.9 641.1 1711.8 638.8 1706.7 637.7 C1701.5 636.6 1696.4 636.4 1691.3 635.1 C1686.2 633.8 1680.4 632.6 1675.9 630.0 C1671.4 627.4 1664.8 623.2 1664.4 619.7 Z" fill="#5889bb" stroke="#4a72b0" stroke-width="1.2"/>
<path d="M1700.3 594.1 C1701.1 591.5 1705.6 590.7 1707.9 591.5 C1710.3 592.4 1712.0 596.2 1714.4 599.2 C1716.7 602.2 1719.5 606.5 1722.1 609.5 C1724.6 612.5 1727.0 613.8 1729.7 617.2 C1732.5 620.6 1737.4 626.6 1738.7 630.0 C1740.0 633.4 1739.4 636.0 1737.4 637.7 C1735.5 639.4 1731.0 641.1 1727.2 640.3 C1723.3 639.4 1718.0 635.6 1714.4 632.6 C1710.7 629.6 1707.3 626.6 1705.4 622.3 C1703.5 618.0 1703.7 611.6 1702.8 606.9 C1702.0 602.2 1699.4 596.7 1700.3 594.1 Z" fill="#5869b5" stroke="#4354a3" stroke-width="1.2"/>
<path d="M1682.3 614.6 C1682.5 612.3 1685.3 610.3 1687.4 610.8 C1689.6 611.2 1694.3 614.4 1695.1 617.2 C1696.0 620.0 1694.1 626.2 1692.6 627.4 C1691.1 628.7 1687.9 627.0 1686.2 624.9 C1684.4 622.7 1682.1 617.0 1682.3 614.6 Z" fill="#5869b5" stroke="#4354a3" stroke-width="1.2"/>
<path d="M1394.9 1214.1 C1398.3 1182.9 1409.4 1204.7 1415.4 1201.3 C1421.4 1197.9 1424.8 1197.9 1430.8 1193.6 C1436.8 1189.3 1442.3 1178.6 1451.3 1175.6 C1460.3 1172.6 1477.8 1172.6 1484.6 1175.6 C1491.5 1178.6 1488.5 1189.3 1492.3 1193.6 C1496.2 1197.9 1501.7 1200.0 1507.7 1201.3 C1513.7 1202.6 1521.4 1200.0 1528.2 1201.3 C1535.0 1202.6 1541.9 1207.3 1548.7 1209.0 C1555.6 1210.7 1562.4 1210.3 1569.2 1211.5 C1576.1 1212.8 1583.3 1214.5 1589.7 1216.7 C1596.2 1218.8 1605.1 1220.1 1607.7 1224.4 C1610.3 1228.6 1606.0 1236.8 1605.1 1242.3 C1604.3 1247.9 1602.1 1253.0 1602.6 1257.7 C1603.0 1262.4 1609.0 1267.1 1607.7 1270.5 C1606.4 1273.9 1599.6 1275.2 1594.9 1278.2 C1590.2 1281.2 1585.5 1285.5 1579.5 1288.5 C1573.5 1291.5 1565.8 1294.0 1559.0 1296.2 C1552.1 1298.3 1544.9 1298.7 1538.5 1301.3 C1532.1 1303.8 1525.2 1307.7 1520.5 1311.5 C1515.8 1315.4 1511.5 1318.8 1510.3 1324.4 C1509.0 1329.9 1511.1 1338.5 1512.8 1344.9 C1514.5 1351.3 1518.4 1357.3 1520.5 1362.8 C1522.6 1368.4 1526.9 1373.9 1525.6 1378.2 C1524.4 1382.5 1517.5 1386.3 1512.8 1388.5 C1508.1 1390.6 1501.7 1388.9 1497.4 1391.0 C1493.2 1393.2 1491.5 1398.7 1487.2 1401.3 C1482.9 1403.8 1477.8 1405.1 1471.8 1406.4 C1465.8 1407.7 1458.1 1409.0 1451.3 1409.0 C1444.4 1409.0 1436.8 1408.5 1430.8 1406.4 C1424.8 1404.3 1421.4 1399.1 1415.4 1396.2 C1409.4 1393.2 1398.3 1418.8 1394.9 1388.5 C1391.5 1358.1 1391.5 1245.3 1394.9 1214.1 Z" fill="#9cc6df" stroke="#86b6d6" stroke-width="1.2"/>
<path d="M1771.8 1147.4 C1773.9 1147.9 1777.8 1153.8 1779.5 1157.7 C1781.2 1161.5 1781.8 1165.8 1782.1 1170.5 C1782.3 1175.2 1781.6 1180.8 1780.8 1185.9 C1779.9 1191.0 1778.4 1196.6 1776.9 1201.3 C1775.4 1206.0 1774.4 1210.7 1771.8 1214.1 C1769.2 1217.5 1762.0 1218.8 1761.5 1221.8 C1761.1 1224.8 1767.1 1229.5 1769.2 1232.1 C1771.4 1234.6 1774.4 1233.8 1774.4 1237.2 C1774.4 1240.6 1770.9 1247.4 1769.2 1252.6 C1767.5 1257.7 1765.8 1263.2 1764.1 1267.9 C1762.4 1272.6 1758.5 1276.9 1759.0 1280.8 C1759.4 1284.6 1765.8 1287.2 1766.7 1291.0 C1767.5 1294.9 1765.4 1299.6 1764.1 1303.8 C1762.8 1308.1 1761.1 1312.4 1759.0 1316.7 C1756.8 1320.9 1754.3 1326.9 1751.3 1329.5 C1748.3 1332.1 1744.4 1332.1 1741.0 1332.1 C1737.6 1332.1 1734.2 1328.2 1730.8 1329.5 C1727.4 1330.8 1723.5 1336.3 1720.5 1339.7 C1717.5 1343.2 1713.9 1347.0 1712.8 1350.0 C1711.8 1353.0 1715.4 1355.6 1714.1 1357.7 C1712.8 1359.8 1707.1 1359.8 1705.1 1362.8 C1703.2 1365.8 1704.7 1371.4 1702.6 1375.6 C1700.4 1379.9 1695.7 1385.5 1692.3 1388.5 C1688.9 1391.5 1685.9 1392.3 1682.1 1393.6 C1678.2 1394.9 1673.1 1394.0 1669.2 1396.2 C1665.4 1398.3 1663.2 1404.3 1659.0 1406.4 C1654.7 1408.5 1648.7 1408.3 1643.6 1409.0 C1638.5 1409.6 1632.5 1411.1 1628.2 1410.3 C1623.9 1409.4 1620.5 1406.6 1617.9 1403.8 C1615.4 1401.1 1612.4 1397.4 1612.8 1393.6 C1613.2 1389.7 1618.8 1385.5 1620.5 1380.8 C1622.2 1376.1 1622.2 1370.5 1623.1 1365.4 C1623.9 1360.3 1624.8 1356.0 1625.6 1350.0 C1626.5 1344.0 1626.5 1335.0 1628.2 1329.5 C1629.9 1323.9 1633.3 1320.9 1635.9 1316.7 C1638.5 1312.4 1640.2 1306.4 1643.6 1303.8 C1647.0 1301.3 1652.6 1302.1 1656.4 1301.3 C1660.3 1300.4 1663.2 1300.9 1666.7 1298.7 C1670.1 1296.6 1673.9 1291.9 1676.9 1288.5 C1679.9 1285.0 1681.6 1281.2 1684.6 1278.2 C1687.6 1275.2 1691.0 1272.6 1694.9 1270.5 C1698.7 1268.4 1704.3 1268.4 1707.7 1265.4 C1711.1 1262.4 1712.4 1256.0 1715.4 1252.6 C1718.4 1249.1 1721.8 1247.9 1725.6 1244.9 C1729.5 1241.9 1735.9 1238.0 1738.5 1234.6 C1741.0 1231.2 1738.9 1227.8 1741.0 1224.4 C1743.2 1220.9 1749.1 1218.4 1751.3 1214.1 C1753.4 1209.8 1752.1 1203.0 1753.8 1198.7 C1755.6 1194.4 1759.0 1191.5 1761.5 1188.5 C1764.1 1185.5 1767.5 1184.6 1769.2 1180.8 C1770.9 1176.9 1772.2 1169.7 1771.8 1165.4 C1771.4 1161.1 1766.7 1158.1 1766.7 1155.1 C1766.7 1152.1 1769.7 1147.0 1771.8 1147.4 Z" fill="#fdfdb0" stroke="#e9e99a" stroke-width="1.2"/>
<path d="M1647.4 1275.6 C1648.7 1272.6 1650.6 1267.7 1653.8 1265.4 C1657.1 1263.0 1663.0 1261.5 1666.7 1261.5 C1670.3 1261.5 1673.9 1263.0 1675.6 1265.4 C1677.4 1267.7 1678.0 1272.6 1676.9 1275.6 C1675.9 1278.6 1672.2 1281.6 1669.2 1283.3 C1666.2 1285.0 1661.8 1284.4 1659.0 1285.9 C1656.2 1287.4 1654.7 1292.7 1652.6 1292.3 C1650.4 1291.9 1647.0 1286.1 1646.2 1283.3 C1645.3 1280.6 1646.2 1278.6 1647.4 1275.6 Z" fill="#fdfdb0" stroke="#e9e99a" stroke-width="1.2"/>
<path d="M1638.5 1355.1 C1639.3 1350.9 1641.0 1347.0 1643.6 1342.3 C1646.2 1337.6 1650.9 1331.2 1653.8 1326.9 C1656.8 1322.6 1657.7 1318.8 1661.5 1316.7 C1665.4 1314.5 1672.2 1314.5 1676.9 1314.1 C1681.6 1313.7 1687.2 1311.5 1689.7 1314.1 C1692.3 1316.7 1691.9 1322.6 1692.3 1329.5 C1692.7 1336.3 1694.0 1350.4 1692.3 1355.1 C1690.6 1359.8 1685.5 1355.6 1682.1 1357.7 C1678.6 1359.8 1675.6 1365.2 1671.8 1367.9 C1667.9 1370.7 1663.7 1373.1 1659.0 1374.4 C1654.3 1375.6 1647.0 1376.7 1643.6 1375.6 C1640.2 1374.6 1639.3 1371.4 1638.5 1367.9 C1637.6 1364.5 1637.6 1359.4 1638.5 1355.1 Z" fill="#fdd34e" stroke="#eebf40" stroke-width="1.2"/>
<path d="M1707.7 1314.1 C1707.7 1311.1 1709.8 1306.4 1711.5 1301.3 C1713.2 1296.2 1716.0 1288.5 1717.9 1283.3 C1719.9 1278.2 1720.9 1274.8 1723.1 1270.5 C1725.2 1266.2 1728.6 1261.5 1730.8 1257.7 C1732.9 1253.8 1733.3 1250.2 1735.9 1247.4 C1738.5 1244.7 1742.3 1242.5 1746.2 1241.0 C1750.0 1239.5 1756.0 1238.2 1759.0 1238.5 C1762.0 1238.7 1763.7 1239.5 1764.1 1242.3 C1764.5 1245.1 1762.8 1251.7 1761.5 1255.1 C1760.3 1258.5 1758.5 1261.5 1756.4 1262.8 C1754.3 1264.1 1750.4 1264.1 1748.7 1262.8 C1747.0 1261.5 1747.9 1255.1 1746.2 1255.1 C1744.4 1255.1 1741.0 1259.4 1738.5 1262.8 C1735.9 1266.2 1733.3 1270.5 1730.8 1275.6 C1728.2 1280.8 1725.2 1288.5 1723.1 1293.6 C1720.9 1298.7 1719.9 1302.1 1717.9 1306.4 C1716.0 1310.7 1713.2 1317.9 1711.5 1319.2 C1709.8 1320.5 1707.7 1317.1 1707.7 1314.1 Z" fill="#fdd34e" stroke="#eebf40" stroke-width="1.2"/>
<path d="M1994.9 353.1 C1995.7 348.4 2004.7 339.0 2010.3 332.6 C2015.8 326.2 2022.2 319.5 2028.2 314.6 C2034.2 309.7 2040.2 304.8 2046.2 303.1 C2052.1 301.4 2058.5 302.9 2064.1 304.4 C2069.7 305.9 2074.4 308.2 2079.5 312.1 C2084.6 315.9 2091.5 322.7 2094.9 327.4 C2098.3 332.1 2101.7 336.8 2100.0 340.3 C2098.3 343.7 2090.6 345.8 2084.6 347.9 C2078.6 350.1 2070.9 351.8 2064.1 353.1 C2057.3 354.4 2050.4 354.8 2043.6 355.6 C2036.8 356.5 2029.5 357.4 2023.1 358.2 C2016.7 359.1 2009.8 361.6 2005.1 360.8 C2000.4 359.9 1994.0 357.8 1994.9 353.1 Z" fill="#5889bb" stroke="#4a72b0" stroke-width="1.2"/>
<path d="M2002.6 347.9 C2003.8 344.1 2010.7 337.7 2015.4 332.6 C2020.1 327.4 2025.6 321.5 2030.8 317.2 C2035.9 312.9 2041.5 308.6 2046.2 306.9 C2050.9 305.2 2054.7 305.6 2059.0 306.9 C2063.2 308.2 2067.5 311.6 2071.8 314.6 C2076.1 317.6 2081.6 321.5 2084.6 324.9 C2087.6 328.3 2090.6 332.1 2089.7 335.1 C2088.9 338.1 2083.8 340.7 2079.5 342.8 C2075.2 345.0 2070.1 346.7 2064.1 347.9 C2058.1 349.2 2050.4 349.7 2043.6 350.5 C2036.8 351.4 2029.1 352.2 2023.1 353.1 C2017.1 353.9 2011.1 356.5 2007.7 355.6 C2004.3 354.8 2001.3 351.8 2002.6 347.9 Z" fill="#5869b5" stroke="#4354a3" stroke-width="1.2"/>
<path d="M2010.3 332.6 C2010.3 331.1 2014.5 328.7 2017.9 327.4 C2021.4 326.2 2027.4 324.7 2030.8 324.9 C2034.2 325.1 2038.5 327.2 2038.5 328.7 C2038.5 330.2 2034.2 332.6 2030.8 333.8 C2027.4 335.1 2021.4 336.6 2017.9 336.4 C2014.5 336.2 2010.3 334.1 2010.3 332.6 Z" fill="#fdfdb0" stroke="#e9e99a" stroke-width="1.2"/>
<path d="M2042.3 328.7 C2042.9 327.6 2046.4 325.7 2048.7 324.9 C2051.1 324.0 2055.8 322.9 2056.4 323.6 C2057.1 324.2 2054.5 327.4 2052.6 328.7 C2050.6 330.0 2046.6 331.3 2044.9 331.3 C2043.2 331.3 2041.7 329.8 2042.3 328.7 Z" fill="#fdfdb0" stroke="#e9e99a" stroke-width="1.2"/>
<path d="M2060.0 504.6 C2065.6 495.6 2077.1 497.8 2085.6 494.4 C2094.2 490.9 2102.7 486.7 2111.3 484.1 C2119.8 481.5 2128.4 479.4 2136.9 479.0 C2145.5 478.5 2154.9 481.5 2162.6 481.5 C2170.3 481.5 2177.1 481.1 2183.1 479.0 C2189.1 476.8 2193.3 469.6 2198.5 468.7 C2203.6 467.9 2208.7 471.3 2213.8 473.8 C2219.0 476.4 2224.1 482.4 2229.2 484.1 C2234.4 485.8 2238.6 484.5 2244.6 484.1 C2250.6 483.7 2257.4 479.8 2265.1 481.5 C2272.8 483.2 2282.2 491.8 2290.8 494.4 C2299.3 496.9 2310.9 499.1 2316.4 496.9 C2322.0 494.8 2319.8 485.0 2324.1 481.5 C2328.4 478.1 2336.9 475.6 2342.1 476.4 C2347.2 477.3 2349.7 482.4 2354.9 486.7 C2360.0 490.9 2366.8 498.2 2372.8 502.1 C2378.8 505.9 2388.6 506.8 2390.8 509.7 C2392.9 512.7 2385.2 515.3 2385.6 520.0 C2386.1 524.7 2390.3 532.4 2393.3 537.9 C2396.3 543.5 2399.3 551.2 2403.6 553.3 C2407.9 555.5 2413.0 551.2 2419.0 550.8 C2425.0 550.3 2434.4 548.6 2439.5 550.8 C2444.6 552.9 2444.6 561.5 2449.7 563.6 C2454.9 565.7 2462.6 562.3 2470.3 563.6 C2477.9 564.9 2489.1 569.6 2495.9 571.3 C2502.7 573.0 2506.2 575.1 2511.3 573.8 C2516.4 572.6 2520.7 567.9 2526.7 563.6 C2532.6 559.3 2539.5 552.5 2547.2 548.2 C2554.9 543.9 2564.3 540.5 2572.8 537.9 C2581.4 535.4 2589.9 535.4 2598.5 532.8 C2607.0 530.3 2615.6 523.0 2624.1 522.6 C2632.6 522.1 2641.2 528.5 2649.7 530.3 C2658.3 532.0 2666.8 531.1 2675.4 532.8 C2683.9 534.5 2692.5 537.9 2701.0 540.5 C2709.6 543.1 2722.4 540.9 2726.7 548.2 C2730.9 555.5 2735.2 574.7 2726.7 584.1 C2718.1 593.5 2690.3 598.2 2675.4 604.6 C2660.4 611.0 2645.5 618.7 2636.9 622.6 C2628.4 626.4 2630.5 625.1 2624.1 627.7 C2617.7 630.3 2607.0 634.1 2598.5 637.9 C2589.9 641.8 2577.9 646.1 2572.8 650.8 C2567.7 655.5 2572.0 662.3 2567.7 666.2 C2563.4 670.0 2554.9 672.6 2547.2 673.8 C2539.5 675.1 2530.1 674.1 2521.5 673.8 C2513.0 673.6 2503.6 673.4 2495.9 672.6 C2488.2 671.7 2482.2 669.8 2475.4 668.7 C2468.5 667.6 2460.9 668.3 2454.9 666.2 C2448.9 664.0 2443.8 655.9 2439.5 655.9 C2435.2 655.9 2433.9 662.7 2429.2 666.2 C2424.5 669.6 2418.1 675.3 2411.3 676.4 C2404.4 677.5 2395.0 673.4 2388.2 672.6 C2381.4 671.7 2371.1 674.1 2370.3 671.3 C2369.4 668.5 2379.2 660.2 2383.1 655.9 C2386.9 651.6 2392.5 649.9 2393.3 645.6 C2394.2 641.4 2391.2 635.4 2388.2 630.3 C2385.2 625.1 2377.1 620.9 2375.4 614.9 C2373.7 608.9 2377.9 601.2 2377.9 594.4 C2377.9 587.5 2377.9 579.8 2375.4 573.8 C2372.8 567.9 2368.1 561.5 2362.6 558.5 C2357.0 555.5 2348.0 555.0 2342.1 555.9 C2336.1 556.8 2330.9 559.7 2326.7 563.6 C2322.4 567.4 2319.0 574.7 2316.4 579.0 C2313.8 583.2 2314.7 589.2 2311.3 589.2 C2307.9 589.2 2300.2 583.2 2295.9 579.0 C2291.6 574.7 2288.6 570.0 2285.6 563.6 C2282.6 557.2 2281.4 547.4 2277.9 540.5 C2274.5 533.7 2269.0 527.7 2265.1 522.6 C2261.3 517.4 2260.0 512.3 2254.9 509.7 C2249.7 507.2 2239.5 505.9 2234.4 507.2 C2229.2 508.5 2226.7 513.2 2224.1 517.4 C2221.5 521.7 2220.7 526.8 2219.0 532.8 C2217.3 538.8 2216.4 546.5 2213.8 553.3 C2211.3 560.2 2208.7 568.7 2203.6 573.8 C2198.5 579.0 2189.9 582.0 2183.1 584.1 C2176.2 586.2 2170.3 585.8 2162.6 586.7 C2154.9 587.5 2145.5 587.5 2136.9 589.2 C2128.4 590.9 2118.5 595.2 2111.3 596.9 C2104.0 598.6 2098.5 599.9 2093.3 599.5 C2088.2 599.1 2086.1 596.9 2080.5 594.4 C2075.0 591.8 2064.7 591.8 2060.0 584.1 C2055.3 576.4 2052.3 561.5 2052.3 548.2 C2052.3 535.0 2054.4 513.6 2060.0 504.6 Z" fill="#9cc6df" stroke="#86b6d6" stroke-width="1.2"/>
<path d="M2121.5 527.7 C2122.8 524.3 2127.7 523.0 2131.8 522.6 C2135.9 522.1 2143.8 523.0 2145.9 525.1 C2148.0 527.3 2146.5 532.2 2144.6 535.4 C2142.7 538.6 2137.8 543.1 2134.4 544.4 C2130.9 545.6 2126.2 545.9 2124.1 543.1 C2122.0 540.3 2120.3 531.1 2121.5 527.7 Z" fill="#d2e3ee" stroke="#bcd5e4" stroke-width="1.2"/>
<path d="M2169.0 545.6 C2169.9 543.5 2173.1 540.5 2175.4 540.5 C2177.6 540.5 2181.5 543.1 2182.6 545.6 C2183.6 548.2 2183.2 553.5 2181.8 555.9 C2180.4 558.2 2176.1 560.2 2174.1 559.7 C2172.1 559.3 2170.6 555.7 2169.7 553.3 C2168.9 551.0 2168.0 547.8 2169.0 545.6 Z" fill="#d2e3ee" stroke="#bcd5e4" stroke-width="1.2"/>
<path d="M2298.5 527.7 C2299.7 527.1 2306.6 529.8 2311.3 530.3 C2316.0 530.7 2323.2 529.4 2326.7 530.3 C2330.2 531.1 2331.9 533.5 2332.3 535.4 C2332.7 537.3 2331.9 541.2 2329.2 541.8 C2326.6 542.4 2320.7 540.5 2316.4 539.2 C2312.1 537.9 2306.6 536.0 2303.6 534.1 C2300.6 532.2 2297.2 528.3 2298.5 527.7 Z" fill="#fdfdfb" stroke="#e9eef2" stroke-width="1.2"/>
<path d="M2308.7 508.5 C2310.2 506.5 2315.8 505.5 2319.0 505.9 C2322.2 506.3 2326.7 508.7 2327.9 511.0 C2329.2 513.4 2328.4 518.1 2326.7 520.0 C2325.0 521.9 2320.5 523.0 2317.7 522.6 C2314.9 522.1 2311.5 519.8 2310.0 517.4 C2308.5 515.1 2307.2 510.4 2308.7 508.5 Z" fill="#74a9d0" stroke="#5f97c6" stroke-width="1.2"/>
<path d="M2347.2 489.2 C2347.6 486.9 2351.9 485.8 2354.9 487.9 C2357.9 490.1 2364.1 498.6 2365.1 502.1 C2366.2 505.5 2363.4 508.5 2361.3 508.5 C2359.1 508.5 2354.7 505.3 2352.3 502.1 C2350.0 498.8 2346.8 491.6 2347.2 489.2 Z" fill="#74a9d0" stroke="#5f97c6" stroke-width="1.2"/>
<path d="M2342.1 525.1 C2343.8 521.5 2349.3 519.8 2354.9 518.7 C2360.4 517.6 2369.4 516.8 2375.4 518.7 C2381.4 520.6 2388.0 525.8 2390.8 530.3 C2393.5 534.7 2393.3 540.9 2392.1 545.6 C2390.8 550.3 2387.1 555.9 2383.1 558.5 C2379.0 561.0 2372.8 561.9 2367.7 561.0 C2362.6 560.2 2356.2 556.8 2352.3 553.3 C2348.5 549.9 2346.3 545.2 2344.6 540.5 C2342.9 535.8 2340.3 528.8 2342.1 525.1 Z" fill="#74a9d0" stroke="#5f97c6" stroke-width="1.2"/>
<path d="M2353.6 532.8 C2354.9 529.6 2358.5 527.3 2362.6 526.4 C2366.6 525.6 2373.7 526.0 2377.9 527.7 C2382.2 529.4 2386.7 533.2 2388.2 536.7 C2389.7 540.1 2388.8 545.2 2386.9 548.2 C2385.0 551.2 2380.5 553.8 2376.7 554.6 C2372.8 555.5 2367.5 554.8 2363.8 553.3 C2360.2 551.8 2356.6 549.1 2354.9 545.6 C2353.2 542.2 2352.3 536.0 2353.6 532.8 Z" fill="#5889bb" stroke="#4a72b0" stroke-width="1.2"/>
<path d="M2357.4 536.7 C2358.6 534.7 2361.9 532.9 2365.1 532.3 C2368.3 531.8 2373.3 532.0 2376.7 533.3 C2380.0 534.7 2384.0 538.0 2385.1 540.5 C2386.3 543.0 2385.4 546.4 2383.6 548.2 C2381.8 550.0 2377.4 550.9 2374.1 551.3 C2370.8 551.6 2366.5 551.4 2363.8 550.3 C2361.2 549.1 2359.0 546.6 2357.9 544.4 C2356.9 542.1 2356.2 538.7 2357.4 536.7 Z" fill="#5869b5" stroke="#4354a3" stroke-width="1.2"/>
<path d="M2416.4 567.4 C2417.7 564.2 2423.2 562.3 2426.7 562.3 C2430.1 562.3 2435.2 564.9 2436.9 567.4 C2438.6 570.0 2438.2 574.9 2436.9 577.7 C2435.6 580.5 2432.2 583.5 2429.2 584.1 C2426.2 584.7 2421.1 584.3 2419.0 581.5 C2416.8 578.8 2415.1 570.6 2416.4 567.4 Z" fill="#74a9d0" stroke="#5f97c6" stroke-width="1.2"/>
<path d="M2417.7 594.4 C2418.8 591.2 2422.4 588.2 2425.4 587.9 C2428.4 587.7 2433.8 590.3 2435.6 593.1 C2437.5 595.9 2437.5 601.6 2436.4 604.6 C2435.3 607.6 2432.1 610.6 2429.2 611.0 C2426.3 611.5 2420.9 610.0 2419.0 607.2 C2417.1 604.4 2416.6 597.6 2417.7 594.4 Z" fill="#74a9d0" stroke="#5f97c6" stroke-width="1.2"/>
<path d="M2409.2 625.1 C2410.5 622.8 2414.7 620.0 2417.7 620.0 C2420.7 620.0 2425.7 622.8 2427.2 625.1 C2428.7 627.5 2428.2 632.0 2426.7 634.1 C2425.1 636.2 2420.5 637.9 2417.7 637.9 C2414.9 637.9 2411.4 636.2 2410.0 634.1 C2408.6 632.0 2407.9 627.5 2409.2 625.1 Z" fill="#74a9d0" stroke="#5f97c6" stroke-width="1.2"/>
<path d="M2460.0 609.7 C2460.9 608.1 2464.6 606.8 2466.4 607.2 C2468.2 607.6 2470.6 610.5 2470.8 612.3 C2471.0 614.1 2469.3 617.2 2467.7 617.9 C2466.1 618.7 2462.6 618.3 2461.3 616.9 C2460.0 615.6 2459.1 611.4 2460.0 609.7 Z" fill="#74a9d0" stroke="#5f97c6" stroke-width="1.2"/>
<path d="M2375.9 637.9 C2376.5 635.6 2380.9 634.4 2383.1 634.9 C2385.3 635.3 2388.3 638.3 2389.0 640.5 C2389.6 642.7 2388.5 646.8 2386.9 648.2 C2385.3 649.6 2381.1 650.7 2379.2 649.0 C2377.4 647.3 2375.3 640.3 2375.9 637.9 Z" fill="#74a9d0" stroke="#5f97c6" stroke-width="1.2"/>
<path d="M2246.7 553.3 C2247.3 550.0 2253.7 546.5 2257.4 545.6 C2261.2 544.8 2266.9 546.1 2269.0 548.2 C2271.0 550.3 2270.6 555.5 2269.7 558.5 C2268.9 561.5 2266.5 565.0 2263.8 566.2 C2261.2 567.4 2256.5 567.8 2253.6 565.6 C2250.7 563.5 2246.0 556.7 2246.7 553.3 Z" fill="#5889bb" stroke="#4a72b0" stroke-width="1.2"/>
<path d="M2513.8 599.5 C2514.9 594.8 2518.1 594.4 2521.5 594.4 C2525.0 594.4 2531.0 597.1 2534.4 599.5 C2537.7 601.8 2541.5 605.3 2541.5 608.5 C2541.5 611.7 2537.3 616.2 2534.4 618.7 C2531.5 621.3 2527.3 623.2 2524.1 623.8 C2520.9 624.5 2516.8 626.6 2515.1 622.6 C2513.4 618.5 2512.8 604.2 2513.8 599.5 Z" fill="#74a9d0" stroke="#5f97c6" stroke-width="1.2"/>
<path d="M2390.8 509.7 C2393.8 505.9 2398.0 499.9 2403.6 496.9 C2409.1 493.9 2417.3 493.5 2424.1 491.8 C2430.9 490.1 2438.6 486.7 2444.6 486.7 C2450.6 486.7 2455.7 488.8 2460.0 491.8 C2464.3 494.8 2465.1 502.1 2470.3 504.6 C2475.4 507.2 2484.8 507.6 2490.8 507.2 C2496.8 506.8 2501.0 502.1 2506.2 502.1 C2511.3 502.1 2517.7 503.8 2521.5 507.2 C2525.4 510.6 2526.7 517.0 2529.2 522.6 C2531.8 528.1 2536.5 534.5 2536.9 540.5 C2537.4 546.5 2534.4 553.8 2531.8 558.5 C2529.2 563.2 2525.0 566.2 2521.5 568.7 C2518.1 571.3 2515.6 573.4 2511.3 573.8 C2507.0 574.3 2502.7 573.0 2495.9 571.3 C2489.1 569.6 2477.9 564.9 2470.3 563.6 C2462.6 562.3 2454.9 565.7 2449.7 563.6 C2444.6 561.5 2444.6 552.9 2439.5 550.8 C2434.4 548.6 2425.0 550.3 2419.0 550.8 C2413.0 551.2 2407.9 555.5 2403.6 553.3 C2399.3 551.2 2396.3 543.5 2393.3 537.9 C2390.3 532.4 2386.1 524.7 2385.6 520.0 C2385.2 515.3 2387.8 513.6 2390.8 509.7 Z" fill="#d2e3ee" stroke="#bcd5e4" stroke-width="1.2"/>
<path d="M2447.2 527.7 C2447.8 523.4 2452.3 521.7 2454.9 522.6 C2457.4 523.4 2460.4 529.0 2462.6 532.8 C2464.7 536.7 2468.1 542.2 2467.7 545.6 C2467.3 549.1 2462.8 552.9 2460.0 553.3 C2457.2 553.8 2453.2 552.5 2451.0 548.2 C2448.9 543.9 2446.5 532.0 2447.2 527.7 Z" fill="#9cc6df" stroke="#86b6d6" stroke-width="1.2"/>
<path d="M1118.5 114.6 C1241.4 114.6 1660.0 114.6 1817.9 114.6 C1975.9 114.6 2026.1 108.2 2066.2 114.6 C2106.3 121.0 2059.1 142.2 2058.5 153.1 C2057.9 163.9 2059.5 169.1 2062.3 180.0 C2065.2 190.9 2075.1 208.8 2075.8 218.4 C2076.4 228.0 2071.0 233.1 2066.2 237.6 C2061.4 242.1 2049.5 241.5 2047.0 245.3 C2044.4 249.1 2048.9 254.3 2050.8 260.7 C2052.7 267.1 2058.5 279.2 2058.5 283.7 C2058.5 288.2 2055.9 283.1 2050.8 287.6 C2045.7 292.1 2036.1 301.0 2027.7 310.6 C2019.4 320.2 2007.3 336.3 2000.8 345.2 C1994.4 354.2 1995.1 359.6 1989.3 364.4 C1983.6 369.2 1976.5 371.5 1966.3 374.0 C1956.0 376.6 1941.9 376.3 1927.8 379.8 C1913.7 383.3 1895.2 394.5 1881.7 395.2 C1868.3 395.8 1860.6 385.3 1847.1 383.7 C1833.7 382.0 1808.7 383.7 1801.0 385.6 C1793.3 387.5 1809.1 392.6 1801.0 395.2 C1792.9 397.7 1765.1 398.7 1752.6 400.9 C1740.0 403.2 1733.4 405.1 1725.7 408.6 C1718.0 412.2 1714.2 417.9 1706.5 422.1 C1698.8 426.2 1679.6 427.8 1679.6 433.6 C1679.6 439.4 1700.7 449.6 1706.5 456.7 C1712.2 463.7 1713.5 468.8 1714.2 475.9 C1714.8 482.9 1711.6 491.9 1710.3 498.9 C1709.0 506.0 1709.0 511.8 1706.5 518.2 C1703.9 524.6 1700.1 530.3 1694.9 537.4 C1689.8 544.4 1681.5 552.8 1675.7 560.4 C1670.0 568.1 1666.8 576.5 1660.3 583.5 C1653.9 590.5 1645.6 595.7 1637.3 602.7 C1629.0 609.8 1619.4 618.7 1610.4 625.8 C1601.4 632.8 1595.0 634.7 1583.5 645.0 C1572.0 655.2 1555.3 674.5 1541.2 687.3 C1527.1 700.1 1511.7 712.6 1498.9 721.9 C1486.1 731.2 1476.5 735.3 1464.3 743.0 C1452.2 750.7 1438.7 759.3 1425.9 768.0 C1413.1 776.6 1397.7 786.6 1387.5 794.9 C1377.2 803.2 1372.1 812.5 1364.4 817.9 C1356.7 823.4 1352.9 823.7 1341.4 827.6 C1329.8 831.4 1310.0 836.5 1295.2 841.0 C1280.5 845.5 1265.8 850.0 1253.0 854.5 C1240.2 858.9 1227.3 866.3 1218.4 867.9 C1209.4 869.5 1203.6 866.6 1199.2 864.1 C1194.7 861.5 1194.7 855.7 1191.5 852.5 C1188.3 849.3 1185.7 844.5 1179.9 844.8 C1174.2 845.2 1163.3 850.9 1156.9 854.5 C1150.5 858.0 1146.0 865.0 1141.5 866.0 C1137.0 866.9 1136.4 865.0 1130.0 860.2 C1123.6 855.4 1111.1 842.9 1103.1 837.2 C1095.1 831.4 1083.0 835.4 1081.9 825.6 C1080.9 815.9 1097.2 786.8 1096.9 778.7 C1096.6 770.7 1087.3 777.9 1080.2 777.4 C1073.2 777.0 1063.1 775.7 1054.6 776.2 C1046.0 776.6 1037.1 779.8 1028.9 780.0 C1020.8 780.2 1012.3 779.1 1005.9 777.4 C999.5 775.7 995.2 772.3 990.5 769.7 C985.8 767.2 981.9 762.9 977.7 762.1 C973.4 761.2 970.4 765.5 964.8 764.6 C959.3 763.8 951.6 759.5 944.3 756.9 C937.1 754.4 927.2 751.8 921.3 749.2 C915.3 746.7 914.0 744.1 908.4 741.5 C902.9 739.0 894.3 737.3 887.9 733.8 C881.5 730.4 875.1 725.7 870.0 721.0 C864.8 716.3 862.3 711.2 857.2 705.6 C852.0 700.1 844.3 693.2 839.2 687.7 C834.1 682.1 832.4 675.5 826.4 672.3 C820.4 669.1 807.2 701.4 803.3 668.5 C799.5 635.6 799.5 506.3 803.3 474.9 C807.2 443.5 820.4 475.7 826.4 480.0 C832.4 484.3 835.4 492.8 839.2 500.5 C843.1 508.2 846.0 517.6 849.5 526.2 C852.9 534.7 855.0 544.5 859.7 551.8 C864.4 559.1 870.4 563.3 877.7 569.7 C884.9 576.2 894.3 587.1 903.3 590.3 C912.3 593.5 922.1 587.7 931.5 589.0 C940.9 590.3 949.9 595.2 959.7 597.9 C969.5 600.7 982.8 602.6 990.5 605.6 C998.2 608.6 1002.9 611.2 1005.9 615.9 C1008.9 620.6 1006.7 628.3 1008.4 633.8 C1010.1 639.4 1012.3 644.3 1016.1 649.2 C1020.0 654.1 1027.7 660.8 1031.5 663.3 C1035.4 665.9 1036.6 666.5 1039.2 664.6 C1041.8 662.7 1042.2 654.4 1046.9 651.8 C1051.6 649.2 1060.6 649.2 1067.4 649.2 C1074.2 649.2 1082.8 650.5 1087.9 651.8 C1093.1 653.1 1093.1 656.9 1098.2 656.9 C1103.3 656.9 1114.2 653.9 1118.7 651.8 C1123.2 649.7 1122.5 643.2 1125.1 644.1 C1127.7 645.0 1130.9 653.5 1134.1 656.9 C1137.3 660.3 1138.4 666.8 1144.3 664.6 C1150.3 662.5 1161.4 653.5 1170.0 644.1 C1178.5 634.7 1190.9 623.2 1195.6 608.2 C1200.3 593.2 1198.6 562.9 1198.2 554.4 C1197.8 545.8 1195.6 558.2 1193.1 556.9 C1190.5 555.6 1185.4 550.5 1182.8 546.7 C1180.2 542.8 1180.7 537.3 1177.7 533.8 C1174.7 530.4 1170.8 527.0 1164.8 526.2 C1158.9 525.3 1149.5 528.9 1141.8 528.7 C1134.1 528.5 1126.0 526.6 1118.7 524.9 C1111.4 523.2 1104.2 521.2 1098.2 518.5 C1092.2 515.7 1087.5 512.1 1082.8 508.2 C1078.1 504.4 1073.0 500.1 1070.0 495.4 C1067.0 490.7 1067.0 486.5 1064.8 480.0 C1062.7 473.5 1060.8 463.8 1057.0 456.7 C1053.1 449.6 1045.4 441.9 1041.6 437.5 C1037.7 433.0 1040.3 436.2 1033.9 429.8 C1027.5 423.4 1013.4 406.1 1003.2 399.0 C992.9 392.0 983.3 390.4 972.4 387.5 C961.5 384.6 947.4 383.7 937.8 381.7 C928.2 379.8 921.5 378.8 914.8 376.0 C908.0 373.1 901.0 369.6 897.5 364.4 C893.9 359.3 892.7 351.9 893.6 345.2 C894.6 338.5 899.7 327.0 903.2 324.1 C906.8 321.2 909.3 328.9 914.8 327.9 C920.2 327.0 932.7 321.8 935.9 318.3 C939.1 314.8 933.0 311.3 934.0 306.8 C934.9 302.3 938.1 297.5 941.7 291.4 C945.2 285.3 946.2 273.2 955.1 270.3 C964.1 267.4 983.0 273.7 995.5 274.1 C1008.0 274.6 1019.2 277.8 1030.1 273.0 C1041.0 268.2 1052.5 259.5 1060.8 245.3 C1069.1 231.1 1076.8 209.4 1080.0 187.6 C1083.2 165.9 1073.6 126.8 1080.0 114.6 C1086.4 102.5 995.5 114.6 1118.5 114.6 Z" fill="#fdfdfb" stroke="#e9eef2" stroke-width="1.2"/>
<path d="M954.6 669.7 C955.9 667.6 963.1 666.1 970.0 665.9 C976.8 665.7 987.9 667.0 995.6 668.5 C1003.3 670.0 1011.2 672.1 1016.1 674.9 C1021.0 677.6 1023.4 681.7 1025.1 685.1 C1026.8 688.5 1024.5 692.0 1026.4 695.4 C1028.3 698.8 1034.9 702.2 1036.6 705.6 C1038.4 709.1 1038.8 713.5 1036.6 715.9 C1034.5 718.2 1028.1 720.2 1023.8 719.7 C1019.5 719.3 1016.6 716.5 1011.0 713.3 C1005.4 710.1 996.5 704.8 990.5 700.5 C984.5 696.2 979.8 691.3 975.1 687.7 C970.4 684.1 965.7 681.7 962.3 678.7 C958.9 675.7 953.3 671.9 954.6 669.7 Z" fill="#d2e3ee" stroke="#bcd5e4" stroke-width="1.2"/>
<path d="M871.3 589.0 C872.1 586.6 880.4 583.2 882.8 583.8 C885.1 584.5 884.5 590.0 885.4 592.8 C886.2 595.6 885.8 599.2 887.9 600.5 C890.1 601.8 896.7 599.2 898.2 600.5 C899.7 601.8 898.6 606.9 896.9 608.2 C895.2 609.5 891.1 609.9 887.9 608.2 C884.7 606.5 880.4 601.2 877.7 597.9 C874.9 594.7 870.4 591.3 871.3 589.0 Z" fill="#d2e3ee" stroke="#bcd5e4" stroke-width="1.2"/>
<path d="M2598.5 114.6 C2563.2 121.0 2599.4 143.5 2604.2 153.1 C2609.0 162.7 2620.2 166.5 2627.3 172.3 C2634.3 178.0 2642.7 181.9 2646.5 187.6 C2650.3 193.4 2652.3 199.8 2650.3 206.9 C2648.4 213.9 2640.7 223.5 2635.0 229.9 C2629.2 236.3 2622.8 238.9 2615.8 245.3 C2608.7 251.7 2599.7 260.0 2592.7 268.4 C2585.7 276.7 2578.3 285.0 2573.5 295.3 C2568.7 305.5 2565.5 319.6 2563.9 329.8 C2562.3 340.1 2562.9 348.4 2563.9 356.7 C2564.8 365.1 2566.1 371.5 2569.6 379.8 C2573.2 388.1 2577.3 400.6 2585.0 406.7 C2592.7 412.8 2606.1 414.4 2615.8 416.3 C2625.4 418.2 2634.3 416.3 2642.7 418.2 C2651.0 420.2 2657.4 424.0 2665.7 427.8 C2674.0 431.7 2684.3 438.1 2692.6 441.3 C2700.9 444.5 2708.0 446.7 2715.7 447.1 C2723.4 447.4 2731.7 446.1 2738.7 443.2 C2745.8 440.3 2752.2 433.0 2758.0 429.8 C2763.7 426.6 2768.8 423.4 2773.3 424.0 C2777.8 424.6 2777.8 431.4 2784.9 433.6 C2791.9 435.9 2810.5 490.6 2815.6 437.5 C2820.7 384.3 2851.8 168.4 2815.6 114.6 C2779.4 60.8 2633.7 108.2 2598.5 114.6 Z" fill="#fdfdfb" stroke="#e9eef2" stroke-width="1.2"/>
<path d="M2692.6 314.5 C2693.6 311.6 2700.0 310.6 2702.2 312.6 C2704.5 314.5 2707.0 323.1 2706.1 326.0 C2705.1 328.9 2698.7 331.8 2696.5 329.8 C2694.2 327.9 2691.7 317.4 2692.6 314.5 Z" fill="#d2e3ee" stroke="#bcd5e4" stroke-width="1.2"/>
<path d="M2688.8 406.7 C2688.8 403.2 2695.8 397.7 2700.3 395.2 C2704.8 392.6 2709.9 391.3 2715.7 391.3 C2721.4 391.3 2730.7 392.0 2734.9 395.2 C2739.1 398.4 2740.0 406.1 2740.7 410.6 C2741.3 415.0 2741.6 419.8 2738.7 422.1 C2735.9 424.3 2727.2 425.3 2723.4 424.0 C2719.5 422.7 2719.5 415.7 2715.7 414.4 C2711.8 413.1 2704.8 417.6 2700.3 416.3 C2695.8 415.0 2688.8 410.2 2688.8 406.7 Z" fill="#d2e3ee" stroke="#bcd5e4" stroke-width="1.2"/>
<path d="M2377.5 352.9 C2378.8 349.4 2382.6 345.2 2389.0 343.3 C2395.4 341.4 2408.9 339.8 2415.9 341.4 C2423.0 343.0 2429.0 347.1 2431.3 352.9 C2433.5 358.7 2431.9 370.2 2429.4 376.0 C2426.8 381.7 2419.4 383.7 2415.9 387.5 C2412.4 391.3 2412.1 396.5 2408.2 399.0 C2404.4 401.6 2396.7 404.8 2392.9 402.9 C2389.0 400.9 2385.8 392.6 2385.2 387.5 C2384.5 382.4 2389.6 376.0 2389.0 372.1 C2388.4 368.3 2383.2 367.6 2381.3 364.4 C2379.4 361.2 2376.2 356.4 2377.5 352.9 Z" fill="#fdfdfb" stroke="#e9eef2" stroke-width="1.2"/>
<path d="M2221.8 433.6 C2222.5 431.1 2227.3 427.5 2231.4 425.9 C2235.6 424.3 2241.7 426.2 2246.8 424.0 C2251.9 421.8 2258.7 412.8 2262.2 412.5 C2265.7 412.2 2267.3 417.9 2267.9 422.1 C2268.6 426.2 2268.3 434.6 2266.0 437.5 C2263.8 440.3 2259.0 438.7 2254.5 439.4 C2250.0 440.0 2243.6 441.0 2239.1 441.3 C2234.6 441.6 2230.5 442.6 2227.6 441.3 C2224.7 440.0 2221.2 436.2 2221.8 433.6 Z" fill="#fdfdfb" stroke="#e9eef2" stroke-width="1.2"/>
<path d="M2243.0 449.0 C2245.2 445.5 2255.8 443.2 2262.2 443.2 C2268.6 443.2 2278.8 445.5 2281.4 449.0 C2284.0 452.5 2280.8 460.8 2277.6 464.4 C2274.4 467.9 2267.0 470.1 2262.2 470.1 C2257.4 470.1 2251.9 467.9 2248.7 464.4 C2245.5 460.8 2240.7 452.5 2243.0 449.0 Z" fill="#fdfdfb" stroke="#e9eef2" stroke-width="1.2"/>
<path d="M2417.8 414.4 C2418.2 412.2 2427.8 411.2 2431.3 412.5 C2434.8 413.8 2439.3 419.8 2439.0 422.1 C2438.7 424.3 2432.9 427.2 2429.4 425.9 C2425.8 424.6 2417.5 416.6 2417.8 414.4 Z" fill="#fdfdfb" stroke="#e9eef2" stroke-width="1.2"/>
<path d="M1931.7 533.5 C1932.3 530.7 1939.7 524.2 1943.2 522.0 C1946.7 519.8 1951.5 518.2 1952.8 520.1 C1954.1 522.0 1953.1 530.3 1950.9 533.5 C1948.6 536.7 1942.6 539.3 1939.4 539.3 C1936.2 539.3 1931.0 536.4 1931.7 533.5 Z" fill="#fdfdfb" stroke="#e9eef2" stroke-width="1.2"/>
<path d="M1322.1 1682.7 C1323.1 1671.8 1322.1 1644.9 1327.9 1632.7 C1333.7 1620.5 1346.8 1616.7 1356.7 1609.7 C1366.7 1602.6 1377.2 1596.2 1387.5 1590.4 C1397.7 1584.7 1409.3 1578.9 1418.2 1575.1 C1427.2 1571.2 1433.6 1567.7 1441.3 1567.4 C1449.0 1567.1 1463.1 1568.7 1464.3 1573.1 C1465.6 1577.6 1449.0 1589.5 1449.0 1594.3 C1449.0 1599.1 1455.4 1603.9 1464.3 1602.0 C1473.3 1600.0 1491.2 1592.4 1502.8 1582.8 C1514.3 1573.1 1527.1 1554.6 1533.5 1544.3 C1539.9 1534.1 1536.1 1524.5 1541.2 1521.3 C1546.3 1518.1 1558.5 1521.3 1564.3 1525.1 C1570.0 1528.9 1573.9 1536.0 1575.8 1544.3 C1577.7 1552.6 1572.6 1568.7 1575.8 1575.1 C1579.0 1581.5 1588.0 1584.7 1595.0 1582.8 C1602.1 1580.8 1610.4 1569.9 1618.1 1563.5 C1625.8 1557.1 1632.8 1550.7 1641.1 1544.3 C1649.5 1537.9 1659.1 1531.5 1668.0 1525.1 C1677.0 1518.7 1687.9 1514.2 1694.9 1505.9 C1702.0 1497.6 1705.2 1484.1 1710.3 1475.1 C1715.4 1466.2 1719.3 1458.5 1725.7 1452.1 C1732.1 1445.7 1741.1 1441.2 1748.7 1436.7 C1756.4 1432.2 1764.1 1426.5 1771.8 1425.2 C1779.5 1423.9 1788.1 1432.2 1794.9 1429.0 C1801.6 1425.8 1807.7 1414.9 1812.5 1406.0 C1817.4 1397.0 1818.3 1382.9 1824.1 1375.2 C1829.8 1367.5 1841.4 1367.5 1847.1 1359.8 C1852.9 1352.2 1853.5 1336.8 1858.6 1329.1 C1863.8 1321.4 1870.8 1317.6 1877.9 1313.7 C1884.9 1309.9 1894.5 1304.8 1900.9 1306.0 C1907.3 1307.3 1915.0 1315.0 1916.3 1321.4 C1917.6 1327.8 1912.5 1336.8 1908.6 1344.5 C1904.8 1352.2 1898.4 1359.8 1893.2 1367.5 C1888.1 1375.2 1879.8 1381.6 1877.9 1390.6 C1875.9 1399.6 1877.9 1418.8 1881.7 1421.3 C1885.6 1423.9 1893.9 1411.1 1900.9 1406.0 C1908.0 1400.8 1915.0 1393.8 1924.0 1390.6 C1932.9 1387.4 1945.1 1389.3 1954.7 1386.7 C1964.3 1384.2 1973.9 1378.4 1981.6 1375.2 C1989.3 1372.0 1995.1 1366.9 2000.8 1367.5 C2006.6 1368.2 2009.8 1380.3 2016.2 1379.1 C2022.6 1377.8 2034.2 1366.3 2039.3 1359.8 C2044.4 1353.4 2041.8 1346.4 2047.0 1340.6 C2052.1 1334.9 2062.3 1331.0 2070.0 1325.3 C2077.7 1319.5 2086.7 1311.8 2093.1 1306.0 C2099.5 1300.3 2102.1 1293.9 2108.5 1290.7 C2114.9 1287.5 2123.8 1287.5 2131.5 1286.8 C2139.2 1286.2 2145.6 1287.5 2154.6 1286.8 C2163.5 1286.2 2176.4 1287.5 2185.3 1283.0 C2194.3 1278.5 2202.0 1265.0 2208.4 1259.9 C2214.8 1254.8 2214.8 1256.1 2223.8 1252.2 C2232.7 1248.4 2249.4 1238.8 2262.2 1236.9 C2275.0 1234.9 2289.1 1242.0 2300.6 1240.7 C2312.1 1239.4 2321.1 1233.0 2331.4 1229.2 C2341.6 1225.3 2350.6 1218.9 2362.1 1217.6 C2373.6 1216.4 2389.0 1221.5 2400.5 1221.5 C2412.1 1221.5 2426.2 1208.7 2431.3 1217.6 C2436.4 1226.6 2367.2 1265.7 2431.3 1275.3 C2495.3 1284.9 2751.6 1204.8 2815.6 1275.3 C2879.7 1345.8 3064.5 1627.6 2815.6 1698.0 C2566.7 1768.5 1571.1 1700.6 1322.1 1698.0 C1073.2 1695.5 1321.2 1693.6 1322.1 1682.7 Z" fill="#fdfdfb" stroke="#e9eef2" stroke-width="1.2"/>
<path d="M2312.1 1267.6 C2316.0 1263.8 2329.4 1258.6 2339.0 1256.1 C2348.7 1253.5 2359.5 1251.6 2369.8 1252.2 C2380.0 1252.9 2391.6 1259.3 2400.5 1259.9 C2409.5 1260.6 2418.5 1253.5 2423.6 1256.1 C2428.7 1258.6 2435.1 1271.5 2431.3 1275.3 C2427.4 1279.1 2412.1 1277.9 2400.5 1279.1 C2389.0 1280.4 2373.6 1281.7 2362.1 1283.0 C2350.6 1284.3 2339.0 1287.5 2331.4 1286.8 C2323.7 1286.2 2319.2 1282.3 2316.0 1279.1 C2312.8 1275.9 2308.3 1271.5 2312.1 1267.6 Z" fill="#d2e3ee" stroke="#bcd5e4" stroke-width="1.2"/>
<path d="M1837.5 1463.6 C1838.8 1460.4 1844.2 1455.0 1847.1 1454.0 C1850.0 1453.0 1854.2 1455.6 1854.8 1457.8 C1855.4 1460.1 1853.5 1464.9 1851.0 1467.5 C1848.4 1470.0 1841.7 1473.9 1839.4 1473.2 C1837.2 1472.6 1836.2 1466.8 1837.5 1463.6 Z" fill="#d2e3ee" stroke="#bcd5e4" stroke-width="1.2"/>
<path d="M1595.0 1636.6 C1596.3 1635.1 1601.4 1633.7 1602.7 1634.6 C1604.0 1635.6 1604.0 1640.8 1602.7 1642.3 C1601.4 1643.8 1596.3 1644.4 1595.0 1643.5 C1593.7 1642.5 1593.7 1638.0 1595.0 1636.6 Z" fill="#d2e3ee" stroke="#bcd5e4" stroke-width="1.2"/>
<path d="M1001.2 122.3 L1002.0 141.5 L1010.8 153.1 L1018.5 162.7 L1025.1 175.3 L1010.8 178.0 L1002.0 183.8 L1001.2 193.4 L1010.8 203.0 L1021.6 212.6 L1028.1 228.0 L1032.0 249.1 L1033.1 276.0 L1034.7 299.1 L1033.1 314.5 L1020.5 329.8 L1010.8 333.7 L1007.0 351.0 L1003.2 368.3 L991.6 381.7 L980.1 391.3 L968.6 395.2 L964.0 410.6 L961.7 433.6 L966.6 449.0 L980.1 458.6 L999.3 462.4 L1010.8 456.7 L1020.5 441.3 L1030.1 437.5 L1037.7 418.2 L1043.5 399.0 L1035.8 397.1 L1053.1 383.7 L1076.2 372.1 L1095.4 359.8 L1114.6 365.2 L1130.0 379.8 L1141.5 399.0 L1153.0 425.9 L1164.6 460.5 L1174.2 495.1 L1185.7 525.8 L1198.4 553.9 L1218.4 545.1 L1241.4 529.7 L1253.0 508.6 L1272.2 493.2 L1283.7 475.9 L1287.6 452.8 L1284.5 422.1 L1277.9 391.3 L1272.2 356.7 L1264.5 329.8 L1272.2 310.6 L1279.1 283.7 L1291.4 262.6 L1302.9 245.3 L1312.5 218.4 L1310.6 195.3 L1299.1 172.3 L1291.4 149.2 L1277.9 139.6 L1268.3 122.3 Z" fill="#f3f6fb" stroke="#8a8ea8" stroke-width="1.3" stroke-linejoin="round"/>
<path d="M1302.9 122.3 L1306.8 141.5 L1318.3 149.2 L1326.0 158.8 L1337.5 153.1 L1347.1 145.4 L1343.3 160.7 L1335.6 172.3 L1329.8 187.6 L1341.4 178.0 L1356.7 176.1 L1361.3 195.3 L1362.5 216.5 L1376.0 197.3 L1395.2 185.7 L1406.7 199.2 L1425.9 210.7 L1456.7 216.5 L1479.7 222.2 L1491.2 212.6 L1493.2 191.5 L1487.4 172.3 L1472.0 160.7 L1479.7 147.3 L1495.1 141.5 L1502.8 156.9 L1518.1 158.8 L1533.5 155.0 L1525.8 133.8 L1514.3 122.3 Z" fill="#f3f6fb" stroke="#8a8ea8" stroke-width="1.3" stroke-linejoin="round"/>
<path d="M1577.7 160.7 C1580.3 160.1 1585.4 170.4 1591.2 176.1 C1596.9 181.9 1609.1 188.9 1612.3 195.3 C1615.5 201.7 1614.5 208.5 1610.4 214.6 C1606.2 220.6 1593.1 225.1 1587.3 231.8 C1581.6 238.6 1579.0 253.3 1575.8 254.9 C1572.6 256.5 1571.3 246.9 1568.1 241.5 C1564.9 236.0 1556.3 228.6 1556.6 222.2 C1556.9 215.8 1566.8 210.1 1570.0 203.0 C1573.2 196.0 1574.5 187.0 1575.8 180.0 C1577.1 172.9 1575.2 161.4 1577.7 160.7 Z" fill="#f3f6fb" stroke="#cfd3f5" stroke-width="3" stroke-linejoin="round"/>
<path d="M1564.3 433.6 L1570.0 414.4 L1581.6 395.2 L1583.5 376.0 L1598.9 364.4 L1618.1 352.9 L1645.0 326.0 L1675.7 306.8 L1710.3 291.4 L1752.6 276.0 L1801.0 261.4 L1827.9 249.1 L1843.3 241.5 L1851.0 222.2 L1877.9 210.7 L1916.3 195.3 L1947.0 187.6 L1966.3 168.4 L2000.8 153.1 L2031.6 141.5 L2054.7 122.3 L2070.0 122.3 L2062.3 153.1 L2047.0 164.6 L2016.2 183.8 L2027.7 199.2 L2050.8 206.9 L2062.3 214.6 L2054.7 229.9 L2039.3 226.1 L2035.4 241.5 L2047.0 249.1 L2054.7 272.2 L2058.5 283.7 L2050.8 287.6 L2031.6 306.8 L2008.5 333.7 L1993.2 360.6 L1970.1 372.1 L1927.8 379.8 L1900.9 383.7 L1881.7 395.2 L1858.6 387.5 L1847.1 381.7 L1824.1 383.7 L1801.0 383.7 L1771.8 391.3 L1733.4 399.0 L1706.5 410.6 L1687.2 422.1 L1662.3 433.6 L1648.8 441.3 L1629.6 450.9 L1602.7 453.6 L1579.6 449.0 L1566.2 439.4 Z" fill="#f3f6fb" stroke="#8a8ea8" stroke-width="1.3" stroke-linejoin="round"/>
<path d="M1708.4 516.2 L1698.8 504.7 L1687.2 508.6 L1660.3 510.5 L1625.8 520.1 L1591.2 525.8 L1564.3 535.5 L1541.2 545.1 L1522.0 552.8 L1506.6 568.1 L1493.2 585.4 L1498.9 589.3 L1548.9 592.3 L1518.1 596.9 L1483.6 599.6 L1445.1 595.0 L1418.2 592.3 L1379.8 596.9 L1356.7 606.6 L1337.5 623.9 L1320.2 645.0 L1306.8 664.2 L1299.1 679.6 L1297.2 691.1 L1287.6 683.4 L1264.5 702.6 L1237.6 721.9 L1222.2 737.2 L1214.5 756.5 L1216.5 769.9 L1212.6 752.6 L1195.3 749.5 L1176.1 758.4 L1156.9 763.4 L1137.7 756.5 L1124.2 744.9 L1118.5 733.4 L1114.6 756.5 L1106.9 771.8 L1097.3 787.2 L1091.6 802.6 L1085.8 816.0 L1081.9 825.6 L1103.1 835.2 L1130.0 837.2 L1156.9 839.1 L1179.9 844.8 L1185.7 854.5 L1172.3 860.2 L1149.2 867.9 L1195.3 864.1 L1218.4 867.9 L1253.0 854.5 L1295.2 841.0 L1341.4 827.6 L1364.4 817.9 L1387.5 794.9 L1425.9 768.0 L1464.3 743.0 L1498.9 721.9 L1541.2 687.3 L1583.5 645.0 L1610.4 625.8 L1637.3 602.7 L1660.3 583.5 L1675.7 560.4 L1694.9 537.4 Z" fill="#f3f6fb" stroke="#8a8ea8" stroke-width="1.3" stroke-linejoin="round"/>
<path d="M1151.1 635.4 L1166.5 622.7 L1178.0 626.6 L1185.7 645.0 L1210.7 652.7 L1216.5 664.2 L1214.5 683.4 L1199.2 693.0 L1156.9 696.9 L1130.0 698.8 L1141.5 683.4 L1145.4 664.2 Z" fill="#f3f6fb" stroke="#8a8ea8" stroke-width="1.3" stroke-linejoin="round"/>
<path d="M2838.7 572.0 L2791.0 575.8 L2761.8 583.5 L2731.1 595.0 L2696.5 610.4 L2665.7 621.9 L2600.0 650.3 L2584.6 660.5 L2564.1 673.3 L2548.7 686.2 L2533.3 701.5 L2523.1 716.9 L2515.4 734.9 L2502.6 747.7 L2498.7 755.4 L2512.8 745.1 L2528.2 738.7 L2538.5 728.5 L2553.8 720.8 L2569.2 714.9 L2579.5 709.7 L2597.4 707.2 L2610.3 699.5 L2625.6 691.8 L2641.0 686.7 L2666.7 675.9 L2820.5 614.4 L2846.2 563.1 Z" fill="#f3f6fb" stroke="#8a8ea8" stroke-width="1.3" stroke-linejoin="round"/>
<path d="M2846.2 629.7 L2820.5 642.6 L2660.5 724.6 L2641.0 734.9 L2615.4 747.7 L2589.7 760.5 L2564.1 773.3 L2538.5 783.6 L2512.8 791.3 L2502.6 786.2 L2497.4 773.3 L2502.6 760.5 L2498.7 756.7 L2493.6 763.1 L2487.2 773.3 L2482.1 783.6 L2485.9 793.8 L2479.5 809.2 L2469.2 819.5 L2474.4 829.7 L2487.2 831.0 L2500.0 828.5 L2506.4 819.5 L2515.4 842.6 L2515.4 857.9 L2520.5 896.4 L2523.1 947.7 L2517.9 983.6 L2516.9 970.3 L2509.2 990.8 L2499.0 1011.3 L2493.8 1026.7 L2483.6 1042.1 L2473.3 1057.4 L2465.6 1067.7 L2457.9 1083.1 L2455.4 1098.5 L2447.7 1113.8 L2440.0 1129.2 L2432.3 1143.3 L2429.2 1139.5 L2429.7 1126.7 L2432.3 1111.3 L2429.7 1098.5 L2422.1 1093.3 L2406.7 1098.5 L2393.8 1101.0 L2383.6 1093.3 L2370.8 1085.6 L2357.9 1077.9 L2345.1 1070.3 L2332.3 1062.6 L2322.1 1054.9 L2316.9 1044.6 L2309.2 1031.8 L2311.8 1019.0 L2316.9 1006.2 L2324.6 993.3 L2334.9 983.1 L2350.3 975.4 L2363.1 965.1 L2368.2 958.7 L2360.5 958.7 L2357.9 967.7 L2340.0 977.9 L2327.2 985.6 L2316.9 998.5 L2309.2 1011.3 L2305.4 1026.7 L2307.9 1036.9 L2315.6 1049.7 L2323.3 1062.6 L2333.6 1075.4 L2343.8 1088.2 L2351.5 1103.6 L2356.7 1119.0 L2364.4 1134.4 L2374.6 1149.7 L2384.9 1162.6 L2397.7 1172.8 L2411.8 1177.9 L2416.9 1172.8 L2422.1 1185.6 L2427.2 1203.6 L2429.7 1216.4 L2434.9 1229.2 L2438.7 1242.1 L2440.0 1257.4 L2434.9 1275.4 L2429.7 1293.3 L2417.9 1300.0 L2410.3 1315.4 L2407.7 1333.3 L2402.6 1356.4 L2397.4 1376.9 L2392.3 1397.4 L2389.7 1412.8 L2394.9 1425.6 L2389.7 1423.1 L2384.6 1433.3 L2376.9 1441.0 L2366.7 1459.0 L2364.1 1479.5 L2361.5 1500.0 L2374.4 1502.6 L2366.7 1517.9 L2360.3 1524.4 L2357.7 1517.9 L2353.8 1561.5 L2366.7 1582.1 L2379.5 1602.6 L2389.7 1617.9 L2397.4 1633.3 L2405.1 1652.1 L2410.3 1679.5 L2946.2 1679.5 L2846.2 629.7 Z" fill="#f3f6fb" stroke="none"/>
<path d="M2846.2 629.7 L2820.5 642.6 L2660.5 724.6 L2641.0 734.9 L2615.4 747.7 L2589.7 760.5 L2564.1 773.3 L2538.5 783.6 L2512.8 791.3 L2502.6 786.2 L2497.4 773.3 L2502.6 760.5 L2498.7 756.7 L2493.6 763.1 L2487.2 773.3 L2482.1 783.6 L2485.9 793.8 L2479.5 809.2 L2469.2 819.5 L2474.4 829.7 L2487.2 831.0 L2500.0 828.5 L2506.4 819.5 L2515.4 842.6 L2515.4 857.9 L2520.5 896.4 L2523.1 947.7 L2517.9 983.6 L2516.9 970.3 L2509.2 990.8 L2499.0 1011.3 L2493.8 1026.7 L2483.6 1042.1 L2473.3 1057.4 L2465.6 1067.7 L2457.9 1083.1 L2455.4 1098.5 L2447.7 1113.8 L2440.0 1129.2 L2432.3 1143.3 L2429.2 1139.5 L2429.7 1126.7 L2432.3 1111.3 L2429.7 1098.5 L2422.1 1093.3 L2406.7 1098.5 L2393.8 1101.0 L2383.6 1093.3 L2370.8 1085.6 L2357.9 1077.9 L2345.1 1070.3 L2332.3 1062.6 L2322.1 1054.9 L2316.9 1044.6 L2309.2 1031.8 L2311.8 1019.0 L2316.9 1006.2 L2324.6 993.3 L2334.9 983.1 L2350.3 975.4 L2363.1 965.1 L2368.2 958.7 L2360.5 958.7 L2357.9 967.7 L2340.0 977.9 L2327.2 985.6 L2316.9 998.5 L2309.2 1011.3 L2305.4 1026.7 L2307.9 1036.9 L2315.6 1049.7 L2323.3 1062.6 L2333.6 1075.4 L2343.8 1088.2 L2351.5 1103.6 L2356.7 1119.0 L2364.4 1134.4 L2374.6 1149.7 L2384.9 1162.6 L2397.7 1172.8 L2411.8 1177.9 L2416.9 1172.8 L2422.1 1185.6 L2427.2 1203.6 L2429.7 1216.4 L2434.9 1229.2 L2438.7 1242.1 L2440.0 1257.4 L2434.9 1275.4 L2429.7 1293.3 L2417.9 1300.0 L2410.3 1315.4 L2407.7 1333.3 L2402.6 1356.4 L2397.4 1376.9 L2392.3 1397.4 L2389.7 1412.8 L2394.9 1425.6 L2389.7 1423.1 L2384.6 1433.3 L2376.9 1441.0 L2366.7 1459.0 L2364.1 1479.5 L2361.5 1500.0 L2374.4 1502.6 L2366.7 1517.9 L2360.3 1524.4 L2357.7 1517.9" fill="none" stroke="#dedede" stroke-width="3.6" stroke-linejoin="round"/>
<path d="M2846.2 629.7 L2820.5 642.6 L2660.5 724.6 L2641.0 734.9 L2615.4 747.7 L2589.7 760.5 L2564.1 773.3 L2538.5 783.6 L2512.8 791.3 L2502.6 786.2 L2497.4 773.3 L2502.6 760.5 L2498.7 756.7 L2493.6 763.1 L2487.2 773.3 L2482.1 783.6 L2485.9 793.8 L2479.5 809.2 L2469.2 819.5 L2474.4 829.7 L2487.2 831.0 L2500.0 828.5 L2506.4 819.5 L2515.4 842.6 L2515.4 857.9 L2520.5 896.4 L2523.1 947.7 L2517.9 983.6 L2516.9 970.3 L2509.2 990.8 L2499.0 1011.3 L2493.8 1026.7 L2483.6 1042.1 L2473.3 1057.4 L2465.6 1067.7 L2457.9 1083.1 L2455.4 1098.5 L2447.7 1113.8 L2440.0 1129.2 L2432.3 1143.3 L2429.2 1139.5 L2429.7 1126.7 L2432.3 1111.3 L2429.7 1098.5 L2422.1 1093.3 L2406.7 1098.5 L2393.8 1101.0 L2383.6 1093.3 L2370.8 1085.6 L2357.9 1077.9 L2345.1 1070.3 L2332.3 1062.6 L2322.1 1054.9 L2316.9 1044.6 L2309.2 1031.8 L2311.8 1019.0 L2316.9 1006.2 L2324.6 993.3 L2334.9 983.1 L2350.3 975.4 L2363.1 965.1 L2368.2 958.7 L2360.5 958.7 L2357.9 967.7 L2340.0 977.9 L2327.2 985.6 L2316.9 998.5 L2309.2 1011.3 L2305.4 1026.7 L2307.9 1036.9 L2315.6 1049.7 L2323.3 1062.6 L2333.6 1075.4 L2343.8 1088.2 L2351.5 1103.6 L2356.7 1119.0 L2364.4 1134.4 L2374.6 1149.7 L2384.9 1162.6 L2397.7 1172.8 L2411.8 1177.9 L2416.9 1172.8 L2422.1 1185.6 L2427.2 1203.6 L2429.7 1216.4 L2434.9 1229.2 L2438.7 1242.1 L2440.0 1257.4 L2434.9 1275.4 L2429.7 1293.3 L2417.9 1300.0 L2410.3 1315.4 L2407.7 1333.3 L2402.6 1356.4 L2397.4 1376.9 L2392.3 1397.4 L2389.7 1412.8 L2394.9 1425.6 L2389.7 1423.1 L2384.6 1433.3 L2376.9 1441.0 L2366.7 1459.0 L2364.1 1479.5 L2361.5 1500.0 L2374.4 1502.6 L2366.7 1517.9 L2360.3 1524.4 L2357.7 1517.9" fill="none" stroke="#7d7d7d" stroke-width="0.8" stroke-linejoin="round"/>
<path d="M2353.8 1561.5 L2366.7 1582.1 L2379.5 1602.6 L2389.7 1617.9 L2397.4 1633.3 L2405.1 1652.1 L2410.3 1679.5" fill="none" stroke="#dedede" stroke-width="3.6" stroke-linejoin="round"/>
<path d="M2353.8 1561.5 L2366.7 1582.1 L2379.5 1602.6 L2389.7 1617.9 L2397.4 1633.3 L2405.1 1652.1 L2410.3 1679.5" fill="none" stroke="#7d7d7d" stroke-width="0.8" stroke-linejoin="round"/>
<path d="M2255.4 1049.7 L2242.6 1057.4 L2234.9 1067.7 L2240.0 1080.5 L2224.6 1088.2 L2216.9 1098.5 L2206.7 1103.6 L2199.0 1098.5 L2193.8 1106.2 L2201.5 1119.0 L2191.3 1129.2 L2175.9 1131.8 L2168.2 1134.4 L2178.5 1144.6 L2191.3 1154.9 L2204.1 1165.1 L2209.2 1180.5 L2201.5 1190.8 L2204.1 1206.2 L2201.5 1221.5 L2204.1 1239.5 L2184.9 1249.7 L2190.0 1267.7 L2200.3 1288.2 L2215.6 1304.9 L2219.5 1301.0 L2205.4 1284.4 L2196.4 1266.4 L2192.6 1252.3 L2211.8 1254.9 L2219.5 1267.7 L2229.7 1280.5 L2237.4 1293.3 L2240.0 1303.6 L2238.5 1315.4 L2243.6 1328.2 L2253.8 1343.6 L2238.5 1330.8 L2228.2 1338.5 L2207.7 1330.8 L2187.2 1325.6 L2174.4 1312.8 L2164.1 1307.7 L2151.3 1312.8 L2133.3 1300.0 L2123.8 1286.8 L2116.1 1275.3 L2121.9 1236.9 L2127.7 1213.8 L2120.0 1208.0 L2114.2 1236.9 L2106.5 1275.3 L2104.6 1298.4 L2112.3 1309.9 L2125.6 1302.6 L2141.0 1315.4 L2164.1 1333.3 L2184.6 1341.0 L2210.3 1351.3 L2228.2 1361.5 L2243.6 1369.2 L2261.5 1357.7 L2279.5 1382.1 L2283.3 1394.9 L2276.9 1407.7 L2279.5 1423.1 L2274.4 1435.9 L2264.1 1430.8 L2251.3 1433.3 L2238.5 1423.1 L2220.5 1412.8 L2202.6 1402.6 L2184.6 1389.7 L2166.7 1374.4 L2151.3 1361.5 L2135.9 1357.7 L2135.9 1362.8 L2146.2 1366.7 L2159.0 1376.9 L2174.4 1392.3 L2192.3 1407.7 L2210.3 1420.5 L2228.2 1433.3 L2243.6 1443.6 L2253.8 1447.4 L2274.4 1443.6 L2287.2 1448.7 L2279.5 1456.4 L2292.3 1459.0 L2298.7 1474.4 L2300.0 1492.3 L2289.7 1489.7 L2276.9 1479.5 L2271.8 1489.7 L2279.5 1497.4 L2284.6 1505.1 L2279.5 1520.5 L2266.7 1515.4 L2251.3 1502.6 L2235.9 1487.2 L2220.5 1474.4 L2211.5 1470.5 L2212.8 1476.9 L2228.2 1492.3 L2243.6 1507.7 L2259.0 1517.9 L2274.4 1523.1 L2289.7 1525.6 L2302.6 1533.3 L2309.0 1543.6 L2305.1 1556.4 L2294.9 1553.8 L2279.5 1546.2 L2264.1 1538.5 L2251.3 1528.2 L2238.5 1525.6 L2223.1 1523.1 L2207.7 1517.9 L2187.2 1520.5 L2166.7 1523.1 L2146.2 1521.8 L2144.9 1526.9 L2166.7 1529.5 L2187.2 1528.2 L2207.7 1530.8 L2223.1 1535.9 L2238.5 1541.0 L2248.7 1556.4 L2264.1 1564.1 L2279.5 1571.8 L2284.6 1582.1 L2279.5 1589.7 L2289.7 1582.1 L2300.0 1576.9 L2305.1 1569.2 L2312.8 1578.2 L2307.7 1566.7 L2320.5 1564.1 L2341.0 1566.7 L2353.8 1561.5 L2357.7 1517.9 L2348.7 1510.3 L2342.3 1494.9 L2341.0 1469.2 L2343.6 1443.6 L2348.7 1417.9 L2356.4 1397.4 L2364.1 1376.9 L2366.7 1351.3 L2341.0 1361.5 L2330.8 1364.1 L2335.9 1351.3 L2346.2 1328.2 L2330.8 1323.1 L2317.9 1325.6 L2315.4 1315.4 L2323.1 1305.1 L2328.2 1297.4 L2319.5 1303.6 L2319.5 1288.2 L2316.9 1275.4 L2304.1 1283.1 L2293.8 1290.8 L2278.5 1295.9 L2268.2 1290.8 L2255.4 1285.6 L2250.3 1275.4 L2263.1 1267.7 L2260.5 1257.4 L2247.7 1252.3 L2257.9 1244.6 L2273.3 1249.7 L2288.7 1244.6 L2293.8 1236.9 L2291.3 1229.2 L2283.6 1239.5 L2268.2 1231.8 L2260.5 1224.1 L2263.1 1213.8 L2250.3 1206.2 L2260.5 1195.9 L2252.8 1190.8 L2242.6 1198.5 L2229.7 1203.6 L2224.6 1190.8 L2227.2 1180.5 L2242.6 1172.8 L2252.8 1165.1 L2250.3 1154.9 L2255.4 1139.5 L2242.6 1144.6 L2234.9 1154.9 L2227.2 1144.6 L2229.7 1134.4 L2240.0 1119.0 L2237.4 1106.2 L2247.7 1098.5 L2260.5 1093.3 L2278.5 1088.2 L2260.5 1072.8 L2268.2 1062.6 L2273.3 1049.7 Z" fill="#f3f6fb" stroke="none"/>
<path d="M2255.4 1049.7 L2242.6 1057.4 L2234.9 1067.7 L2240.0 1080.5 L2224.6 1088.2 L2216.9 1098.5 L2206.7 1103.6 L2199.0 1098.5 L2193.8 1106.2 L2201.5 1119.0 L2191.3 1129.2 L2175.9 1131.8 L2168.2 1134.4 L2178.5 1144.6 L2191.3 1154.9 L2204.1 1165.1 L2209.2 1180.5 L2201.5 1190.8 L2204.1 1206.2 L2201.5 1221.5 L2204.1 1239.5 L2184.9 1249.7 L2190.0 1267.7 L2200.3 1288.2 L2215.6 1304.9 L2219.5 1301.0 L2205.4 1284.4 L2196.4 1266.4 L2192.6 1252.3 L2211.8 1254.9 L2219.5 1267.7 L2229.7 1280.5 L2237.4 1293.3 L2240.0 1303.6 L2238.5 1315.4 L2243.6 1328.2 L2253.8 1343.6 L2238.5 1330.8 L2228.2 1338.5 L2207.7 1330.8 L2187.2 1325.6 L2174.4 1312.8 L2164.1 1307.7 L2151.3 1312.8 L2133.3 1300.0 L2123.8 1286.8 L2116.1 1275.3 L2121.9 1236.9 L2127.7 1213.8 L2120.0 1208.0 L2114.2 1236.9 L2106.5 1275.3 L2104.6 1298.4 L2112.3 1309.9 L2125.6 1302.6 L2141.0 1315.4 L2164.1 1333.3 L2184.6 1341.0 L2210.3 1351.3 L2228.2 1361.5 L2243.6 1369.2 L2261.5 1357.7 L2279.5 1382.1 L2283.3 1394.9 L2276.9 1407.7 L2279.5 1423.1 L2274.4 1435.9 L2264.1 1430.8 L2251.3 1433.3 L2238.5 1423.1 L2220.5 1412.8 L2202.6 1402.6 L2184.6 1389.7 L2166.7 1374.4 L2151.3 1361.5 L2135.9 1357.7 L2135.9 1362.8 L2146.2 1366.7 L2159.0 1376.9 L2174.4 1392.3 L2192.3 1407.7 L2210.3 1420.5 L2228.2 1433.3 L2243.6 1443.6 L2253.8 1447.4 L2274.4 1443.6 L2287.2 1448.7 L2279.5 1456.4 L2292.3 1459.0 L2298.7 1474.4 L2300.0 1492.3 L2289.7 1489.7 L2276.9 1479.5 L2271.8 1489.7 L2279.5 1497.4 L2284.6 1505.1 L2279.5 1520.5 L2266.7 1515.4 L2251.3 1502.6 L2235.9 1487.2 L2220.5 1474.4 L2211.5 1470.5 L2212.8 1476.9 L2228.2 1492.3 L2243.6 1507.7 L2259.0 1517.9 L2274.4 1523.1 L2289.7 1525.6 L2302.6 1533.3 L2309.0 1543.6 L2305.1 1556.4 L2294.9 1553.8 L2279.5 1546.2 L2264.1 1538.5 L2251.3 1528.2 L2238.5 1525.6 L2223.1 1523.1 L2207.7 1517.9 L2187.2 1520.5 L2166.7 1523.1 L2146.2 1521.8 L2144.9 1526.9 L2166.7 1529.5 L2187.2 1528.2 L2207.7 1530.8 L2223.1 1535.9 L2238.5 1541.0 L2248.7 1556.4 L2264.1 1564.1 L2279.5 1571.8 L2284.6 1582.1 L2279.5 1589.7 L2289.7 1582.1 L2300.0 1576.9 L2305.1 1569.2 L2312.8 1578.2 L2307.7 1566.7 L2320.5 1564.1 L2341.0 1566.7 L2353.8 1561.5" fill="none" stroke="#dedede" stroke-width="3.6" stroke-linejoin="round"/>
<path d="M2255.4 1049.7 L2242.6 1057.4 L2234.9 1067.7 L2240.0 1080.5 L2224.6 1088.2 L2216.9 1098.5 L2206.7 1103.6 L2199.0 1098.5 L2193.8 1106.2 L2201.5 1119.0 L2191.3 1129.2 L2175.9 1131.8 L2168.2 1134.4 L2178.5 1144.6 L2191.3 1154.9 L2204.1 1165.1 L2209.2 1180.5 L2201.5 1190.8 L2204.1 1206.2 L2201.5 1221.5 L2204.1 1239.5 L2184.9 1249.7 L2190.0 1267.7 L2200.3 1288.2 L2215.6 1304.9 L2219.5 1301.0 L2205.4 1284.4 L2196.4 1266.4 L2192.6 1252.3 L2211.8 1254.9 L2219.5 1267.7 L2229.7 1280.5 L2237.4 1293.3 L2240.0 1303.6 L2238.5 1315.4 L2243.6 1328.2 L2253.8 1343.6 L2238.5 1330.8 L2228.2 1338.5 L2207.7 1330.8 L2187.2 1325.6 L2174.4 1312.8 L2164.1 1307.7 L2151.3 1312.8 L2133.3 1300.0 L2123.8 1286.8 L2116.1 1275.3 L2121.9 1236.9 L2127.7 1213.8 L2120.0 1208.0 L2114.2 1236.9 L2106.5 1275.3 L2104.6 1298.4 L2112.3 1309.9 L2125.6 1302.6 L2141.0 1315.4 L2164.1 1333.3 L2184.6 1341.0 L2210.3 1351.3 L2228.2 1361.5 L2243.6 1369.2 L2261.5 1357.7 L2279.5 1382.1 L2283.3 1394.9 L2276.9 1407.7 L2279.5 1423.1 L2274.4 1435.9 L2264.1 1430.8 L2251.3 1433.3 L2238.5 1423.1 L2220.5 1412.8 L2202.6 1402.6 L2184.6 1389.7 L2166.7 1374.4 L2151.3 1361.5 L2135.9 1357.7 L2135.9 1362.8 L2146.2 1366.7 L2159.0 1376.9 L2174.4 1392.3 L2192.3 1407.7 L2210.3 1420.5 L2228.2 1433.3 L2243.6 1443.6 L2253.8 1447.4 L2274.4 1443.6 L2287.2 1448.7 L2279.5 1456.4 L2292.3 1459.0 L2298.7 1474.4 L2300.0 1492.3 L2289.7 1489.7 L2276.9 1479.5 L2271.8 1489.7 L2279.5 1497.4 L2284.6 1505.1 L2279.5 1520.5 L2266.7 1515.4 L2251.3 1502.6 L2235.9 1487.2 L2220.5 1474.4 L2211.5 1470.5 L2212.8 1476.9 L2228.2 1492.3 L2243.6 1507.7 L2259.0 1517.9 L2274.4 1523.1 L2289.7 1525.6 L2302.6 1533.3 L2309.0 1543.6 L2305.1 1556.4 L2294.9 1553.8 L2279.5 1546.2 L2264.1 1538.5 L2251.3 1528.2 L2238.5 1525.6 L2223.1 1523.1 L2207.7 1517.9 L2187.2 1520.5 L2166.7 1523.1 L2146.2 1521.8 L2144.9 1526.9 L2166.7 1529.5 L2187.2 1528.2 L2207.7 1530.8 L2223.1 1535.9 L2238.5 1541.0 L2248.7 1556.4 L2264.1 1564.1 L2279.5 1571.8 L2284.6 1582.1 L2279.5 1589.7 L2289.7 1582.1 L2300.0 1576.9 L2305.1 1569.2 L2312.8 1578.2 L2307.7 1566.7 L2320.5 1564.1 L2341.0 1566.7 L2353.8 1561.5" fill="none" stroke="#7d7d7d" stroke-width="0.8" stroke-linejoin="round"/>
<path d="M2357.7 1517.9 L2348.7 1510.3 L2342.3 1494.9 L2341.0 1469.2 L2343.6 1443.6 L2348.7 1417.9 L2356.4 1397.4 L2364.1 1376.9 L2366.7 1351.3 L2341.0 1361.5 L2330.8 1364.1 L2335.9 1351.3 L2346.2 1328.2 L2330.8 1323.1 L2317.9 1325.6 L2315.4 1315.4 L2323.1 1305.1 L2328.2 1297.4 L2319.5 1303.6 L2319.5 1288.2 L2316.9 1275.4 L2304.1 1283.1 L2293.8 1290.8 L2278.5 1295.9 L2268.2 1290.8 L2255.4 1285.6 L2250.3 1275.4 L2263.1 1267.7 L2260.5 1257.4 L2247.7 1252.3 L2257.9 1244.6 L2273.3 1249.7 L2288.7 1244.6 L2293.8 1236.9 L2291.3 1229.2 L2283.6 1239.5 L2268.2 1231.8 L2260.5 1224.1 L2263.1 1213.8 L2250.3 1206.2 L2260.5 1195.9 L2252.8 1190.8 L2242.6 1198.5 L2229.7 1203.6 L2224.6 1190.8 L2227.2 1180.5 L2242.6 1172.8 L2252.8 1165.1 L2250.3 1154.9 L2255.4 1139.5 L2242.6 1144.6 L2234.9 1154.9 L2227.2 1144.6 L2229.7 1134.4 L2240.0 1119.0 L2237.4 1106.2 L2247.7 1098.5 L2260.5 1093.3 L2278.5 1088.2 L2260.5 1072.8 L2268.2 1062.6 L2273.3 1049.7" fill="none" stroke="#dedede" stroke-width="3.6" stroke-linejoin="round"/>
<path d="M2357.7 1517.9 L2348.7 1510.3 L2342.3 1494.9 L2341.0 1469.2 L2343.6 1443.6 L2348.7 1417.9 L2356.4 1397.4 L2364.1 1376.9 L2366.7 1351.3 L2341.0 1361.5 L2330.8 1364.1 L2335.9 1351.3 L2346.2 1328.2 L2330.8 1323.1 L2317.9 1325.6 L2315.4 1315.4 L2323.1 1305.1 L2328.2 1297.4 L2319.5 1303.6 L2319.5 1288.2 L2316.9 1275.4 L2304.1 1283.1 L2293.8 1290.8 L2278.5 1295.9 L2268.2 1290.8 L2255.4 1285.6 L2250.3 1275.4 L2263.1 1267.7 L2260.5 1257.4 L2247.7 1252.3 L2257.9 1244.6 L2273.3 1249.7 L2288.7 1244.6 L2293.8 1236.9 L2291.3 1229.2 L2283.6 1239.5 L2268.2 1231.8 L2260.5 1224.1 L2263.1 1213.8 L2250.3 1206.2 L2260.5 1195.9 L2252.8 1190.8 L2242.6 1198.5 L2229.7 1203.6 L2224.6 1190.8 L2227.2 1180.5 L2242.6 1172.8 L2252.8 1165.1 L2250.3 1154.9 L2255.4 1139.5 L2242.6 1144.6 L2234.9 1154.9 L2227.2 1144.6 L2229.7 1134.4 L2240.0 1119.0 L2237.4 1106.2 L2247.7 1098.5 L2260.5 1093.3 L2278.5 1088.2 L2260.5 1072.8 L2268.2 1062.6 L2273.3 1049.7" fill="none" stroke="#7d7d7d" stroke-width="0.8" stroke-linejoin="round"/>
<path d="M1126.1 130.0 L1223.4 441.3 L1198.4 553.9 L1178.0 645.0 L1118.5 718.0 L1118.5 756.5 L1130.0 779.5 L1149.2 798.7 L1195.3 819.9 L1231.8 816.0 L1383.6 687.3 L1502.8 645.0 L1527.8 633.5 L1662.3 547.0 L1694.9 502.8 L1698.8 487.4 L1671.9 464.4 L1645.0 395.2 L1706.5 352.9 L1801.0 334.5 L1970.1 301.0 L2000.8 199.2 L2070.0 130.0" fill="none" stroke="#333" stroke-width="0.8" stroke-linejoin="round"/>
<path d="M811.0 850.6 L885.9 843.7 L1080.0 825.6" fill="none" stroke="#333" stroke-width="0.8" stroke-linejoin="round"/>
<path d="M885.9 843.7 L918.6 1160.0 L939.7 1356.0" fill="none" stroke="#333" stroke-width="0.8" stroke-linejoin="round"/>
<path d="M1502.8 714.2 L1570.0 1150.4 L1570.3 1152.3 L2220.5 1031.8 L2273.7 1021.6 L2285.2 998.6 L2312.1 989.0 L2331.4 987.0" fill="none" stroke="#333" stroke-width="0.8" stroke-linejoin="round"/>
<path d="M1604.6 652.7 L1610.4 693.0 L1801.0 658.5 L1877.9 645.0 L2243.0 571.2 L2262.2 587.3 L2285.2 595.0 L2296.8 625.8 L2304.5 645.0 L2331.4 660.4 L2362.1 671.9 L2492.8 714.9" fill="none" stroke="#333" stroke-width="0.8" stroke-linejoin="round"/>
<path d="M2362.1 671.9 L2346.7 695.0 L2319.8 752.6 L2331.4 791.0 L2319.8 806.4 L2327.5 837.2 L2354.4 860.2 L2366.0 867.9 L2400.5 894.8 L2412.1 906.3 L2369.8 952.5 L2354.4 964.0 L2331.4 987.0" fill="none" stroke="#333" stroke-width="0.8" stroke-linejoin="round"/>
<path d="M2429.4 130.0 L2450.5 203.0 L2465.9 199.2 L2477.4 245.3 L2504.3 356.7 L2502.4 491.3 L2508.1 497.0 L2531.2 645.0 L2544.7 656.5 L2515.8 687.3 L2531.2 702.6" fill="none" stroke="#333" stroke-width="0.8" stroke-linejoin="round"/>
<path d="M2504.3 358.7 L2791.0 295.3" fill="none" stroke="#333" stroke-width="0.8" stroke-linejoin="round"/>
<path d="M2508.1 497.0 L2748.3 445.1 L2791.0 435.5" fill="none" stroke="#333" stroke-width="0.8" stroke-linejoin="round"/>
<path d="M2748.3 445.1 L2775.3 579.7" fill="none" stroke="#333" stroke-width="0.8" stroke-linejoin="round"/>
<path d="M2598.5 130.0 L2588.9 172.3 L2604.2 237.6 L2602.3 287.6 L2617.7 333.7" fill="none" stroke="#333" stroke-width="0.8" stroke-linejoin="round"/>
<path d="M1754.9 1212.1 L1765.1 1201.0 L1777.9 1190.8 L1785.6 1175.4 L1795.9 1162.6 L1811.3 1165.1 L1826.7 1149.7 L1831.8 1131.8 L1835.6 1124.1 L1842.1 1131.8 L1854.9 1136.9 L1880.5 1134.4 L1888.2 1126.7 L1886.9 1116.4 L1901.0 1106.2 L1916.4 1095.9 L1929.2 1094.6 L1942.1 1101.0 L1949.7 1107.4 L1965.1 1106.2 L1972.8 1103.6 L1970.3 1113.8 L1980.5 1119.0 L1985.6 1129.2 L1995.9 1136.9 L2001.0 1152.3 L2019.0 1154.9 L2034.4 1160.0 L2044.6 1167.7 L2042.1 1180.5 L2052.3 1190.8 L2072.8 1195.9 L2093.3 1206.2 L2106.2 1212.1 L2108.5 1210.0 L2127.7 1236.9" fill="none" stroke="#333" stroke-width="0.8" stroke-linejoin="round"/>
<path d="M1916.4 1152.3 L1993.3 1192.1 L2001.0 1153.6" fill="none" stroke="#333" stroke-width="0.8" stroke-linejoin="round"/>
<path d="M1727.9 1126.7 L1739.5 1212.1" fill="none" stroke="#333" stroke-width="0.8" stroke-linejoin="round"/>
<path d="M1522.0 983.2 L1537.4 1013.9 L1533.5 1048.5 L1539.3 1067.8 L1529.7 1106.2 L1522.0 1136.9 L1518.1 1160.0 L1495.1 1194.6 L1464.3 1225.3 L1456.7 1242.6 L1433.6 1242.6 L1422.1 1263.8 L1406.7 1267.6 L1402.9 1306.0 L1395.2 1309.9 L1406.7 1329.1 L1387.5 1346.4 L1368.3 1321.4 L1352.9 1340.6 L1345.2 1371.4 L1352.9 1398.3 L1341.4 1409.8 L1333.7 1436.7 L1299.1 1452.1 L1245.3 1400.2 L1222.2 1400.2 L1210.7 1417.5 L1183.8 1429.0 L1145.4 1413.7 L1122.3 1430.9 L1095.4 1411.7 L1037.7 1402.1 L1018.5 1363.7 L995.5 1352.2 L976.3 1363.7 L953.2 1350.2 L934.0 1371.4 L945.5 1400.2 L918.6 1425.2 L895.6 1446.3 L853.3 1442.5 L861.0 1471.3 L834.1 1500.1 L830.2 1525.1 L811.0 1538.6" fill="none" stroke="#333" stroke-width="0.8" stroke-linejoin="round"/>
<path d="M1299.1 1452.1 L1302.9 1490.5 L1295.2 1498.2 L1322.1 1528.9 L1329.8 1548.2 L1364.4 1586.6 L1391.3 1605.8 L1418.2 1607.7 L1425.9 1632.7 L1445.1 1651.9 L1483.6 1663.5 L1514.3 1632.7 L1541.2 1648.1 L1587.3 1625.0 L1591.2 1605.8 L1652.7 1594.3 L1675.7 1575.1 L1679.6 1548.2 L1694.9 1505.9 L1714.2 1459.8 L1729.5 1406.0 L1737.2 1379.1 L1741.1 1348.3 L1801.0 1359.8" fill="none" stroke="#333" stroke-width="0.8" stroke-linejoin="round"/>
<path d="M1418.2 1607.7 L1356.7 1675.0" fill="none" stroke="#333" stroke-width="0.8" stroke-linejoin="round"/>
<path d="M2273.7 1021.6 L2312.1 1160.0 L2339.0 1258.0 L2437.0 1236.9" fill="none" stroke="#333" stroke-width="0.8" stroke-linejoin="round"/>
<path d="M2367.9 1344.5 L2406.3 1332.9" fill="none" stroke="#333" stroke-width="0.8" stroke-linejoin="round"/>
<path d="M2181.5 1675.0 L2389.0 1630.8" fill="none" stroke="#333" stroke-width="0.8" stroke-linejoin="round"/>
<path d="M1829.8 1283.0 L1849.0 1290.7 L1904.8 1160.0" fill="none" stroke="#333" stroke-width="0.8" stroke-linejoin="round"/>
<path d="M852.0 892.0 L1099.0 836.0 L1189.0 836.0 L1211.0 874.0 L1364.0 828.0 L1503.0 724.0 L1590.0 646.0 L1676.0 656.0 L1740.0 648.0 L1921.0 588.0 L2260.0 439.0 L2569.0 386.5 L2656.0 744.0 L2340.0 936.0 L2158.0 1113.0 L2087.0 1262.0 L1628.0 1429.0 L1407.0 1381.5 L909.0 1421.0 Z" fill="none" stroke="#1eff00" stroke-width="12.6" stroke-linejoin="round"/>
<path d="M2050.0 291.5 L2166.0 368.5 L1951.0 470.0 L1858.6 501.0 L1660.0 573.0 L1689.0 456.5 L1663.0 428.0 L1726.0 385.5 L1968.0 356.5 Z" fill="none" stroke="#1eff00" stroke-width="12.6" stroke-linejoin="round"/>
<path d="M1765.0 963.0 L2113.0 939.5 L2051.0 1053.5 L1969.0 1070.0 L1778.0 1347.0 L1696.0 1372.0 L1702.0 1122.0 Z" fill="none" stroke="#80ff80" stroke-width="12.6" stroke-linejoin="round"/>
<circle cx="876.0" cy="293.0" r="6.5" fill="rgba(255,255,255,0.35)" stroke="#c4c8cc" stroke-width="1"/>
<circle cx="1056.0" cy="637.0" r="6.5" fill="rgba(255,255,255,0.35)" stroke="#c4c8cc" stroke-width="1"/>
<circle cx="1589.5" cy="989.0" r="6.5" fill="rgba(255,255,255,0.35)" stroke="#c4c8cc" stroke-width="1"/>
<circle cx="1086.0" cy="1281.0" r="6.5" fill="rgba(255,255,255,0.35)" stroke="#c4c8cc" stroke-width="1"/>
<circle cx="1667.0" cy="1637.0" r="6.5" fill="rgba(255,255,255,0.35)" stroke="#c4c8cc" stroke-width="1"/>
<circle cx="2053.0" cy="1214.0" r="6.5" fill="rgba(255,255,255,0.35)" stroke="#c4c8cc" stroke-width="1"/>
<circle cx="2395.0" cy="1353.0" r="6.5" fill="rgba(255,255,255,0.35)" stroke="#c4c8cc" stroke-width="1"/>
<circle cx="2429.5" cy="389.0" r="6.5" fill="rgba(255,255,255,0.35)" stroke="#c4c8cc" stroke-width="1"/>
<circle cx="1726.4" cy="488.2" r="6.5" fill="rgba(255,255,255,0.35)" stroke="#c4c8cc" stroke-width="1"/>
<path d="M1934.9 455.6 L1937.4 473.6 L1931.0 496.7" fill="none" stroke="#9aa8ee" stroke-opacity="0.45" stroke-width="2.5" stroke-linecap="round"/>
<path d="M1973.3 453.1 L1983.6 473.6 L1993.8 494.1 L1999.0 514.6" fill="none" stroke="#9aa8ee" stroke-opacity="0.45" stroke-width="2.5" stroke-linecap="round"/>
<path d="M2009.2 458.2 L2014.4 483.8 L2024.6 504.4 L2040.0 514.6" fill="none" stroke="#9aa8ee" stroke-opacity="0.45" stroke-width="2.5" stroke-linecap="round"/>
<path d="M1965.6 514.6 L1961.8 542.8" fill="none" stroke="#9aa8ee" stroke-opacity="0.45" stroke-width="2.5" stroke-linecap="round"/>
<path d="M1986.2 483.8 L1996.4 509.5 L2006.7 532.6" fill="none" stroke="#9aa8ee" stroke-opacity="0.45" stroke-width="2.5" stroke-linecap="round"/>
<rect x="1970.1" y="368.1" width="24.7" height="24.7" fill="none" stroke="#161616" stroke-width="3.8" stroke-linejoin="round"/>
<circle cx="1936.3" cy="1051.2" r="13.9" fill="none" stroke="#00ffff" stroke-width="4"/>
<text x="948.1" y="1677.8" font-size="44.15" text-anchor="start" textLength="497.9" lengthAdjust="spacingAndGlyphs" >MaxSnow: 16.3in 11.2in</text>
</g>
<rect x="810.5" y="130.4" width="1980.0" height="1545.0" fill="none" stroke="#000" stroke-width="2.9"/>
<text x="1237.9" y="50.8" font-size="52.98" text-anchor="start" textLength="1125.2" lengthAdjust="spacingAndGlyphs" >Participant npb1521 (HRRR) Made:20240215</text>
<text x="1432.1" y="107.6" font-size="52.98" text-anchor="start" textLength="736.9" lengthAdjust="spacingAndGlyphs" >Snow Valid: 2024021712 UTC</text>
<text x="180.0" y="413.2" font-size="44.15" text-anchor="start" textLength="390.9" lengthAdjust="spacingAndGlyphs" >NOHRSC24: 16.3in</text>
<text x="180.0" y="459.4" font-size="44.15" text-anchor="start" textLength="364.2" lengthAdjust="spacingAndGlyphs" >NOHRSC6: 11.2in</text>
<text x="180.0" y="505.5" font-size="44.15" text-anchor="start" textLength="293.1" lengthAdjust="spacingAndGlyphs" >Dist: 381.5km</text>
<text x="180.0" y="551.7" font-size="44.15" text-anchor="start" textLength="296.6" lengthAdjust="spacingAndGlyphs" >Snow24:8.0 in</text>
<text x="180.0" y="597.9" font-size="44.15" text-anchor="start" textLength="270.1" lengthAdjust="spacingAndGlyphs" >Snow6:4.0 in</text>
<text x="180.0" y="644.0" font-size="44.15" text-anchor="start" textLength="326.1" lengthAdjust="spacingAndGlyphs" >Sprob:[100.0]%</text>
<text x="180.0" y="690.2" font-size="44.15" text-anchor="start" textLength="439.1" lengthAdjust="spacingAndGlyphs" >Scon:[0, 0, 0, 70, 30]</text>
<text x="180.0" y="736.4" font-size="44.15" text-anchor="start" textLength="205.4" lengthAdjust="spacingAndGlyphs" >Site1:EKN</text>
<text x="180.0" y="782.6" font-size="44.15" text-anchor="start" textLength="380.4" lengthAdjust="spacingAndGlyphs" >Time:2024021623</text>
<text x="180.0" y="828.7" font-size="44.15" text-anchor="start" textLength="142.0" lengthAdjust="spacingAndGlyphs" >Dur:13</text>
<text x="180.0" y="874.9" font-size="44.15" text-anchor="start" textLength="216.9" lengthAdjust="spacingAndGlyphs" >Site2:EWR</text>
<text x="180.0" y="921.1" font-size="44.15" text-anchor="start" textLength="380.2" lengthAdjust="spacingAndGlyphs" >Time:2024021704</text>
<text x="180.0" y="967.2" font-size="44.15" text-anchor="start" textLength="115.5" lengthAdjust="spacingAndGlyphs" >Dur:8</text>
<text x="180.0" y="1013.4" font-size="44.15" text-anchor="start" textLength="201.2" lengthAdjust="spacingAndGlyphs" >Site3:BWI</text>
<text x="180.0" y="1059.6" font-size="44.15" text-anchor="start" textLength="380.4" lengthAdjust="spacingAndGlyphs" >Time:2024021703</text>
<text x="180.0" y="1105.8" font-size="44.15" text-anchor="start" textLength="115.2" lengthAdjust="spacingAndGlyphs" >Dur:9</text>
<text x="3060.0" y="483.3" font-size="44.15" text-anchor="start" textLength="317.1" lengthAdjust="spacingAndGlyphs" >POD: 0.80/0.30</text>
<text x="3060.0" y="529.6" font-size="44.15" text-anchor="start" textLength="303.1" lengthAdjust="spacingAndGlyphs" >FAR: 0.13/0.76</text>
<text x="3060.0" y="575.9" font-size="44.15" text-anchor="start" textLength="294.6" lengthAdjust="spacingAndGlyphs" >CSI: 0.71/0.16</text>
<rect x="459.30" y="1768.3" width="150.83" height="26.6" fill="#ffffff"/>
<rect x="609.53" y="1768.3" width="150.83" height="26.6" fill="#cfe2ed"/>
<rect x="759.76" y="1768.3" width="150.83" height="26.6" fill="#93c3e1"/>
<rect x="909.99" y="1768.3" width="150.83" height="26.6" fill="#64a1cf"/>
<rect x="1060.22" y="1768.3" width="150.83" height="26.6" fill="#457fb7"/>
<rect x="1210.45" y="1768.3" width="150.83" height="26.6" fill="#4a5fb0"/>
<rect x="1360.68" y="1768.3" width="150.83" height="26.6" fill="#ffffab"/>
<rect x="1510.91" y="1768.3" width="150.83" height="26.6" fill="#ffd445"/>
<rect x="1661.14" y="1768.3" width="150.83" height="26.6" fill="#ffa040"/>
<rect x="1811.37" y="1768.3" width="150.83" height="26.6" fill="#e2503e"/>
<rect x="1961.60" y="1768.3" width="150.83" height="26.6" fill="#b74040"/>
<rect x="2111.83" y="1768.3" width="150.83" height="26.6" fill="#8f3f3f"/>
<rect x="2262.06" y="1768.3" width="150.83" height="26.6" fill="#6b4040"/>
<rect x="2412.29" y="1768.3" width="150.83" height="26.6" fill="#d8d8fc"/>
<rect x="2562.52" y="1768.3" width="150.83" height="26.6" fill="#b5a7e0"/>
<rect x="2712.75" y="1768.3" width="150.83" height="26.6" fill="#9e7fbe"/>
<rect x="2862.98" y="1768.3" width="150.83" height="26.6" fill="#633f66"/>
<path d="M3013.5 1768.3 L3139.5 1781.6 L3013.5 1794.9 Z" fill="#b040e0"/>
<path d="M459.6 1768.3 L3013.5 1768.3 L3139.5 1781.6 L3013.5 1794.9 L459.6 1794.9 Z" fill="none" stroke="#000" stroke-width="3.5" stroke-linejoin="miter"/>
<line x1="459.6" y1="1794.9" x2="459.6" y2="1810.0" stroke="#000" stroke-width="3.5"/>
<g transform="translate(457.2 1847.5) rotate(-45)"><text x="-12.4" y="14.2" font-size="41.21" text-anchor="start" textLength="24.7" lengthAdjust="spacingAndGlyphs" >0</text></g>
<line x1="609.8" y1="1794.9" x2="609.8" y2="1810.0" stroke="#000" stroke-width="3.5"/>
<g transform="translate(607.4 1860.6) rotate(-45)"><text x="-30.9" y="14.2" font-size="41.21" text-anchor="start" textLength="61.8" lengthAdjust="spacingAndGlyphs" >0.1</text></g>
<line x1="760.1" y1="1794.9" x2="760.1" y2="1810.0" stroke="#000" stroke-width="3.5"/>
<g transform="translate(757.7 1847.5) rotate(-45)"><text x="-12.4" y="14.2" font-size="41.21" text-anchor="start" textLength="24.7" lengthAdjust="spacingAndGlyphs" >1</text></g>
<line x1="910.3" y1="1794.9" x2="910.3" y2="1810.0" stroke="#000" stroke-width="3.5"/>
<g transform="translate(907.9 1847.5) rotate(-45)"><text x="-12.4" y="14.2" font-size="41.21" text-anchor="start" textLength="24.7" lengthAdjust="spacingAndGlyphs" >2</text></g>
<line x1="1060.5" y1="1794.9" x2="1060.5" y2="1810.0" stroke="#000" stroke-width="3.5"/>
<g transform="translate(1058.1 1847.5) rotate(-45)"><text x="-12.4" y="14.2" font-size="41.21" text-anchor="start" textLength="24.7" lengthAdjust="spacingAndGlyphs" >3</text></g>
<line x1="1210.8" y1="1794.9" x2="1210.8" y2="1810.0" stroke="#000" stroke-width="3.5"/>
<g transform="translate(1208.3 1847.5) rotate(-45)"><text x="-12.4" y="14.2" font-size="41.21" text-anchor="start" textLength="24.7" lengthAdjust="spacingAndGlyphs" >4</text></g>
<line x1="1361.0" y1="1794.9" x2="1361.0" y2="1810.0" stroke="#000" stroke-width="3.5"/>
<g transform="translate(1358.6 1847.5) rotate(-45)"><text x="-12.4" y="14.2" font-size="41.21" text-anchor="start" textLength="24.7" lengthAdjust="spacingAndGlyphs" >6</text></g>
<line x1="1511.2" y1="1794.9" x2="1511.2" y2="1810.0" stroke="#000" stroke-width="3.5"/>
<g transform="translate(1508.8 1847.5) rotate(-45)"><text x="-12.4" y="14.2" font-size="41.21" text-anchor="start" textLength="24.7" lengthAdjust="spacingAndGlyphs" >8</text></g>
<line x1="1661.4" y1="1794.9" x2="1661.4" y2="1810.0" stroke="#000" stroke-width="3.5"/>
<g transform="translate(1659.0 1856.2) rotate(-45)"><text x="-24.7" y="14.2" font-size="41.21" text-anchor="start" textLength="49.5" lengthAdjust="spacingAndGlyphs" >12</text></g>
<line x1="1811.7" y1="1794.9" x2="1811.7" y2="1810.0" stroke="#000" stroke-width="3.5"/>
<g transform="translate(1809.3 1856.2) rotate(-45)"><text x="-24.7" y="14.2" font-size="41.21" text-anchor="start" textLength="49.5" lengthAdjust="spacingAndGlyphs" >18</text></g>
<line x1="1961.9" y1="1794.9" x2="1961.9" y2="1810.0" stroke="#000" stroke-width="3.5"/>
<g transform="translate(1959.5 1856.2) rotate(-45)"><text x="-24.7" y="14.2" font-size="41.21" text-anchor="start" textLength="49.5" lengthAdjust="spacingAndGlyphs" >24</text></g>
<line x1="2112.1" y1="1794.9" x2="2112.1" y2="1810.0" stroke="#000" stroke-width="3.5"/>
<g transform="translate(2109.7 1856.2) rotate(-45)"><text x="-24.7" y="14.2" font-size="41.21" text-anchor="start" textLength="49.5" lengthAdjust="spacingAndGlyphs" >30</text></g>
<line x1="2262.4" y1="1794.9" x2="2262.4" y2="1810.0" stroke="#000" stroke-width="3.5"/>
<g transform="translate(2260.0 1856.2) rotate(-45)"><text x="-24.7" y="14.2" font-size="41.21" text-anchor="start" textLength="49.5" lengthAdjust="spacingAndGlyphs" >36</text></g>
<line x1="2412.6" y1="1794.9" x2="2412.6" y2="1810.0" stroke="#000" stroke-width="3.5"/>
<g transform="translate(2410.2 1856.2) rotate(-45)"><text x="-24.7" y="14.2" font-size="41.21" text-anchor="start" textLength="49.5" lengthAdjust="spacingAndGlyphs" >48</text></g>
<line x1="2562.8" y1="1794.9" x2="2562.8" y2="1810.0" stroke="#000" stroke-width="3.5"/>
<g transform="translate(2560.4 1856.2) rotate(-45)"><text x="-24.7" y="14.2" font-size="41.21" text-anchor="start" textLength="49.5" lengthAdjust="spacingAndGlyphs" >60</text></g>
<line x1="2713.0" y1="1794.9" x2="2713.0" y2="1810.0" stroke="#000" stroke-width="3.5"/>
<g transform="translate(2710.6 1856.2) rotate(-45)"><text x="-24.7" y="14.2" font-size="41.21" text-anchor="start" textLength="49.5" lengthAdjust="spacingAndGlyphs" >72</text></g>
<line x1="2863.3" y1="1794.9" x2="2863.3" y2="1810.0" stroke="#000" stroke-width="3.5"/>
<g transform="translate(2860.9 1856.2) rotate(-45)"><text x="-24.7" y="14.2" font-size="41.21" text-anchor="start" textLength="49.5" lengthAdjust="spacingAndGlyphs" >96</text></g>
<line x1="3013.5" y1="1794.9" x2="3013.5" y2="1810.0" stroke="#000" stroke-width="3.5"/>
<g transform="translate(3011.1 1864.9) rotate(-45)"><text x="-37.1" y="14.2" font-size="41.21" text-anchor="start" textLength="74.2" lengthAdjust="spacingAndGlyphs" >120</text></g>
<rect x="2462.3" y="1079.2" width="306.3" height="559.9" rx="8" ry="8" fill="rgba(255,255,255,0.8)" stroke="#d3d3d3" stroke-width="3.5"/>
<text x="2550.1" y="1127.6" font-size="44.15" text-anchor="start" textLength="130.9" lengthAdjust="spacingAndGlyphs" >P-Type</text>
<rect x="2476.8" y="1155.9" width="87.2" height="33.2" fill="#0000ff"/>
<text x="2595.5" y="1188.2" font-size="44.15" text-anchor="start" textLength="112.2" lengthAdjust="spacingAndGlyphs" >Snow</text>
<rect x="2476.8" y="1216.8" width="87.2" height="33.2" fill="#00ffff"/>
<text x="2595.5" y="1249.1" font-size="44.15" text-anchor="start" textLength="60.9" lengthAdjust="spacingAndGlyphs" >Ice</text>
<rect x="2476.8" y="1277.7" width="87.2" height="33.2" fill="#ff0000"/>
<text x="2595.5" y="1310.0" font-size="44.15" text-anchor="start" textLength="113.5" lengthAdjust="spacingAndGlyphs" >FrzRa</text>
<rect x="2476.8" y="1338.6" width="87.2" height="33.2" fill="#1f77b4"/>
<text x="2595.5" y="1370.9" font-size="44.15" text-anchor="start" textLength="108.6" lengthAdjust="spacingAndGlyphs" >M-SN</text>
<rect x="2476.8" y="1399.5" width="87.2" height="33.2" fill="#7b68ee"/>
<text x="2595.5" y="1431.8" font-size="44.15" text-anchor="start" textLength="156.6" lengthAdjust="spacingAndGlyphs" >M-Sleet</text>
<rect x="2476.8" y="1460.4" width="87.2" height="33.2" fill="#00ced1"/>
<text x="2595.5" y="1492.7" font-size="44.15" text-anchor="start" textLength="120.5" lengthAdjust="spacingAndGlyphs" >M-R/S</text>
<rect x="2476.8" y="1521.3" width="87.2" height="33.2" fill="#483d8b"/>
<text x="2595.5" y="1553.6" font-size="44.15" text-anchor="start" textLength="129.0" lengthAdjust="spacingAndGlyphs" >M-IP/S</text>
<rect x="2476.8" y="1582.2" width="87.2" height="33.2" fill="#40e0d0"/>
<text x="2595.5" y="1614.5" font-size="44.15" text-anchor="start" textLength="131.5" lengthAdjust="spacingAndGlyphs" >M-R/IP</text>
<rect x="2790.8" y="1464.8" width="253.0" height="195.3" rx="8" ry="8" fill="rgba(255,255,255,0.8)" stroke="#d3d3d3" stroke-width="3.5"/>
<text x="2860.7" y="1513.3" font-size="44.15" text-anchor="start" textLength="113.0" lengthAdjust="spacingAndGlyphs" >MSTP</text>
<rect x="2804" y="1542.1" width="88" height="33" fill="#1eff00"/>
<text x="2922.7" y="1574.3" font-size="44.15" text-anchor="start" textLength="64.4" lengthAdjust="spacingAndGlyphs" >1in</text>
<rect x="2804" y="1603.0" width="88" height="33" fill="#80ff80"/>
<text x="2922.7" y="1635.2" font-size="44.15" text-anchor="start" textLength="104.1" lengthAdjust="spacingAndGlyphs" >6.0in</text>
</svg>
</body></html>
